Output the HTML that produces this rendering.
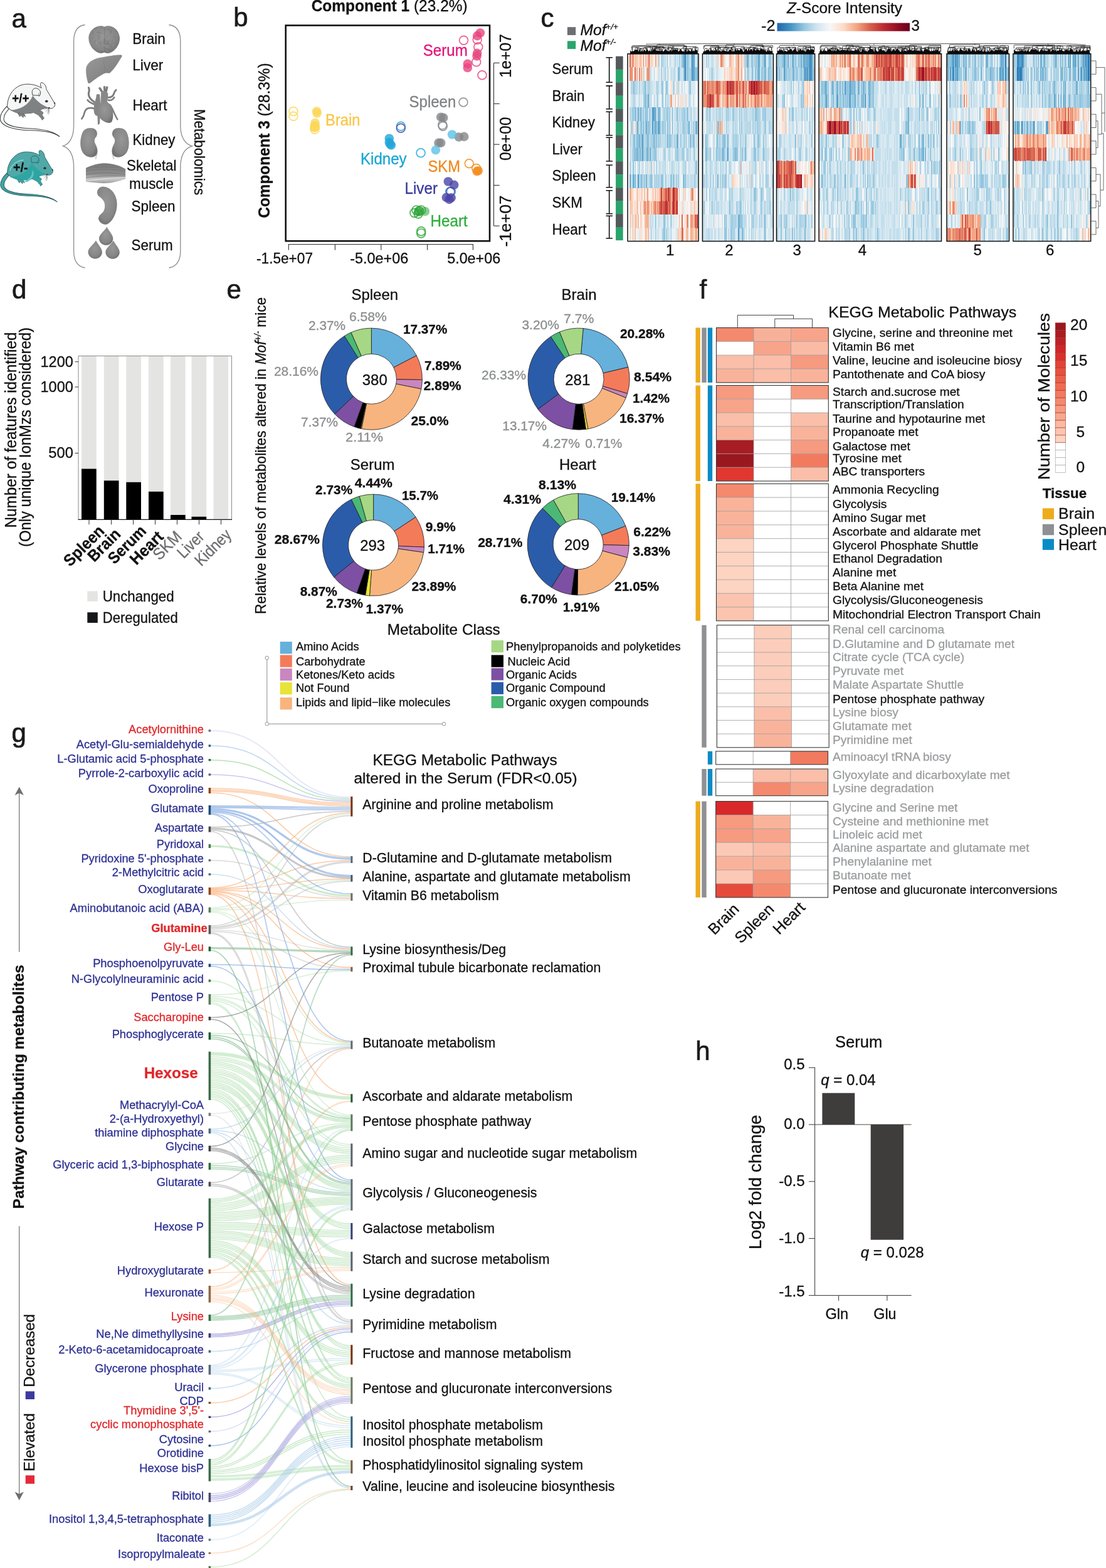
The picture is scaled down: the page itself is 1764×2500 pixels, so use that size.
<!DOCTYPE html>
<html lang="en"><head><meta charset="utf-8"><title>Figure</title>
<style>
html,body{margin:0;padding:0;background:#fff}
svg{display:block}
text{font-family:"Liberation Sans", sans-serif;stroke-width:.3px}
</style></head><body>
<svg width="1764" height="2500" viewBox="0 0 1764 2500">
<rect width="1764" height="2500" fill="#fff"/>
<g id="pa">
<text x="18.5" y="43.5" font-size="42" fill="#1a1a1a" stroke="#1a1a1a" style="stroke-width:.7px">a</text>
<g transform="translate(0,120) scale(0.09582)" stroke-linejoin="round" stroke-linecap="round">
<path d="M110 520 C50 580 -5 660 5 740 C25 850 230 905 470 915 C700 922 880 935 990 1020 C890 925 700 895 480 885 C260 875 85 830 65 745 C55 680 100 610 150 560 Z" fill="#fbfbfb" stroke="#3a3d40" stroke-width="11"/>
<path d="M300 640 L330 690 L350 665 L385 705 L395 670 L425 690 L400 640 Z" fill="#7f8283" stroke="#3a3d40" stroke-width="6"/>
<path d="M640 560 L720 620 L700 660 L735 715 L700 745 L690 720 L660 690 L640 650 Z" fill="#7f8283" stroke="#3a3d40" stroke-width="6"/>
<path d="M120 525 C120 330 250 150 450 148 C560 146 640 180 690 212 C670 170 665 130 690 120 C740 130 770 180 772 235 L905 460 C930 500 905 530 870 548 C850 560 830 548 815 540 C780 540 720 550 660 580 C640 600 620 640 640 660 L560 620 C480 640 380 640 300 630 C240 610 180 590 120 525 Z" fill="#f4f5f5" stroke="#3a3d40" stroke-width="10"/>
<path d="M160 580 C330 580 480 500 545 340 C590 400 680 500 815 540 C780 545 720 550 660 580 C650 600 640 640 660 680 L560 620 C480 640 380 640 300 630 C250 615 200 600 160 580 Z" fill="#7f8283"/>
<path d="M545 330 C510 250 560 200 620 220 C670 240 690 290 660 340 C640 330 600 340 545 330 Z" fill="#f4f5f5" stroke="#3a3d40" stroke-width="10"/>
<path d="M650 350 C640 320 640 300 655 290" fill="none" stroke="#3a3d40" stroke-width="6"/>
<ellipse cx="775" cy="432" rx="24" ry="20" fill="#333"/>
<path d="M905 440 L925 470 L900 480 Z" fill="#333"/>
<path d="M800 545 L825 530 L835 560 Z" fill="#333"/>
<path d="M810 545 L740 570" fill="none" stroke="#333" stroke-width="4"/>
<path d="M810 545 L760 610" fill="none" stroke="#333" stroke-width="4"/>
<path d="M810 545 L790 640" fill="none" stroke="#333" stroke-width="4"/>
<path d="M810 545 L810 650" fill="none" stroke="#333" stroke-width="4"/>
<path d="M810 545 L825 620" fill="none" stroke="#333" stroke-width="4"/>
</g>
<g transform="translate(0.55,228.6) scale(0.0915)" stroke-linejoin="round" stroke-linecap="round">
<path d="M110 520 C50 580 -5 660 5 740 C25 850 230 905 470 915 C700 922 880 935 990 1020 C890 925 700 895 480 885 C260 875 85 830 65 745 C55 680 100 610 150 560 Z" fill="#3fa8a6" stroke="#2b5d60" stroke-width="11"/>
<path d="M300 640 L330 690 L350 665 L385 705 L395 670 L425 690 L400 640 Z" fill="#2fa5a2" stroke="#2b5d60" stroke-width="6"/>
<path d="M640 560 L720 620 L700 660 L735 715 L700 745 L690 720 L660 690 L640 650 Z" fill="#2fa5a2" stroke="#2b5d60" stroke-width="6"/>
<path d="M120 525 C120 330 250 150 450 148 C560 146 640 180 690 212 C670 170 665 130 690 120 C740 130 770 180 772 235 L905 460 C930 500 905 530 870 548 C850 560 830 548 815 540 C780 540 720 550 660 580 C640 600 620 640 640 660 L560 620 C480 640 380 640 300 630 C240 610 180 590 120 525 Z" fill="#4fa9a8" stroke="#2b5d60" stroke-width="10"/>
<path d="M160 580 C330 580 480 500 545 340 C590 400 680 500 815 540 C780 545 720 550 660 580 C650 600 640 640 660 680 L560 620 C480 640 380 640 300 630 C250 615 200 600 160 580 Z" fill="#2fa5a2"/>
<path d="M400 665 C500 640 560 560 560 470 C600 500 590 620 470 670 Z" fill="#62c4c4"/>
<path d="M170 470 C190 380 280 300 400 290" fill="none" stroke="#d8f2f2" stroke-width="9"/>
<path d="M545 330 C510 250 560 200 620 220 C670 240 690 290 660 340 C640 330 600 340 545 330 Z" fill="#4fa9a8" stroke="#2b5d60" stroke-width="10"/>
<path d="M650 350 C640 320 640 300 655 290" fill="none" stroke="#2b5d60" stroke-width="6"/>
<ellipse cx="775" cy="432" rx="24" ry="20" fill="#333"/>
<path d="M905 440 L925 470 L900 480 Z" fill="#333"/>
<path d="M800 545 L825 530 L835 560 Z" fill="#333"/>
<path d="M810 545 L740 570" fill="none" stroke="#333" stroke-width="4"/>
<path d="M810 545 L760 610" fill="none" stroke="#333" stroke-width="4"/>
<path d="M810 545 L790 640" fill="none" stroke="#333" stroke-width="4"/>
<path d="M810 545 L810 650" fill="none" stroke="#333" stroke-width="4"/>
<path d="M810 545 L825 620" fill="none" stroke="#333" stroke-width="4"/>
</g>
<text x="19.2" y="164.4" font-size="20.5" fill="#111" stroke="#111" font-weight="bold" textLength="27.3" lengthAdjust="spacingAndGlyphs">+/+</text>
<text x="21.1" y="273.6" font-size="20.5" fill="#111" stroke="#111" font-weight="bold" textLength="23.5" lengthAdjust="spacingAndGlyphs">+/-</text>
<path d="M135.5 39.5 C124 41 117.6 50 117.6 66 L117.6 200 C117.6 220 110 230 100.5 232.8 C110 235.5 117.6 246 117.6 266 L117.6 400 C117.6 416 124 425 135.5 427" fill="none" stroke="#8a8d91" stroke-width="1.3"/>
<path d="M269.5 39.5 C281 41 287.8 50 287.8 66 L287.8 200 C287.8 220 296 230 306.5 232.8 C296 235.5 287.8 246 287.8 266 L287.8 400 C287.8 416 281 425 269.5 427" fill="none" stroke="#8a8d91" stroke-width="1.3"/>
<defs>
<radialGradient id="og" cx="45%" cy="40%" r="65%"><stop offset="0" stop-color="#979797"/><stop offset="0.7" stop-color="#868686"/><stop offset="1" stop-color="#6f6f6f"/></radialGradient>
<linearGradient id="og2" x1="0" y1="0" x2="1" y2="1"><stop offset="0" stop-color="#9a9a9a"/><stop offset="1" stop-color="#777"/></linearGradient>
<linearGradient id="mg" x1="0" y1="0" x2="0" y2="1"><stop offset="0" stop-color="#777"/><stop offset="0.55" stop-color="#8e8e8e"/><stop offset="0.8" stop-color="#c9c9c9"/><stop offset="1" stop-color="#999"/></linearGradient>
</defs>
<g transform="translate(110,30) scale(0.104527)">
<path d="M300 300 C300 180 400 112 480 108 C510 104 530 112 540 125 C550 112 580 104 610 108 C700 115 775 200 775 300 C775 400 700 500 620 522 C580 532 560 522 540 512 C520 522 500 532 460 522 C380 500 300 400 300 300 Z" fill="url(#og)"/>
<path d="M540 125 C545 250 548 400 540 512" fill="none" stroke="#666" stroke-width="5"/>
<clipPath id="bc"><path d="M300 300 C300 180 400 112 480 108 C510 104 530 112 540 125 C550 112 580 104 610 108 C700 115 775 200 775 300 C775 400 700 500 620 522 C580 532 560 522 540 512 C520 522 500 532 460 522 C380 500 300 400 300 300 Z"/></clipPath><g clip-path="url(#bc)"><path d="M412 333Q403 327 382 365" fill="none" stroke="#6f6f6f" stroke-width="6" stroke-linecap="round"/><path d="M422 206Q458 204 461 205" fill="none" stroke="#757575" stroke-width="5" stroke-linecap="round"/><path d="M598 466Q584 441 552 459" fill="none" stroke="#6f6f6f" stroke-width="6" stroke-linecap="round"/><path d="M667 448Q685 463 661 490" fill="none" stroke="#707070" stroke-width="6" stroke-linecap="round"/><path d="M642 347Q650 320 670 340" fill="none" stroke="#707070" stroke-width="5" stroke-linecap="round"/><path d="M421 386Q422 377 430 336" fill="none" stroke="#9c9c9c" stroke-width="7" stroke-linecap="round"/><path d="M575 350Q615 354 612 324" fill="none" stroke="#757575" stroke-width="7" stroke-linecap="round"/><path d="M704 505Q733 479 739 482" fill="none" stroke="#9c9c9c" stroke-width="6" stroke-linecap="round"/><path d="M358 308Q338 271 333 277" fill="none" stroke="#757575" stroke-width="5" stroke-linecap="round"/><path d="M438 425Q453 393 456 406" fill="none" stroke="#9c9c9c" stroke-width="7" stroke-linecap="round"/><path d="M714 512Q677 490 659 510" fill="none" stroke="#6f6f6f" stroke-width="5" stroke-linecap="round"/><path d="M757 230Q779 244 753 275" fill="none" stroke="#9c9c9c" stroke-width="5" stroke-linecap="round"/><path d="M721 265Q709 275 682 275" fill="none" stroke="#6f6f6f" stroke-width="7" stroke-linecap="round"/><path d="M757 443Q765 486 751 486" fill="none" stroke="#707070" stroke-width="6" stroke-linecap="round"/><path d="M545 335Q568 312 582 338" fill="none" stroke="#757575" stroke-width="5" stroke-linecap="round"/><path d="M598 246Q587 256 566 288" fill="none" stroke="#707070" stroke-width="5" stroke-linecap="round"/><path d="M577 501Q601 494 613 506" fill="none" stroke="#9c9c9c" stroke-width="5" stroke-linecap="round"/><path d="M471 238Q447 248 442 270" fill="none" stroke="#6f6f6f" stroke-width="7" stroke-linecap="round"/><path d="M621 164Q588 155 577 164" fill="none" stroke="#707070" stroke-width="7" stroke-linecap="round"/><path d="M628 152Q637 164 613 183" fill="none" stroke="#757575" stroke-width="5" stroke-linecap="round"/><path d="M458 377Q459 345 487 351" fill="none" stroke="#757575" stroke-width="6" stroke-linecap="round"/><path d="M679 454Q701 476 693 484" fill="none" stroke="#9c9c9c" stroke-width="7" stroke-linecap="round"/><path d="M361 230Q358 210 370 198" fill="none" stroke="#707070" stroke-width="7" stroke-linecap="round"/><path d="M492 487Q522 517 506 508" fill="none" stroke="#707070" stroke-width="7" stroke-linecap="round"/><path d="M747 490Q768 522 755 537" fill="none" stroke="#9c9c9c" stroke-width="7" stroke-linecap="round"/><path d="M460 203Q469 228 499 221" fill="none" stroke="#6f6f6f" stroke-width="5" stroke-linecap="round"/><path d="M725 394Q768 386 771 370" fill="none" stroke="#6f6f6f" stroke-width="6" stroke-linecap="round"/><path d="M650 180Q645 197 636 223" fill="none" stroke="#6f6f6f" stroke-width="6" stroke-linecap="round"/><path d="M359 509Q313 488 311 496" fill="none" stroke="#6f6f6f" stroke-width="7" stroke-linecap="round"/><path d="M717 159Q738 157 719 192" fill="none" stroke="#6f6f6f" stroke-width="6" stroke-linecap="round"/><path d="M595 464Q600 470 627 474" fill="none" stroke="#707070" stroke-width="5" stroke-linecap="round"/><path d="M522 428Q517 410 549 429" fill="none" stroke="#6f6f6f" stroke-width="6" stroke-linecap="round"/><path d="M758 460Q766 461 792 481" fill="none" stroke="#9c9c9c" stroke-width="6" stroke-linecap="round"/><path d="M604 351Q586 343 584 374" fill="none" stroke="#6f6f6f" stroke-width="7" stroke-linecap="round"/><path d="M640 436Q626 438 616 425" fill="none" stroke="#707070" stroke-width="7" stroke-linecap="round"/><path d="M677 365Q660 383 644 381" fill="none" stroke="#707070" stroke-width="7" stroke-linecap="round"/><path d="M497 117Q504 149 503 150" fill="none" stroke="#757575" stroke-width="6" stroke-linecap="round"/><path d="M361 122Q352 164 337 170" fill="none" stroke="#6f6f6f" stroke-width="6" stroke-linecap="round"/><path d="M625 495Q623 464 619 445" fill="none" stroke="#6f6f6f" stroke-width="7" stroke-linecap="round"/><path d="M450 328Q457 293 467 285" fill="none" stroke="#707070" stroke-width="5" stroke-linecap="round"/><path d="M548 341Q554 318 528 311" fill="none" stroke="#6f6f6f" stroke-width="5" stroke-linecap="round"/><path d="M697 386Q714 378 724 340" fill="none" stroke="#6f6f6f" stroke-width="7" stroke-linecap="round"/><path d="M540 403Q581 396 578 433" fill="none" stroke="#9c9c9c" stroke-width="7" stroke-linecap="round"/><path d="M385 142Q405 151 429 141" fill="none" stroke="#707070" stroke-width="6" stroke-linecap="round"/><path d="M473 273Q441 288 451 303" fill="none" stroke="#707070" stroke-width="7" stroke-linecap="round"/><path d="M755 280Q756 281 716 263" fill="none" stroke="#757575" stroke-width="7" stroke-linecap="round"/><path d="M488 474Q498 501 509 508" fill="none" stroke="#707070" stroke-width="7" stroke-linecap="round"/><path d="M638 186Q640 192 635 217" fill="none" stroke="#757575" stroke-width="7" stroke-linecap="round"/><path d="M553 430Q546 412 529 385" fill="none" stroke="#9c9c9c" stroke-width="5" stroke-linecap="round"/><path d="M444 220Q453 192 455 191" fill="none" stroke="#707070" stroke-width="5" stroke-linecap="round"/><path d="M497 396Q496 401 487 366" fill="none" stroke="#6f6f6f" stroke-width="6" stroke-linecap="round"/><path d="M767 140Q809 109 812 124" fill="none" stroke="#757575" stroke-width="5" stroke-linecap="round"/><path d="M605 429Q607 455 633 442" fill="none" stroke="#9c9c9c" stroke-width="5" stroke-linecap="round"/><path d="M388 399Q392 397 421 358" fill="none" stroke="#9c9c9c" stroke-width="5" stroke-linecap="round"/><path d="M499 409Q528 406 523 423" fill="none" stroke="#9c9c9c" stroke-width="6" stroke-linecap="round"/><path d="M573 387Q587 387 608 388" fill="none" stroke="#757575" stroke-width="7" stroke-linecap="round"/><path d="M575 502Q540 504 543 528" fill="none" stroke="#707070" stroke-width="5" stroke-linecap="round"/><path d="M506 326Q516 356 506 367" fill="none" stroke="#9c9c9c" stroke-width="6" stroke-linecap="round"/><path d="M439 387Q413 380 411 347" fill="none" stroke="#9c9c9c" stroke-width="7" stroke-linecap="round"/><path d="M566 326Q534 298 546 291" fill="none" stroke="#757575" stroke-width="7" stroke-linecap="round"/><path d="M603 369Q622 373 626 415" fill="none" stroke="#757575" stroke-width="6" stroke-linecap="round"/><path d="M603 376Q573 384 573 393" fill="none" stroke="#757575" stroke-width="7" stroke-linecap="round"/><path d="M332 403Q345 376 333 362" fill="none" stroke="#9c9c9c" stroke-width="6" stroke-linecap="round"/><path d="M480 468Q487 486 519 478" fill="none" stroke="#9c9c9c" stroke-width="6" stroke-linecap="round"/><path d="M744 294Q749 306 754 269" fill="none" stroke="#757575" stroke-width="6" stroke-linecap="round"/><path d="M577 389Q534 389 529 369" fill="none" stroke="#707070" stroke-width="7" stroke-linecap="round"/><path d="M649 444Q631 418 649 402" fill="none" stroke="#757575" stroke-width="7" stroke-linecap="round"/><path d="M548 343Q567 335 558 374" fill="none" stroke="#707070" stroke-width="6" stroke-linecap="round"/><path d="M746 267Q733 284 706 253" fill="none" stroke="#9c9c9c" stroke-width="7" stroke-linecap="round"/><path d="M528 357Q539 352 524 332" fill="none" stroke="#707070" stroke-width="5" stroke-linecap="round"/></g>
<path d="M260 760 C270 680 350 612 480 590 C600 570 720 545 800 550 C822 560 800 590 780 620 C740 690 680 780 620 830 C590 832 570 825 550 830 C480 860 400 920 330 975 C310 992 290 990 285 960 C270 900 255 830 260 760 Z" fill="url(#og2)"/>
<path d="M530 620 C535 700 545 770 550 830" fill="none" stroke="#777" stroke-width="5"/>
<path d="M400 1280 C340 1240 300 1200 300 1150 C300 1110 320 1080 300 1050" fill="none" stroke="#7d7d7d" stroke-width="29.9" stroke-linecap="round"/>
<path d="M400 1310 C350 1290 300 1270 285 1240" fill="none" stroke="#7d7d7d" stroke-width="27.599999999999998" stroke-linecap="round"/>
<path d="M390 1370 C320 1350 260 1360 240 1420 C230 1470 215 1500 195 1525" fill="none" stroke="#7d7d7d" stroke-width="25.299999999999997" stroke-linecap="round"/>
<path d="M600 1200 C650 1200 680 1170 690 1130 C695 1100 710 1095 720 1085" fill="none" stroke="#7d7d7d" stroke-width="27.599999999999998" stroke-linecap="round"/>
<path d="M600 1240 C640 1250 670 1230 690 1200" fill="none" stroke="#7d7d7d" stroke-width="25.299999999999997" stroke-linecap="round"/>
<path d="M620 1310 C670 1360 680 1440 740 1535" fill="none" stroke="#7d7d7d" stroke-width="23.0" stroke-linecap="round"/>
<path d="M470 1060 L510 1120" fill="none" stroke="#7d7d7d" stroke-width="34.5" stroke-linecap="round"/>
<path d="M540 1040 L545 1110" fill="none" stroke="#7d7d7d" stroke-width="32.199999999999996" stroke-linecap="round"/>
<path d="M580 1045 L565 1110" fill="none" stroke="#7d7d7d" stroke-width="34.5" stroke-linecap="round"/>
<path d="M420 1150 L470 1150 L480 1300 L470 1600 L440 1620 L435 1480 C380 1480 370 1400 385 1300 C395 1250 415 1230 420 1150 Z" fill="#858585"/>
<path d="M490 1120 C520 1090 580 1100 595 1140 C600 1200 590 1260 560 1300 L480 1320 Z" fill="#888"/>
<path d="M450 1350 C480 1270 540 1230 590 1270 C660 1330 700 1450 655 1570 C630 1600 570 1590 510 1550 C440 1500 420 1430 450 1350 Z" fill="url(#og)"/>
<path d="M390 1900 C430 1950 440 2050 405 2140" fill="none" stroke="#cfcfcf" stroke-width="22"/>
<path d="M200 1750 C220 1680 300 1650 370 1670 C430 1690 445 1760 415 1800 C385 1830 380 1870 410 1930 C450 2010 440 2080 380 2105 C300 2130 210 2080 185 1980 C165 1900 175 1820 200 1750 Z" fill="url(#og)"/>
<g transform="translate(1090,0) scale(-1,1)"><path d="M390 1900 C430 1950 440 2050 405 2140" fill="none" stroke="#cfcfcf" stroke-width="22"/>
<path d="M200 1750 C220 1680 300 1650 370 1670 C430 1690 445 1760 415 1800 C385 1830 380 1870 410 1930 C450 2010 440 2080 380 2105 C300 2130 210 2080 185 1980 C165 1900 175 1820 200 1750 Z" fill="url(#og)"/>
</g>
</g>
<g transform="translate(110,240) scale(0.087085)">
<path d="M310 320 C450 250 600 225 700 235 C850 245 960 290 1035 340 L1035 520 C900 570 750 600 640 600 C520 590 400 580 310 570 Z" fill="url(#mg)"/>
<path d="M310 380 C500 330 800 330 1035 380" fill="none" stroke="#6c6c6c" stroke-width="7"/>
<path d="M310 440 C500 400 800 400 1035 440" fill="none" stroke="#6c6c6c" stroke-width="7"/>
<path d="M330 330 C500 290 800 290 1000 330" fill="none" stroke="#6c6c6c" stroke-width="7"/>
<path d="M310 500 C500 470 800 450 1035 470" fill="none" stroke="#6c6c6c" stroke-width="7"/>
<path d="M310 560 C500 530 800 500 1035 490" fill="none" stroke="#e0e0e0" stroke-width="14"/>
<path d="M620 660 C760 660 880 800 880 980 C880 1150 800 1300 700 1350 C640 1370 570 1330 545 1270 C530 1220 560 1180 600 1150 C650 1110 660 1050 655 990 C650 920 600 870 550 840 C510 810 505 740 540 700 C560 675 590 660 620 660 Z" fill="url(#og)"/>
<g transform="translate(680,1600) rotate(4)"><path d="M0 -195 C30 -140 125 -60 125 10 C125 80 70 130 0 130 C-70 130 -125 80 -125 10 C-125 -60 -20 -140 0 -195 Z" fill="url(#og)" stroke="#6a6a6a" stroke-width="6"/>
</g>
<g transform="translate(480,1848) rotate(4)"><path d="M0 -195 C30 -140 125 -60 125 10 C125 80 70 130 0 130 C-70 130 -125 80 -125 10 C-125 -60 -20 -140 0 -195 Z" fill="url(#og)" stroke="#6a6a6a" stroke-width="6"/>
</g>
<g transform="translate(800,1850) rotate(4)"><path d="M0 -195 C30 -140 125 -60 125 10 C125 80 70 130 0 130 C-70 130 -125 80 -125 10 C-125 -60 -20 -140 0 -195 Z" fill="url(#og)" stroke="#6a6a6a" stroke-width="6"/>
</g>
</g>
<text x="211.3" y="70.2" font-size="24" fill="#111" stroke="#111" textLength="52.5" lengthAdjust="spacingAndGlyphs">Brain</text>
<text x="211.3" y="111.6" font-size="24" fill="#111" stroke="#111" textLength="49.0" lengthAdjust="spacingAndGlyphs">Liver</text>
<text x="211.5" y="176.0" font-size="24" fill="#111" stroke="#111" textLength="55.0" lengthAdjust="spacingAndGlyphs">Heart</text>
<text x="211.5" y="231.4" font-size="24" fill="#111" stroke="#111" textLength="68.0" lengthAdjust="spacingAndGlyphs">Kidney</text>
<text x="202.0" y="272.0" font-size="24" fill="#111" stroke="#111" textLength="79.5" lengthAdjust="spacingAndGlyphs">Skeletal</text>
<text x="206.0" y="301.0" font-size="24" fill="#111" stroke="#111" textLength="71.0" lengthAdjust="spacingAndGlyphs">muscle</text>
<text x="209.6" y="337.0" font-size="24" fill="#111" stroke="#111" textLength="70.0" lengthAdjust="spacingAndGlyphs">Spleen</text>
<text x="209.6" y="399.4" font-size="24" fill="#111" stroke="#111" textLength="66.0" lengthAdjust="spacingAndGlyphs">Serum</text>
<text x="309.5" y="174.0" font-size="24" fill="#111" stroke="#111" textLength="137.0" lengthAdjust="spacingAndGlyphs" transform="rotate(90 309.5 174.0)">Metabolomics</text>
</g>
<g id="pb">
<text x="372.3" y="41.7" font-size="42" fill="#1a1a1a" stroke="#1a1a1a" style="stroke-width:.7px">b</text>
<text x="496.7" y="18.3" font-size="25.5" fill="#111" stroke="#111" textLength="249" lengthAdjust="spacingAndGlyphs"><tspan font-weight="bold">Component 1</tspan> (23.2%)</text>
<text x="430.4" y="347.5" font-size="25.5" fill="#111" stroke="#111" textLength="247" lengthAdjust="spacingAndGlyphs" transform="rotate(-90 430.4 347.5)"><tspan font-weight="bold">Component 3</tspan> (28.3%)</text>
<rect x="455.7" y="40.5" width="325.3" height="343.8" fill="#fff" stroke="#111" stroke-width="2.6"/>
<line x1="459.8" y1="389.7" x2="754.9" y2="389.7" stroke="#222" stroke-width="1"/>
<line x1="460.3" y1="389.7" x2="460.3" y2="398.7" stroke="#222" stroke-width="1"/>
<line x1="534.4" y1="389.7" x2="534.4" y2="398.7" stroke="#222" stroke-width="1"/>
<line x1="607.8" y1="389.7" x2="607.8" y2="398.7" stroke="#222" stroke-width="1"/>
<line x1="681.6" y1="389.7" x2="681.6" y2="398.7" stroke="#222" stroke-width="1"/>
<line x1="754.4" y1="389.7" x2="754.4" y2="398.7" stroke="#222" stroke-width="1"/>
<text x="409.0" y="420.0" font-size="24.5" fill="#111" stroke="#111" textLength="90.0" lengthAdjust="spacingAndGlyphs">-1.5e+07</text>
<text x="558.3" y="420.0" font-size="24.5" fill="#111" stroke="#111" textLength="93.0" lengthAdjust="spacingAndGlyphs">-5.0e+06</text>
<text x="713.2" y="420.0" font-size="24.5" fill="#111" stroke="#111" textLength="85.0" lengthAdjust="spacingAndGlyphs">5.0e+06</text>
<line x1="787.5" y1="100.3" x2="787.5" y2="360.2" stroke="#222" stroke-width="1"/>
<line x1="787.5" y1="100.3" x2="796.7" y2="100.3" stroke="#222" stroke-width="1"/>
<line x1="787.5" y1="165.4" x2="796.7" y2="165.4" stroke="#222" stroke-width="1"/>
<line x1="787.5" y1="230.2" x2="796.7" y2="230.2" stroke="#222" stroke-width="1"/>
<line x1="787.5" y1="295.4" x2="796.7" y2="295.4" stroke="#222" stroke-width="1"/>
<line x1="787.5" y1="360.2" x2="796.7" y2="360.2" stroke="#222" stroke-width="1"/>
<text x="814.7" y="124.0" font-size="25.5" fill="#111" stroke="#111" textLength="70.0" lengthAdjust="spacingAndGlyphs" transform="rotate(-90 814.7 124.0)">1e+07</text>
<text x="814.7" y="256.0" font-size="25.5" fill="#111" stroke="#111" textLength="69.5" lengthAdjust="spacingAndGlyphs" transform="rotate(-90 814.7 256.0)">0e+00</text>
<text x="814.7" y="393.5" font-size="25.5" fill="#111" stroke="#111" textLength="82.0" lengthAdjust="spacingAndGlyphs" transform="rotate(-90 814.7 393.5)">-1e+07</text>
<circle cx="765.9" cy="52.5" r="7.3" fill="#e8457f" fill-opacity="0.8"/>
<circle cx="761.2" cy="57.1" r="7.3" fill="#e8457f" fill-opacity="0.8"/>
<circle cx="761.2" cy="84.9" r="7.3" fill="#e8457f" fill-opacity="0.8"/>
<circle cx="760.6" cy="89.5" r="7.3" fill="#e8457f" fill-opacity="0.8"/>
<circle cx="745.8" cy="101.9" r="7.3" fill="#e8457f" fill-opacity="0.8"/>
<circle cx="745.8" cy="108.0" r="7.3" fill="#e8457f" fill-opacity="0.8"/>
<circle cx="739.6" cy="64.2" r="6.9" fill="none" stroke="#e8457f" stroke-width="1.7" stroke-opacity="0.85"/>
<circle cx="761.2" cy="63.3" r="6.9" fill="none" stroke="#e8457f" stroke-width="1.7" stroke-opacity="0.85"/>
<circle cx="762.8" cy="75.0" r="6.9" fill="none" stroke="#e8457f" stroke-width="1.7" stroke-opacity="0.85"/>
<circle cx="759.7" cy="98.8" r="6.9" fill="none" stroke="#e8457f" stroke-width="1.7" stroke-opacity="0.85"/>
<circle cx="769.0" cy="119.8" r="6.9" fill="none" stroke="#e8457f" stroke-width="1.7" stroke-opacity="0.85"/>
<circle cx="703.2" cy="186.7" r="7.3" fill="#858688" fill-opacity="0.8"/>
<circle cx="707.2" cy="187.7" r="7.3" fill="#858688" fill-opacity="0.8"/>
<circle cx="699.5" cy="227.8" r="7.3" fill="#858688" fill-opacity="0.8"/>
<circle cx="703.2" cy="227.8" r="7.3" fill="#858688" fill-opacity="0.8"/>
<circle cx="731.9" cy="218.5" r="7.3" fill="#858688" fill-opacity="0.8"/>
<circle cx="740.2" cy="217.9" r="7.3" fill="#858688" fill-opacity="0.8"/>
<circle cx="739.0" cy="163.0" r="6.9" fill="none" stroke="#858688" stroke-width="1.7" stroke-opacity="0.85"/>
<circle cx="705.7" cy="199.1" r="6.9" fill="none" stroke="#858688" stroke-width="1.7" stroke-opacity="0.85"/>
<circle cx="706.3" cy="201.2" r="6.9" fill="none" stroke="#858688" stroke-width="1.7" stroke-opacity="0.85"/>
<circle cx="505.1" cy="177.5" r="7.3" fill="#fbd757" fill-opacity="0.8"/>
<circle cx="505.7" cy="180.6" r="7.3" fill="#fbd757" fill-opacity="0.8"/>
<circle cx="502.6" cy="196.0" r="7.3" fill="#fbd757" fill-opacity="0.8"/>
<circle cx="502.0" cy="200.6" r="7.3" fill="#fbd757" fill-opacity="0.8"/>
<circle cx="501.4" cy="203.7" r="7.3" fill="#fbd757" fill-opacity="0.8"/>
<circle cx="468.0" cy="177.5" r="6.9" fill="none" stroke="#fbd757" stroke-width="1.7" stroke-opacity="0.85"/>
<circle cx="468.0" cy="185.2" r="6.9" fill="none" stroke="#fbd757" stroke-width="1.7" stroke-opacity="0.85"/>
<circle cx="502.6" cy="202.2" r="6.9" fill="none" stroke="#fbd757" stroke-width="1.7" stroke-opacity="0.85"/>
<circle cx="502.0" cy="206.2" r="6.9" fill="none" stroke="#fbd757" stroke-width="1.7" stroke-opacity="0.85"/>
<circle cx="620.8" cy="220.7" r="7.3" fill="#22a6da" fill-opacity="0.8"/>
<circle cx="620.8" cy="226.9" r="7.3" fill="#22a6da" fill-opacity="0.8"/>
<circle cx="622.3" cy="229.9" r="7.3" fill="#22a6da" fill-opacity="0.8"/>
<circle cx="623.9" cy="231.5" r="7.3" fill="#22a6da" fill-opacity="0.8"/>
<circle cx="639.3" cy="201.2" r="6.9" fill="none" stroke="#22a6da" stroke-width="1.7" stroke-opacity="0.85"/>
<circle cx="671.1" cy="243.8" r="6.9" fill="none" stroke="#22a6da" stroke-width="1.7" stroke-opacity="0.85"/>
<circle cx="719.6" cy="305.6" r="6.9" fill="none" stroke="#22a6da" stroke-width="1.7" stroke-opacity="0.85"/>
<circle cx="721.1" cy="214.5" r="7.3" fill="#5cc0e8" fill-opacity="0.8"/>
<circle cx="694.9" cy="239.2" r="7.3" fill="#5cc0e8" fill-opacity="0.8"/>
<circle cx="714.9" cy="289.5" r="7.3" fill="#4a43a6" fill-opacity="0.8"/>
<circle cx="724.2" cy="294.8" r="7.3" fill="#4a43a6" fill-opacity="0.8"/>
<circle cx="711.9" cy="314.8" r="7.3" fill="#4a43a6" fill-opacity="0.8"/>
<circle cx="716.5" cy="317.9" r="7.3" fill="#4a43a6" fill-opacity="0.8"/>
<circle cx="719.6" cy="315.4" r="7.3" fill="#4a43a6" fill-opacity="0.8"/>
<circle cx="639.3" cy="204.3" r="6.9" fill="none" stroke="#4a43a6" stroke-width="1.7" stroke-opacity="0.85"/>
<circle cx="718.0" cy="305.6" r="6.9" fill="none" stroke="#4a43a6" stroke-width="1.7" stroke-opacity="0.85"/>
<circle cx="760.6" cy="273.1" r="7.3" fill="#f28c1e" fill-opacity="0.8"/>
<circle cx="762.8" cy="272.2" r="7.3" fill="#f28c1e" fill-opacity="0.8"/>
<circle cx="748.3" cy="260.8" r="6.9" fill="none" stroke="#f28c1e" stroke-width="1.7" stroke-opacity="0.85"/>
<circle cx="759.7" cy="268.5" r="6.9" fill="none" stroke="#f28c1e" stroke-width="1.7" stroke-opacity="0.85"/>
<circle cx="677.9" cy="337.0" r="7.3" fill="#2ea43a" fill-opacity="0.55"/>
<circle cx="668.6" cy="335.8" r="7.3" fill="#2ea43a" fill-opacity="0.55"/>
<circle cx="667.1" cy="338.0" r="7.3" fill="#2ea43a" fill-opacity="0.55"/>
<circle cx="664.0" cy="334.9" r="6.9" fill="none" stroke="#2ea43a" stroke-width="1.7" stroke-opacity="0.85"/>
<circle cx="668.6" cy="336.4" r="6.9" fill="none" stroke="#2ea43a" stroke-width="1.7" stroke-opacity="0.85"/>
<circle cx="671.7" cy="334.9" r="6.9" fill="none" stroke="#2ea43a" stroke-width="1.7" stroke-opacity="0.85"/>
<circle cx="660.9" cy="339.5" r="6.9" fill="none" stroke="#2ea43a" stroke-width="1.7" stroke-opacity="0.85"/>
<circle cx="667.1" cy="341.0" r="6.9" fill="none" stroke="#2ea43a" stroke-width="1.7" stroke-opacity="0.85"/>
<circle cx="671.7" cy="368.8" r="6.9" fill="none" stroke="#2ea43a" stroke-width="1.7" stroke-opacity="0.85"/>
<circle cx="671.7" cy="371.9" r="6.9" fill="none" stroke="#2ea43a" stroke-width="1.7" stroke-opacity="0.85"/>
<text x="674.8" y="88.9" font-size="25" fill="#e3177a" stroke="#e3177a" textLength="71.0" lengthAdjust="spacingAndGlyphs">Serum</text>
<text x="652.6" y="171.3" font-size="25" fill="#808285" stroke="#808285" textLength="74.7" lengthAdjust="spacingAndGlyphs">Spleen</text>
<text x="519.0" y="200.0" font-size="25" fill="#f9c74a" stroke="#f9c74a" textLength="55.6" lengthAdjust="spacingAndGlyphs">Brain</text>
<text x="575.1" y="262.3" font-size="25" fill="#18a5d6" stroke="#18a5d6" textLength="73.5" lengthAdjust="spacingAndGlyphs">Kidney</text>
<text x="682.5" y="274.1" font-size="25" fill="#f08a1d" stroke="#f08a1d" textLength="51.5" lengthAdjust="spacingAndGlyphs">SKM</text>
<text x="645.5" y="308.6" font-size="25" fill="#3a3a9c" stroke="#3a3a9c" textLength="52.5" lengthAdjust="spacingAndGlyphs">Liver</text>
<text x="686.5" y="360.5" font-size="25" fill="#2fae3d" stroke="#2fae3d" textLength="59.3" lengthAdjust="spacingAndGlyphs">Heart</text>
</g>
<g id="pc">
<text x="862.5" y="42.8" font-size="42" fill="#1a1a1a" stroke="#1a1a1a" style="stroke-width:.7px">c</text>
<rect x="904.9" y="43.2" width="13.3" height="12.8" fill="#6d6e71"/>
<rect x="904.9" y="65.3" width="13.3" height="12.8" fill="#2ba56c"/>
<text x="925.5" y="56" font-size="24" font-style="italic" fill="#111" stroke="#111" textLength="41" lengthAdjust="spacingAndGlyphs">Mof</text>
<text x="966.3" y="46.5" font-size="13.5" font-style="italic" fill="#111" stroke="#111">+/+</text>
<text x="925.5" y="80.5" font-size="24" font-style="italic" fill="#111" stroke="#111" textLength="41" lengthAdjust="spacingAndGlyphs">Mof</text>
<text x="966.3" y="71.0" font-size="13.5" font-style="italic" fill="#111" stroke="#111">+/-</text>
<defs><linearGradient id="zb" x1="0" x2="1" y1="0" y2="0"><stop offset="0.0" stop-color="#2166ac"/><stop offset="0.1" stop-color="#4393c3"/><stop offset="0.2" stop-color="#92c5de"/><stop offset="0.3" stop-color="#d1e5f0"/><stop offset="0.4" stop-color="#f7f7f7"/><stop offset="0.5" stop-color="#fddbc7"/><stop offset="0.6" stop-color="#f4a582"/><stop offset="0.7" stop-color="#d6604d"/><stop offset="0.8" stop-color="#bc2d35"/><stop offset="0.9" stop-color="#960f26"/><stop offset="1.0" stop-color="#67001f"/></linearGradient></defs>
<rect x="1239.5" y="36.6" width="211.5" height="13.1" fill="url(#zb)"/>
<text x="1255" y="20.5" font-size="24" fill="#111" stroke="#111" textLength="184" lengthAdjust="spacingAndGlyphs"><tspan font-style="italic">Z</tspan>-Score Intensity</text>
<text x="1214.0" y="49.2" font-size="24" fill="#111" stroke="#111" textLength="22.5" lengthAdjust="spacingAndGlyphs">-2</text>
<text x="1453.5" y="49.2" font-size="24" fill="#111" stroke="#111">3</text>
<text x="880.4" y="117.9" font-size="24" fill="#111" stroke="#111" textLength="65.3" lengthAdjust="spacingAndGlyphs">Serum</text>
<text x="880.4" y="160.5" font-size="24" fill="#111" stroke="#111" textLength="52.0" lengthAdjust="spacingAndGlyphs">Brain</text>
<text x="880.4" y="203.1" font-size="24" fill="#111" stroke="#111" textLength="68.5" lengthAdjust="spacingAndGlyphs">Kidney</text>
<text x="880.4" y="245.7" font-size="24" fill="#111" stroke="#111" textLength="48.5" lengthAdjust="spacingAndGlyphs">Liver</text>
<text x="880.4" y="288.3" font-size="24" fill="#111" stroke="#111" textLength="70.0" lengthAdjust="spacingAndGlyphs">Spleen</text>
<text x="880.4" y="330.9" font-size="24" fill="#111" stroke="#111" textLength="48.5" lengthAdjust="spacingAndGlyphs">SKM</text>
<text x="880.4" y="373.5" font-size="24" fill="#111" stroke="#111" textLength="55.0" lengthAdjust="spacingAndGlyphs">Heart</text>
<path d="M966.5 91.7H977M971.7 91.7V131.2M966.5 131.2H977" fill="none" stroke="#111" stroke-width="1.6"/>
<path d="M966.5 136.9H977M971.7 136.9V173.8M966.5 173.8H977" fill="none" stroke="#111" stroke-width="1.6"/>
<path d="M966.5 178.3H977M971.7 178.3V215.8M966.5 215.8H977" fill="none" stroke="#111" stroke-width="1.6"/>
<path d="M966.5 219.2H977M971.7 219.2V257M966.5 257H977" fill="none" stroke="#111" stroke-width="1.6"/>
<path d="M966.5 263.2H977M971.7 263.2V298.7M966.5 298.7H977" fill="none" stroke="#111" stroke-width="1.6"/>
<path d="M966.5 303.8H977M971.7 303.8V340.8M966.5 340.8H977" fill="none" stroke="#111" stroke-width="1.6"/>
<path d="M966.5 344.2H977M971.7 344.2V380M966.5 380H977" fill="none" stroke="#111" stroke-width="1.6"/>
<rect x="982.1" y="89.7" width="11.6" height="21.2" fill="#54595b"/>
<rect x="982.1" y="110.7" width="11.6" height="21.2" fill="#2aa46c"/>
<rect x="982.1" y="131.6" width="11.6" height="21.2" fill="#54595b"/>
<rect x="982.1" y="152.6" width="11.6" height="21.2" fill="#2aa46c"/>
<rect x="982.1" y="173.5" width="11.6" height="21.2" fill="#54595b"/>
<rect x="982.1" y="194.4" width="11.6" height="21.2" fill="#2aa46c"/>
<rect x="982.1" y="215.4" width="11.6" height="21.2" fill="#54595b"/>
<rect x="982.1" y="236.4" width="11.6" height="21.2" fill="#2aa46c"/>
<rect x="982.1" y="257.3" width="11.6" height="21.2" fill="#54595b"/>
<rect x="982.1" y="278.2" width="11.6" height="21.2" fill="#2aa46c"/>
<rect x="982.1" y="299.2" width="11.6" height="21.2" fill="#54595b"/>
<rect x="982.1" y="320.1" width="11.6" height="21.2" fill="#2aa46c"/>
<rect x="982.1" y="341.1" width="11.6" height="21.2" fill="#54595b"/>
<rect x="982.1" y="362.0" width="11.6" height="21.2" fill="#2aa46c"/>
<g shape-rendering="crispEdges" stroke-width="21.81" fill="none">
<path stroke="#d15648" d="M1004.4 97H1005.9M1035 97H1036.3M1060.9 310H1063.7M1078.8 310H1080.8M1044.6 331.3H1046.1M1052.4 331.3H1054.4M1058.4 331.3H1060.9M1063.7 331.3H1064.7M1071.5 331.3H1073M1077.8 331.3H1078.8M1107.7 352.6H1109M1125.2 139.6H1126.2M1142 139.6H1145.6M1174 139.6H1176.5M1178.5 139.6H1179.5M1184 139.6H1187.3M1194.6 139.6H1197.1M1210.9 139.6H1213.4M1214.4 139.6H1215.9M1217.7 139.6H1221.2M1129 160.9H1130M1134 160.9H1136.5M1144.1 160.9H1145.6M1174 160.9H1176.5M1178.5 160.9H1179.5M1239.3 267.4H1240.3M1249.6 267.4H1251.9M1257.5 267.4H1259.5M1260.3 267.4H1262.3M1267.7 267.4H1269.7M1258.5 288.7H1260.3M1267.7 288.7H1269.7M1401.1 97H1403.6M1406.1 97H1407.6M1408.6 97H1409.6M1411.6 97H1413.9M1414.7 97H1415.7M1418.2 97H1419.2M1428 97H1429.3M1439.1 97H1440.6M1471.3 97H1472.6M1476.9 97H1477.9M1481.4 97H1482.4M1497 97H1498M1367.5 118.3H1368.5M1373.1 118.3H1376.4M1407.6 118.3H1408.6M1410.6 118.3H1413.9M1422.5 118.3H1423.5M1428 118.3H1429.3M1440.6 118.3H1441.9M1465.5 118.3H1466.3M1474.1 118.3H1475.1M1482.4 118.3H1484.4M1492.7 118.3H1493.7M1498 118.3H1500M1320.2 203.5H1321.2M1335.3 203.5H1337.8M1340.3 203.5H1342.3M1453.2 288.7H1454.2M1572.9 203.5H1575.4M1578.7 203.5H1580.7M1587.3 203.5H1589.8M1592.3 203.5H1594.3M1534.1 352.6H1534.9M1538.5 352.6H1541M1529.3 373.9H1530.8M1534.1 373.9H1534.9M1538.5 373.9H1541M1556.9 373.9H1557.7M1695.7 203.5H1697M1703.3 203.5H1705.6M1616.7 246.1H1618.7M1621.2 246.1H1622.2M1623.7 246.1H1625.7M1636.8 246.1H1643.6M1656.6 246.1H1658.1M1659.4 246.1H1660.9M1709.6 246.1H1711.1M1728.8 246.1H1729.8"/>
<path stroke="#f9ece4" d="M1005.9 97H1006.9M1041.6 97H1042.6M1048.1 97H1048.9M1047.1 118.3H1048.1M1052.4 118.3H1054.4M1066.7 118.3H1067.7M1076.8 139.6H1077.8M1075.5 160.9H1076.8M1090.6 160.9H1092.1M1033.2 267.4H1034M1035 267.4H1036.3M1040.3 267.4H1041.6M1011.7 310H1013.2M1015 310H1015.8M1021.8 310H1022.8M1025.8 310H1026.6M1034 310H1036.3M1042.6 310H1043.6M1081.8 310H1083.3M1105.9 310H1107.7M1111.5 310H1112.8M1010.7 331.3H1011.7M1014 331.3H1015M1023.8 331.3H1025.8M1084.3 331.3H1086.8M1095.1 331.3H1097.6M1100.1 331.3H1101.1M1022.8 352.6H1025.8M1084.3 352.6H1086.8M1088.8 352.6H1089.6M1090.6 352.6H1092.1M1093.6 352.6H1095.1M1009.7 373.9H1010.7M1014 373.9H1015M1015.8 373.9H1018.8M1020.8 373.9H1021.8M1022.8 373.9H1025.8M1026.6 373.9H1028.6M1032.2 373.9H1033.2M1106.9 373.9H1107.7M1166.7 97H1168.2M1161.7 118.3H1162.7M1184 118.3H1184.8M1152.6 203.5H1153.6M1187.3 267.4H1188.3M1192.1 267.4H1193.6M1197.1 267.4H1198.1M1208.4 267.4H1210.9M1213.4 267.4H1214.4M1172.5 288.7H1176.5M1141 352.6H1142M1142.8 352.6H1144.1M1254.4 139.6H1255.4M1285 139.6H1287.3M1292.4 139.6H1293.4M1294.7 139.6H1295.5M1254.4 160.9H1255.4M1285 160.9H1285.8M1240.3 182.2H1242.3M1244.8 182.2H1246.1M1249.6 182.2H1250.4M1254.4 182.2H1255.4M1240.3 203.5H1244.8M1269.7 224.8H1271.7M1281.5 224.8H1282.5M1288.3 224.8H1289.3M1282.5 267.4H1285M1285.8 267.4H1287.3M1291.1 267.4H1292.4M1278.7 288.7H1281.5M1285 310H1285.8M1296.8 310H1298.8M1289.3 331.3H1290.1M1296.8 331.3H1298.8M1308.9 97H1311.4M1320.2 97H1321.2M1335.3 97H1336.8M1358.2 97H1359.7M1365.2 97H1367.5M1443.4 97H1444.4M1450.4 97H1452.4M1453.2 97H1454.2M1311.4 118.3H1313.4M1321.2 118.3H1322.2M1339.3 118.3H1340.3M1343.1 118.3H1344.9M1347.2 118.3H1348.5M1349.3 118.3H1350.1M1447.9 118.3H1450.4M1487.4 139.6H1488.4M1456.2 160.9H1457.7M1492.7 160.9H1493.7M1500 160.9H1500.7M1344.9 182.2H1346.4M1314.7 203.5H1317.2M1365.2 203.5H1366.5M1367.5 203.5H1368.5M1335.3 224.8H1336.8M1337.8 224.8H1339.3M1342.3 224.8H1343.1M1351.6 224.8H1352.6M1361.2 246.1H1363.2M1365.2 246.1H1366.5M1371.3 246.1H1372.3M1454.2 267.4H1455.2M1444.4 288.7H1445.4M1461 288.7H1465.5M1469.3 288.7H1472.6M1440.6 331.3H1441.9M1453.2 331.3H1454.2M1543.6 139.6H1544.6M1597.1 139.6H1598.6M1600.6 139.6H1601.6M1534.9 160.9H1535.7M1589.8 160.9H1591.3M1594.3 160.9H1597.1M1542.3 182.2H1543.6M1581.5 182.2H1583M1591.3 182.2H1592.3M1593.3 182.2H1594.3M1596.3 182.2H1597.1M1598.6 182.2H1600.6M1603.2 203.5H1605.2M1607.7 203.5H1608.5M1559 224.8H1561.5M1569.3 224.8H1570.8M1605.2 224.8H1607.7M1559 246.1H1561.5M1572.9 246.1H1575.4M1585.5 246.1H1586.5M1591.3 246.1H1592.3M1513.1 267.4H1514.4M1522.7 267.4H1524.2M1534.1 267.4H1534.9M1541 267.4H1542.3M1519.2 288.7H1521.7M1522.7 288.7H1524.2M1525.7 288.7H1527M1514.4 310H1515.4M1517.2 331.3H1519.2M1616.7 182.2H1618.7M1625.7 182.2H1627M1635.8 182.2H1638.1M1639.1 182.2H1641.1M1650.4 182.2H1651.2M1661.9 182.2H1663.9M1664.9 182.2H1665.7M1666.7 182.2H1668.7M1733.8 182.2H1734.6M1737.1 182.2H1737.9M1681.8 203.5H1682.8M1719.7 203.5H1720.7M1721.5 203.5H1723M1737.9 203.5H1738.9M1616.7 224.8H1618.7M1621.2 224.8H1622.2M1627 224.8H1628.5M1630 224.8H1631M1670.7 224.8H1671.5M1673.5 224.8H1675.5M1684.8 224.8H1685.8M1689.3 224.8H1690.6M1694.7 224.8H1695.7M1697 224.8H1699.8M1707.1 224.8H1708.1M1709.6 224.8H1711.1M1726.8 224.8H1727.8M1735.6 224.8H1737.1M1678 246.1H1680M1691.6 246.1H1692.9M1693.9 246.1H1694.7M1700.8 246.1H1703.3M1618.7 267.4H1621.2M1623.7 267.4H1625.7M1630 267.4H1631M1631 310H1633M1638.1 310H1639.1M1660.9 310H1661.9M1718.7 310H1719.7M1720.7 310H1721.5M1727.8 310H1728.8M1731.8 310H1733.8M1724.5 352.6H1725.5M1728.8 352.6H1729.8M1734.6 352.6H1735.6M1737.9 352.6H1738.9M1721.5 373.9H1723"/>
<path stroke="#f4a582" d="M1006.9 97H1008.9M1009.7 97H1010.7M1013.2 97H1014M1044.6 97H1046.1M1005.9 118.3H1006.9M1014 118.3H1015M1022.8 118.3H1023.8M1031.4 118.3H1032.2M1033.2 118.3H1034M1069 160.9H1071.5M1004.4 310H1005.9M1015.8 310H1016.8M1027.6 310H1028.6M1032.2 310H1034M1044.6 310H1046.1M1052.4 310H1054.4M1055.9 310H1058.4M1063.7 310H1064.7M1069 310H1071.5M1015.8 331.3H1016.8M1020.8 331.3H1021.8M1025.8 331.3H1026.6M1029.4 331.3H1031.4M1034 331.3H1036.3M1041.6 331.3H1042.6M1043.6 331.3H1044.6M1047.1 331.3H1048.1M1069 331.3H1071.5M1008.9 352.6H1009.7M1014 352.6H1015M1031.4 352.6H1032.2M1033.2 352.6H1034M1101.1 352.6H1102.1M1103.4 352.6H1105.9M1102.1 373.9H1103.4M1109 373.9H1111.5M1152.6 97H1153.6M1182 118.3H1183M1121.2 139.6H1122.2M1133 139.6H1134M1137.5 139.6H1140M1141 139.6H1142M1145.6 139.6H1146.4M1151.8 139.6H1153.6M1156.9 139.6H1157.9M1171.5 139.6H1172.5M1176.5 139.6H1178.5M1182 139.6H1183M1215.9 139.6H1217.7M1227 139.6H1231M1124.2 160.9H1125.2M1140 160.9H1141M1145.6 160.9H1146.4M1147.2 160.9H1148M1151.8 160.9H1152.6M1153.6 160.9H1154.6M1156.1 160.9H1156.9M1157.9 160.9H1159.2M1182 160.9H1183M1192.1 160.9H1193.6M1197.1 160.9H1200.1M1201.9 160.9H1204.4M1210.9 160.9H1211.9M1213.4 160.9H1214.4M1217.7 160.9H1218.7M1222.2 160.9H1224.7M1227 160.9H1232M1144.1 203.5H1145.6M1182 267.4H1183M1244.8 267.4H1246.1M1247.1 267.4H1249.6M1265.6 267.4H1267.7M1247.1 288.7H1249.6M1265.6 288.7H1267.7M1282.5 288.7H1285M1328.2 97H1330.3M1339.3 97H1342.3M1343.9 97H1344.9M1346.4 97H1347.2M1351.6 97H1354.1M1371.3 97H1372.3M1376.4 97H1377.7M1381.2 97H1383.2M1384.5 97H1385.5M1391.3 97H1392.8M1403.6 97H1404.6M1465.5 97H1466.3M1485.4 97H1487.4M1496.2 97H1497M1358.2 118.3H1359.7M1368.5 118.3H1369.3M1385.5 118.3H1386.5M1388.8 118.3H1390.3M1392.8 118.3H1393.8M1426 118.3H1428M1313.4 182.2H1314.7M1330.3 182.2H1332.8M1337.8 182.2H1339.3M1308.9 203.5H1311.4M1349.3 203.5H1350.1M1372.3 224.8H1374.1M1375.1 246.1H1376.4M1383.2 246.1H1384.5M1452.4 267.4H1453.2M1603.2 139.6H1605.2M1584.5 182.2H1585.5M1525.7 203.5H1527M1529.3 203.5H1530.8M1521.7 331.3H1522.7M1531.8 352.6H1533.1M1541 352.6H1542.3M1543.6 352.6H1548.1M1552.6 352.6H1553.6M1554.6 352.6H1555.6M1559 352.6H1564M1513.1 373.9H1514.4M1516.2 373.9H1517.2M1521.7 373.9H1522.7M1528 373.9H1529.3M1530.8 373.9H1531.8M1535.7 373.9H1537M1550.1 373.9H1554.6M1559 373.9H1561.5M1678 182.2H1680M1695.7 182.2H1697M1699.8 182.2H1700.8M1704.6 182.2H1705.6M1708.1 182.2H1709.6M1712.1 182.2H1713.4M1714.2 182.2H1716.2M1726.8 182.2H1727.8M1671.5 203.5H1673.5M1677 203.5H1678M1688.3 203.5H1691.6M1693.9 203.5H1694.7M1712.1 203.5H1713.4M1618.7 224.8H1621.2M1623.7 224.8H1625.7M1634 224.8H1635.8M1641.1 224.8H1644.6M1655.8 224.8H1656.6M1666.7 224.8H1668.7M1721.5 224.8H1723M1728.8 224.8H1729.8M1628.5 246.1H1630M1635.8 246.1H1636.8M1651.2 246.1H1654M1655 246.1H1655.8M1707.1 246.1H1708.1M1712.1 246.1H1713.4M1727.8 246.1H1728.8M1733.8 246.1H1735.6M1737.9 246.1H1738.9M1735.6 373.9H1737.1"/>
<path stroke="#e8896d" d="M1008.9 97H1009.7M1025.8 97H1026.6M1033.2 97H1034M1004.4 118.3H1005.9M1006.9 118.3H1008.9M1013.2 118.3H1014M1015.8 118.3H1016.8M1018.8 118.3H1020.8M1032.2 118.3H1033.2M1034 118.3H1036.3M1058.4 310H1060.9M1066.7 310H1067.7M1071.5 310H1073M1103.4 310H1105.9M1032.2 331.3H1034M1042.6 331.3H1043.6M1048.1 331.3H1048.9M1049.9 331.3H1052.4M1065.7 331.3H1066.7M1075.5 331.3H1076.8M1095.1 352.6H1097.6M1102.1 352.6H1103.4M1112.8 373.9H1113.3M1149.3 97H1151.8M1176.5 97H1178.5M1176.5 118.3H1178.5M1124.2 139.6H1125.2M1129 139.6H1133M1134 139.6H1136.5M1140 139.6H1141M1146.4 139.6H1147.2M1157.9 139.6H1159.2M1172.5 139.6H1174M1179.5 139.6H1182M1232 139.6H1232.6M1121.2 160.9H1124.2M1125.2 160.9H1127.5M1137.5 160.9H1139M1142 160.9H1144.1M1146.4 160.9H1147.2M1165.2 160.9H1166.7M1168.2 160.9H1169.5M1188.3 160.9H1189.1M1207.4 160.9H1210.9M1214.4 160.9H1215.9M1224.7 160.9H1225.7M1251.9 267.4H1254.4M1293.4 267.4H1294.7M1244.8 288.7H1246.1M1264.6 288.7H1265.6M1325.7 97H1327.2M1333.8 97H1335.3M1343.1 97H1343.9M1354.1 97H1355.4M1383.2 97H1384.5M1394.6 97H1397.1M1407.6 97H1408.6M1415.7 97H1417.2M1421.7 97H1423.5M1426 97H1428M1435.1 97H1437.6M1461 97H1463.5M1472.6 97H1474.1M1475.1 97H1476.9M1479.4 97H1481.4M1482.4 97H1484.4M1488.4 97H1489.9M1491.2 97H1492.7M1359.7 118.3H1363.2M1369.3 118.3H1371.3M1398.6 118.3H1403.6M1406.1 118.3H1407.6M1484.4 118.3H1485.4M1342.3 182.2H1343.1M1343.9 203.5H1344.9M1356.9 246.1H1358.2M1363.2 246.1H1365.2M1369.3 246.1H1371.3M1385.5 246.1H1386.5M1447.9 288.7H1450.4M1537 160.9H1538.5M1541 160.9H1542.3M1568.5 182.2H1569.3M1572.9 182.2H1575.4M1576.2 182.2H1578.7M1580.7 182.2H1581.5M1587.3 182.2H1589.8M1572.1 203.5H1572.9M1515.4 331.3H1516.2M1519.2 331.3H1521.7M1548.1 352.6H1549.1M1550.1 352.6H1552.6M1512.1 373.9H1513.1M1515.4 373.9H1516.2M1519.2 373.9H1521.7M1522.7 373.9H1525.7M1527 373.9H1528M1534.9 373.9H1535.7M1541 373.9H1542.3M1543.6 373.9H1544.6M1555.6 373.9H1556.9M1561.5 373.9H1564M1677 182.2H1678M1688.3 182.2H1690.6M1692.9 182.2H1693.9M1694.7 182.2H1695.7M1719.7 182.2H1720.7M1685.8 203.5H1688.3M1692.9 203.5H1693.9M1708.1 203.5H1709.6M1711.1 203.5H1712.1M1713.4 203.5H1714.2M1646.9 224.8H1650.4M1654 224.8H1655.8M1737.1 224.8H1737.9M1630 246.1H1631M1633 246.1H1634M1650.4 246.1H1651.2M1654 246.1H1655M1661.9 246.1H1663.9M1664.9 246.1H1665.7M1716.2 246.1H1719.7M1726.8 246.1H1727.8M1737.1 246.1H1737.9"/>
<path stroke="#f8bb9e" d="M1010.7 97H1011.7M1015.8 97H1016.8M1020.8 97H1022.8M1028.6 97H1031.4M1034 97H1035M1039.3 97H1040.3M1046.1 97H1047.1M1021.8 118.3H1022.8M1025.8 118.3H1026.6M1076.8 160.9H1077.8M1080.8 160.9H1081.8M1005.9 310H1006.9M1022.8 310H1023.8M1083.3 310H1084.3M1089.6 310H1090.6M1101.1 310H1103.4M1005.9 331.3H1006.9M1026.6 331.3H1027.6M1028.6 331.3H1029.4M1038.3 331.3H1040.3M1048.9 331.3H1049.9M1106.9 331.3H1107.7M1011.7 352.6H1013.2M1016.8 352.6H1018.8M1021.8 352.6H1022.8M1027.6 352.6H1028.6M1029.4 352.6H1031.4M1032.2 352.6H1033.2M1034 352.6H1035M1083.3 352.6H1084.3M1106.9 352.6H1107.7M1008.9 373.9H1009.7M1013.2 373.9H1014M1029.4 373.9H1031.4M1033.2 373.9H1035M1080.8 373.9H1081.8M1093.6 373.9H1097.6M1101.1 373.9H1102.1M1103.4 373.9H1105.9M1107.7 373.9H1109M1151.8 97H1152.6M1162.7 97H1166.7M1174 97H1176.5M1182 97H1183M1187.3 97H1188.3M1166.7 118.3H1168.2M1172.5 118.3H1176.5M1183 118.3H1184M1126.2 139.6H1127.5M1149.3 139.6H1151.8M1183 139.6H1184M1189.1 139.6H1190.1M1191.1 139.6H1192.1M1139 160.9H1140M1148 160.9H1149.3M1156.9 160.9H1157.9M1162.7 160.9H1165.2M1169.5 160.9H1172.5M1179.5 160.9H1182M1187.3 160.9H1188.3M1190.1 160.9H1191.1M1193.6 160.9H1194.6M1205.9 160.9H1207.4M1218.7 160.9H1222.2M1225.7 160.9H1227M1149.3 203.5H1152.6M1287.3 139.6H1288.3M1290.1 139.6H1291.1M1288.3 160.9H1289.3M1294.7 160.9H1295.5M1292.4 267.4H1293.4M1294.7 267.4H1295.5M1296.8 267.4H1298.8M1287.3 288.7H1288.3M1330.3 97H1332.8M1348.5 97H1349.3M1350.1 97H1351.6M1361.2 97H1363.2M1373.1 97H1374.1M1385.5 97H1386.5M1388.8 97H1390.3M1392.8 97H1393.8M1441.9 97H1443.4M1467.3 97H1471.3M1477.9 97H1479.4M1487.4 97H1488.4M1489.9 97H1491.2M1498 97H1500M1306.9 118.3H1308.9M1320.2 118.3H1321.2M1322.2 118.3H1324.7M1325.7 118.3H1327.2M1328.2 118.3H1329M1330.3 118.3H1333.8M1356.9 118.3H1358.2M1365.2 118.3H1367.5M1372.3 118.3H1373.1M1381.2 118.3H1385.5M1386.5 118.3H1388M1391.3 118.3H1392.8M1308.9 182.2H1311.4M1317.2 182.2H1319.2M1332.8 182.2H1335.3M1306.9 203.5H1308.9M1312.4 203.5H1313.4M1358.2 224.8H1359.7M1366.5 224.8H1367.5M1369.3 224.8H1371.3M1381.2 224.8H1384.5M1355.4 246.1H1356.9M1367.5 246.1H1369.3M1372.3 246.1H1373.1M1374.1 246.1H1375.1M1377.7 246.1H1381.2M1455.2 267.4H1456.2M1459.2 267.4H1460.2M1450.4 288.7H1452.4M1456.2 288.7H1457.7M1591.3 139.6H1592.3M1594.3 139.6H1596.3M1598.6 139.6H1600.6M1602.4 139.6H1603.2M1598.6 160.9H1601.6M1575.4 182.2H1576.2M1583 182.2H1584.5M1585.5 182.2H1586.5M1515.4 203.5H1516.2M1519.2 203.5H1521.7M1528 267.4H1529.3M1534.9 267.4H1535.7M1535.7 352.6H1537M1549.1 352.6H1550.1M1555.6 352.6H1556.9M1557.7 352.6H1559M1517.2 373.9H1519.2M1533.1 373.9H1534.1M1542.3 373.9H1543.6M1548.1 373.9H1550.1M1554.6 373.9H1555.6M1675.5 182.2H1677M1680 182.2H1681M1682.8 182.2H1684.8M1693.9 182.2H1694.7M1697 182.2H1698.3M1716.2 182.2H1718.7M1678 203.5H1680M1681 203.5H1681.8M1705.6 203.5H1707.1M1622.2 224.8H1623.7M1631 224.8H1633M1639.1 224.8H1641.1M1645.9 224.8H1646.9M1650.4 224.8H1654M1656.6 224.8H1663.9M1664.9 224.8H1666.7M1700.8 224.8H1703.3M1713.4 224.8H1714.2M1723 224.8H1724.5M1729.8 224.8H1731.8M1734.6 224.8H1735.6M1660.9 246.1H1661.9M1711.1 246.1H1712.1M1714.2 246.1H1716.2M1720.7 246.1H1721.5M1723 246.1H1726.8M1729.8 246.1H1733.8M1735.6 246.1H1737.1M1621.2 267.4H1622.2M1622.2 288.7H1623.7M1725.5 373.9H1726.8"/>
<path stroke="#f7f7f7" d="M1011.7 97H1013.2M1027.6 97H1028.6M1042.6 97H1043.6M1052.4 97H1054.4M1066.7 97H1067.7M1009.7 118.3H1010.7M1016.8 118.3H1018.8M1029.4 118.3H1031.4M1044.6 118.3H1047.1M1067.7 118.3H1069M1065.7 139.6H1066.7M1067.7 139.6H1069M1088.8 139.6H1089.6M1093.6 139.6H1095.1M1109 139.6H1111.5M1015 160.9H1015.8M1039.3 160.9H1040.3M1041.6 160.9H1042.6M1052.4 160.9H1054.4M1065.7 160.9H1066.7M1071.5 160.9H1073M1077.8 160.9H1080.8M1106.9 160.9H1107.7M1109 160.9H1111.5M1011.7 203.5H1013.2M1014 267.4H1015.8M1020.8 267.4H1021.8M1027.6 267.4H1028.6M1043.6 267.4H1044.6M1048.9 267.4H1049.9M1064.7 267.4H1066.7M1067.7 267.4H1069M1080.8 267.4H1081.8M1112.8 267.4H1113.3M1041.6 288.7H1042.6M1086.8 288.7H1088.8M1010.7 310H1011.7M1013.2 310H1014M1029.4 310H1031.4M1036.3 310H1038.3M1039.3 310H1040.3M1046.1 310H1047.1M1084.3 310H1086.8M1093.6 310H1097.6M1100.1 310H1101.1M1109 310H1111.5M1009.7 331.3H1010.7M1018.8 331.3H1020.8M1021.8 331.3H1022.8M1081.8 331.3H1083.3M1093.6 331.3H1095.1M1097.6 331.3H1100.1M1010.7 352.6H1011.7M1018.8 352.6H1020.8M1025.8 352.6H1027.6M1042.6 352.6H1043.6M1071.5 352.6H1073M1075.5 352.6H1076.8M1080.8 352.6H1081.8M1089.6 352.6H1090.6M1097.6 352.6H1100.1M1005.9 373.9H1006.9M1015 373.9H1015.8M1025.8 373.9H1026.6M1071.5 373.9H1073M1075.5 373.9H1076.8M1089.6 373.9H1090.6M1097.6 373.9H1100.1M1125.2 97H1126.2M1147.2 97H1148M1157.9 97H1161.7M1169.5 97H1171.5M1122.2 118.3H1124.2M1125.2 118.3H1127.5M1151.8 118.3H1152.6M1156.9 118.3H1157.9M1178.5 118.3H1179.5M1184.8 118.3H1187.3M1124.2 203.5H1125.2M1130 203.5H1131M1145.6 203.5H1146.4M1134 224.8H1136.5M1141 224.8H1142M1200.1 224.8H1200.9M1227 224.8H1229M1147.2 267.4H1148M1172.5 267.4H1176.5M1183 267.4H1184M1218.7 267.4H1221.2M1227 267.4H1229M1231 267.4H1232M1130 288.7H1131M1176.5 288.7H1178.5M1184.8 288.7H1187.3M1188.3 288.7H1189.1M1201.9 288.7H1204.4M1208.4 288.7H1210.9M1124.2 310H1125.2M1127.5 310H1130M1159.2 310H1161.7M1218.7 310H1221.2M1129 331.3H1130M1187.3 331.3H1188.3M1190.1 331.3H1191.1M1193.6 331.3H1194.6M1127.5 352.6H1129M1148 352.6H1149.3M1152.6 352.6H1153.6M1192.1 352.6H1193.6M1197.1 352.6H1198.1M1216.9 352.6H1217.7M1192.1 373.9H1193.6M1197.1 373.9H1198.1M1240.3 139.6H1244.8M1257.5 139.6H1258.5M1289.3 139.6H1290.1M1293.4 139.6H1294.7M1246.1 160.9H1247.1M1251.9 160.9H1254.4M1256.2 160.9H1258.5M1265.6 160.9H1266.9M1289.3 160.9H1291.1M1293.4 160.9H1294.7M1242.3 182.2H1244.8M1246.1 182.2H1247.1M1256.2 182.2H1257.5M1290.1 182.2H1291.1M1239.3 203.5H1240.3M1244.8 203.5H1246.1M1255.4 203.5H1256.2M1271.7 203.5H1272.7M1280 203.5H1282.5M1265.6 224.8H1266.9M1292.4 224.8H1293.4M1259.5 246.1H1260.3M1263.3 246.1H1264.6M1269.7 246.1H1271.7M1281.5 246.1H1282.5M1277.2 267.4H1278.7M1280 267.4H1282.5M1287.3 267.4H1289.3M1282.5 310H1285M1285.8 310H1287.3M1295.5 310H1296.8M1280 331.3H1282.5M1291.1 331.3H1292.4M1295.5 331.3H1296.8M1292.4 352.6H1293.4M1296.8 352.6H1298.8M1295.5 373.9H1298.8M1312.4 97H1314.7M1317.2 97H1319.2M1321.2 97H1322.2M1349.3 97H1350.1M1368.5 97H1369.3M1447.9 97H1450.4M1313.4 118.3H1317.2M1319.2 118.3H1320.2M1333.8 118.3H1336.8M1342.3 118.3H1343.1M1350.1 118.3H1351.6M1445.4 118.3H1447.9M1456.2 118.3H1457.7M1479.4 139.6H1481.4M1485.4 139.6H1487.4M1488.4 139.6H1489.9M1492.7 139.6H1493.7M1459.2 160.9H1460.2M1485.4 160.9H1488.4M1314.7 182.2H1317.2M1347.2 182.2H1348.5M1376.4 182.2H1377.7M1435.1 182.2H1437.6M1439.1 182.2H1440.6M1476.1 182.2H1476.9M1482.4 182.2H1484.4M1372.3 203.5H1373.1M1384.5 203.5H1385.5M1435.1 203.5H1437.6M1476.1 203.5H1476.9M1340.3 224.8H1342.3M1346.4 224.8H1347.2M1349.3 224.8H1350.1M1375.1 224.8H1376.4M1461 224.8H1463.5M1496.2 224.8H1497M1313.4 246.1H1314.7M1321.2 246.1H1322.2M1340.3 246.1H1343.1M1388.8 246.1H1390.3M1392.8 246.1H1393.8M1443.4 246.1H1444.4M1477.9 246.1H1479.4M1496.2 246.1H1497M1437.6 267.4H1439.1M1456.2 267.4H1459.2M1463.5 267.4H1465.5M1471.3 267.4H1472.6M1354.1 288.7H1355.4M1369.3 288.7H1371.3M1390.3 288.7H1391.3M1437.6 288.7H1439.1M1474.1 288.7H1475.1M1481.4 288.7H1482.4M1487.4 288.7H1488.4M1493.7 288.7H1496.2M1308.9 310H1311.4M1333.8 310H1335.3M1375.1 310H1377.7M1455.2 310H1457.7M1463.5 310H1465.5M1469.3 310H1470.3M1336.8 331.3H1337.8M1343.1 331.3H1343.9M1358.2 331.3H1359.7M1379.2 331.3H1381.2M1386.5 331.3H1388M1437.6 331.3H1439.1M1469.3 331.3H1470.3M1477.9 331.3H1479.4M1484.4 331.3H1485.4M1320.2 352.6H1321.2M1330.3 352.6H1332.8M1340.3 352.6H1342.3M1343.9 352.6H1344.9M1355.4 352.6H1356.9M1435.1 352.6H1437.6M1465.5 352.6H1466.3M1498 352.6H1500M1308.9 373.9H1311.4M1313.4 373.9H1314.7M1330.3 373.9H1332.8M1340.3 373.9H1342.3M1343.9 373.9H1344.9M1358.2 373.9H1359.7M1371.3 373.9H1372.3M1535.7 139.6H1537M1564 139.6H1566M1576.2 139.6H1578.7M1596.3 139.6H1597.1M1538.5 160.9H1541M1529.3 182.2H1530.8M1556.9 182.2H1557.7M1600.6 182.2H1602.4M1514.4 203.5H1515.4M1598.6 203.5H1600.6M1601.6 203.5H1603.2M1605.2 203.5H1607.7M1510.8 224.8H1512.1M1514.4 224.8H1515.4M1516.2 224.8H1519.2M1541 224.8H1542.3M1576.2 224.8H1578.7M1598.6 224.8H1601.6M1603.2 224.8H1605.2M1514.4 246.1H1515.4M1516.2 246.1H1517.2M1542.3 246.1H1543.6M1589.8 246.1H1591.3M1598.6 246.1H1601.6M1602.4 246.1H1605.2M1514.4 267.4H1516.2M1524.2 267.4H1525.7M1548.1 267.4H1549.1M1550.1 267.4H1552.6M1594.3 267.4H1597.1M1513.1 288.7H1514.4M1531.8 288.7H1534.9M1535.7 288.7H1537M1550.1 288.7H1552.6M1555.6 288.7H1556.9M1510.8 310H1512.1M1516.2 310H1517.2M1538.5 310H1542.3M1561.5 310H1564M1597.1 310H1600.6M1607.7 310H1608.5M1538.5 331.3H1542.3M1572.1 331.3H1572.9M1584.5 331.3H1585.5M1598.6 331.3H1600.6M1514.4 352.6H1515.4M1591.3 352.6H1592.3M1594.3 352.6H1596.3M1597.1 352.6H1598.6M1575.4 373.9H1576.2M1591.3 373.9H1592.3M1597.1 373.9H1598.6M1607.7 373.9H1608.5M1627 182.2H1628.5M1645.9 182.2H1646.9M1652.7 182.2H1654M1656.6 182.2H1658.1M1659.4 182.2H1661.9M1720.7 182.2H1721.5M1723 182.2H1724.5M1725.5 182.2H1726.8M1635.8 203.5H1636.8M1644.6 203.5H1645.9M1664.9 203.5H1666.7M1714.2 203.5H1718.7M1720.7 203.5H1721.5M1725.5 203.5H1726.8M1735.6 203.5H1737.9M1668.7 224.8H1670.7M1675.5 224.8H1677M1682.8 224.8H1684.8M1688.3 224.8H1689.3M1690.6 224.8H1692.9M1703.3 224.8H1704.6M1711.1 224.8H1712.1M1719.7 224.8H1721.5M1725.5 224.8H1726.8M1670.7 246.1H1671.5M1680 246.1H1681M1684.8 246.1H1685.8M1688.3 246.1H1689.3M1694.7 246.1H1695.7M1699.8 246.1H1700.8M1625.7 267.4H1630M1705.6 267.4H1707.1M1711.1 267.4H1712.1M1721.5 267.4H1723M1616.7 288.7H1618.7M1627 288.7H1628.5M1633 288.7H1634M1682.8 288.7H1684.8M1705.6 288.7H1707.1M1712.1 288.7H1713.4M1726.8 288.7H1727.8M1734.6 288.7H1735.6M1650.4 310H1651.2M1666.7 310H1668.7M1671.5 310H1675.5M1694.7 310H1695.7M1704.6 310H1705.6M1725.5 310H1726.8M1627 331.3H1630M1638.1 331.3H1639.1M1644.6 331.3H1645.9M1659.4 331.3H1660.9M1703.3 331.3H1704.6M1707.1 331.3H1708.1M1727.8 331.3H1728.8M1731.8 331.3H1733.8M1625.7 352.6H1627M1630 352.6H1631M1634 352.6H1634.8M1643.6 352.6H1644.6M1699.8 352.6H1700.8M1725.5 352.6H1726.8M1625.7 373.9H1627M1643.6 373.9H1644.6M1649.4 373.9H1650.4M1693.9 373.9H1695.7M1697 373.9H1700.8M1705.6 373.9H1707.1M1723 373.9H1724.5M1731.8 373.9H1734.6"/>
<path stroke="#fbd0b9" d="M1014 97H1015.8M1018.8 97H1020.8M1031.4 97H1032.2M1036.3 97H1038.3M1048.9 97H1049.9M1080.8 139.6H1081.8M1093.6 160.9H1095.1M1009.7 203.5H1010.7M1014 203.5H1015M1006.9 310H1008.9M1028.6 310H1029.4M1031.4 310H1032.2M1040.3 310H1042.6M1047.1 310H1048.9M1049.9 310H1052.4M1092.1 310H1093.6M1107.7 310H1109M1004.4 331.3H1005.9M1006.9 331.3H1009.7M1011.7 331.3H1013.2M1015 331.3H1015.8M1022.8 331.3H1023.8M1031.4 331.3H1032.2M1040.3 331.3H1041.6M1046.1 331.3H1047.1M1088.8 331.3H1089.6M1102.1 331.3H1103.4M1107.7 331.3H1109M1112.8 331.3H1113.3M1004.4 352.6H1006.9M1013.2 352.6H1014M1028.6 352.6H1029.4M1105.9 352.6H1106.9M1004.4 373.9H1005.9M1011.7 373.9H1013.2M1021.8 373.9H1022.8M1028.6 373.9H1029.4M1031.4 373.9H1032.2M1081.8 373.9H1083.3M1084.3 373.9H1086.8M1105.9 373.9H1106.9M1145.6 97H1147.2M1154.6 97H1156.1M1168.2 97H1169.5M1172.5 97H1174M1183 97H1184M1154.6 118.3H1156.9M1162.7 118.3H1166.7M1187.3 118.3H1188.3M1154.6 139.6H1156.1M1187.3 139.6H1188.3M1192.1 139.6H1193.6M1152.6 160.9H1153.6M1166.7 160.9H1168.2M1172.5 160.9H1174M1176.5 160.9H1178.5M1200.1 160.9H1201.9M1211.9 160.9H1213.4M1215.9 160.9H1216.9M1168.2 288.7H1169.5M1197.1 288.7H1198.1M1281.5 139.6H1282.5M1291.1 139.6H1292.4M1281.5 160.9H1285M1285.8 160.9H1288.3M1292.4 160.9H1293.4M1247.1 182.2H1249.6M1251.9 182.2H1254.4M1251.9 203.5H1255.4M1295.5 267.4H1296.8M1285.8 288.7H1287.3M1293.4 288.7H1296.8M1327.2 97H1328.2M1336.8 97H1337.8M1356.9 97H1358.2M1377.7 97H1379.2M1390.3 97H1391.3M1445.4 97H1447.9M1452.4 97H1453.2M1455.2 97H1456.2M1459.2 97H1461M1493.7 97H1496.2M1308.9 118.3H1311.4M1340.3 118.3H1342.3M1348.5 118.3H1349.3M1351.6 118.3H1352.6M1363.2 118.3H1365.2M1379.2 118.3H1381.2M1397.1 118.3H1398.6M1459.2 118.3H1461M1498 139.6H1500M1306.9 182.2H1308.9M1311.4 182.2H1312.4M1322.2 182.2H1324.7M1335.3 182.2H1337.8M1311.4 203.5H1312.4M1317.2 203.5H1319.2M1359.7 224.8H1363.2M1367.5 224.8H1368.5M1376.4 224.8H1377.7M1359.7 246.1H1361.2M1381.2 246.1H1383.2M1384.5 246.1H1385.5M1388 246.1H1388.8M1390.3 246.1H1391.3M1447.9 267.4H1450.4M1453.2 267.4H1454.2M1441.9 331.3H1443.4M1454.2 331.3H1455.2M1306.9 373.9H1308.9M1314.7 373.9H1319.2M1537 139.6H1538.5M1541 139.6H1542.3M1592.3 139.6H1593.3M1591.3 160.9H1592.3M1593.3 160.9H1594.3M1603.2 160.9H1605.2M1570.8 182.2H1572.1M1586.5 182.2H1587.3M1522.7 203.5H1524.2M1596.3 203.5H1597.1M1512.1 267.4H1513.1M1516.2 267.4H1517.2M1527 267.4H1528M1544.6 267.4H1546.6M1534.9 288.7H1535.7M1515.4 310H1516.2M1513.1 331.3H1515.4M1516.2 331.3H1517.2M1522.7 331.3H1525.7M1530.8 352.6H1531.8M1533.1 352.6H1534.1M1537 352.6H1538.5M1671.5 182.2H1673.5M1681 182.2H1682.8M1685.8 182.2H1688.3M1690.6 182.2H1692.9M1700.8 182.2H1703.3M1711.1 182.2H1712.1M1713.4 182.2H1714.2M1721.5 182.2H1723M1728.8 182.2H1729.8M1735.6 182.2H1737.1M1675.5 203.5H1677M1680 203.5H1681M1682.8 203.5H1684.8M1728.8 203.5H1729.8M1731.8 203.5H1733.8M1633 224.8H1634M1677 224.8H1680M1681 224.8H1681.8M1693.9 224.8H1694.7M1704.6 224.8H1707.1M1714.2 224.8H1718.7M1724.5 224.8H1725.5M1727.8 224.8H1728.8M1731.8 224.8H1733.8M1737.9 224.8H1738.9M1719.7 246.1H1720.7M1618.7 288.7H1622.2M1623.7 288.7H1625.7M1727.8 373.9H1728.8M1729.8 373.9H1731.8M1734.6 373.9H1735.6"/>
<path stroke="#fce1d1" d="M1016.8 97H1018.8M1022.8 97H1025.8M1040.3 97H1041.6M1047.1 97H1048.1M1008.9 118.3H1009.7M1010.7 118.3H1011.7M1020.8 118.3H1021.8M1026.6 118.3H1027.6M1028.6 118.3H1029.4M1069 139.6H1071.5M1084.3 160.9H1086.8M1088.8 160.9H1090.6M1008.9 310H1010.7M1014 310H1015M1016.8 310H1021.8M1023.8 310H1025.8M1026.6 310H1027.6M1038.3 310H1039.3M1043.6 310H1044.6M1048.9 310H1049.9M1080.8 310H1081.8M1112.8 310H1113.3M1013.2 331.3H1014M1016.8 331.3H1018.8M1036.3 331.3H1038.3M1080.8 331.3H1081.8M1083.3 331.3H1084.3M1089.6 331.3H1090.6M1103.4 331.3H1105.9M1109 331.3H1111.5M1015 352.6H1016.8M1020.8 352.6H1021.8M1092.1 352.6H1093.6M1083.3 373.9H1084.3M1090.6 373.9H1092.1M1100.1 373.9H1101.1M1111.5 373.9H1112.8M1144.1 97H1145.6M1153.6 97H1154.6M1179.5 97H1182M1184 97H1184.8M1159.2 118.3H1161.7M1168.2 118.3H1171.5M1179.5 118.3H1182M1141 160.9H1142M1149.3 160.9H1151.8M1154.6 160.9H1156.1M1161.7 160.9H1162.7M1183 160.9H1184M1191.1 160.9H1192.1M1194.6 160.9H1197.1M1216.9 160.9H1217.7M1232 160.9H1232.6M1147.2 203.5H1148M1169.5 288.7H1172.5M1182 288.7H1183M1193.6 288.7H1194.6M1282.5 139.6H1285M1288.3 139.6H1289.3M1296.8 139.6H1298.8M1291.1 160.9H1292.4M1255.4 182.2H1256.2M1247.1 203.5H1249.6M1271.7 267.4H1272.7M1274.7 267.4H1277.2M1278.7 267.4H1280M1289.3 267.4H1290.1M1281.5 288.7H1282.5M1288.3 288.7H1290.1M1291.1 288.7H1293.4M1282.5 331.3H1287.3M1306.9 97H1308.9M1322.2 97H1324.7M1332.8 97H1333.8M1337.8 97H1339.3M1342.3 97H1343.1M1344.9 97H1346.4M1359.7 97H1361.2M1363.2 97H1365.2M1372.3 97H1373.1M1379.2 97H1381.2M1386.5 97H1388.8M1456.2 97H1459.2M1474.1 97H1475.1M1484.4 97H1485.4M1492.7 97H1493.7M1317.2 118.3H1319.2M1327.2 118.3H1328.2M1329 118.3H1330.3M1336.8 118.3H1339.3M1344.9 118.3H1347.2M1352.6 118.3H1355.4M1376.4 118.3H1379.2M1390.3 118.3H1391.3M1441.9 118.3H1443.4M1450.4 118.3H1453.2M1455.2 118.3H1456.2M1321.2 182.2H1322.2M1327.2 182.2H1329M1313.4 203.5H1314.7M1359.7 203.5H1361.2M1363.2 203.5H1365.2M1373.1 203.5H1374.1M1377.7 203.5H1379.2M1398.6 203.5H1401.1M1355.4 224.8H1358.2M1363.2 224.8H1366.5M1368.5 224.8H1369.3M1374.1 224.8H1375.1M1358.2 246.1H1359.7M1376.4 246.1H1377.7M1386.5 246.1H1388M1460.2 267.4H1461M1472.6 288.7H1474.1M1500 288.7H1500.7M1456.2 331.3H1457.7M1320.2 373.9H1321.2M1534.9 139.6H1535.7M1538.5 139.6H1541M1593.3 139.6H1594.3M1601.6 139.6H1602.4M1535.7 160.9H1537M1542.3 160.9H1544.6M1592.3 160.9H1593.3M1597.1 160.9H1598.6M1601.6 160.9H1603.2M1607.7 160.9H1608.5M1569.3 182.2H1570.8M1572.1 182.2H1572.9M1578.7 182.2H1580.7M1603.2 182.2H1605.2M1607.7 182.2H1608.5M1513.1 203.5H1514.4M1528 203.5H1529.3M1600.6 203.5H1601.6M1569.3 246.1H1570.8M1575.4 246.1H1578.7M1605.2 246.1H1607.7M1517.2 267.4H1521.7M1531.8 267.4H1534.1M1538.5 267.4H1541M1512.1 288.7H1513.1M1514.4 288.7H1515.4M1516.2 288.7H1519.2M1527 288.7H1528M1519.2 310H1521.7M1510.8 331.3H1513.1M1553.6 352.6H1554.6M1556.9 352.6H1557.7M1644.6 182.2H1645.9M1651.2 182.2H1652.7M1654 182.2H1655M1673.5 182.2H1675.5M1705.6 182.2H1707.1M1718.7 182.2H1719.7M1729.8 182.2H1733.8M1737.9 182.2H1738.9M1673.5 203.5H1675.5M1729.8 203.5H1731.8M1625.7 224.8H1627M1628.5 224.8H1630M1635.8 224.8H1636.8M1644.6 224.8H1645.9M1680 224.8H1681M1692.9 224.8H1693.9M1699.8 224.8H1700.8M1708.1 224.8H1709.6M1712.1 224.8H1713.4M1718.7 224.8H1719.7M1733.8 224.8H1734.6M1705.6 246.1H1707.1M1628.5 288.7H1630M1737.1 352.6H1737.9M1724.5 373.9H1725.5M1737.1 373.9H1738.9"/>
<path stroke="#e8f0f4" d="M1026.6 97H1027.6M1032.2 97H1033.2M1038.3 97H1039.3M1043.6 97H1044.6M1064.7 97H1066.7M1071.5 97H1073M1077.8 97H1078.8M1015 118.3H1015.8M1039.3 118.3H1042.6M1048.9 118.3H1049.9M1062.4 118.3H1063.7M1077.8 118.3H1078.8M1004.4 139.6H1005.9M1031.4 139.6H1032.2M1039.3 139.6H1040.3M1041.6 139.6H1042.6M1052.4 139.6H1054.4M1058.4 139.6H1060.9M1066.7 139.6H1067.7M1071.5 139.6H1073M1075.5 139.6H1076.8M1084.3 139.6H1086.8M1089.6 139.6H1090.6M1092.1 139.6H1093.6M1095.1 139.6H1097.6M1004.4 160.9H1006.9M1013.2 160.9H1014M1015.8 160.9H1016.8M1020.8 160.9H1021.8M1023.8 160.9H1025.8M1040.3 160.9H1041.6M1046.1 160.9H1047.1M1058.4 160.9H1060.9M1067.7 160.9H1069M1073 160.9H1075.5M1083.3 160.9H1084.3M1095.1 160.9H1097.6M1102.1 160.9H1105.9M1107.7 160.9H1109M1054.4 182.2H1055.9M1069 203.5H1071.5M1081.8 203.5H1083.3M1101.1 203.5H1102.1M1013.2 224.8H1014M1083.3 224.8H1084.3M1107.7 224.8H1109M1111.5 224.8H1112.8M1048.1 246.1H1048.9M1049.9 246.1H1052.4M1054.4 246.1H1055.9M1062.4 246.1H1063.7M1073 246.1H1075.5M1092.1 246.1H1093.6M1102.1 246.1H1103.4M1111.5 246.1H1112.8M1006.9 267.4H1008.9M1026.6 267.4H1027.6M1028.6 267.4H1029.4M1031.4 267.4H1032.2M1062.4 267.4H1063.7M1084.3 267.4H1086.8M1095.1 267.4H1097.6M1111.5 267.4H1112.8M1067.7 288.7H1069M1075.5 288.7H1076.8M1080.8 288.7H1081.8M1083.3 288.7H1086.8M1100.1 288.7H1101.1M1086.8 310H1089.6M1090.6 310H1092.1M1097.6 310H1100.1M1090.6 331.3H1093.6M1105.9 331.3H1106.9M1111.5 331.3H1112.8M1006.9 352.6H1008.9M1009.7 352.6H1010.7M1035 352.6H1036.3M1048.1 352.6H1048.9M1065.7 352.6H1069M1076.8 352.6H1077.8M1078.8 352.6H1080.8M1081.8 352.6H1083.3M1100.1 352.6H1101.1M1006.9 373.9H1008.9M1036.3 373.9H1038.3M1042.6 373.9H1043.6M1052.4 373.9H1054.4M1064.7 373.9H1065.7M1066.7 373.9H1067.7M1073 373.9H1075.5M1092.1 373.9H1093.6M1121.2 97H1122.2M1127.5 97H1129M1133 97H1134M1139 97H1140M1142 97H1142.8M1148 97H1149.3M1156.1 97H1157.9M1161.7 97H1162.7M1171.5 97H1172.5M1178.5 97H1179.5M1129 118.3H1131M1137.5 118.3H1139M1140 118.3H1141M1142 118.3H1142.8M1147.2 118.3H1151.8M1152.6 118.3H1154.6M1157.9 118.3H1159.2M1171.5 118.3H1172.5M1197.1 118.3H1198.1M1231 118.3H1232M1122.2 182.2H1125.2M1141 182.2H1142M1166.7 182.2H1168.2M1189.1 182.2H1190.1M1121.2 203.5H1122.2M1125.2 203.5H1126.2M1137.5 203.5H1139M1141 203.5H1142M1156.9 203.5H1157.9M1166.7 203.5H1168.2M1176.5 203.5H1178.5M1189.1 203.5H1190.1M1124.2 224.8H1125.2M1131 224.8H1134M1137.5 224.8H1139M1140 224.8H1141M1146.4 224.8H1147.2M1157.9 224.8H1159.2M1162.7 224.8H1165.2M1178.5 224.8H1179.5M1194.6 224.8H1198.1M1214.4 224.8H1215.9M1225.7 224.8H1227M1124.2 246.1H1125.2M1134 246.1H1137.5M1140 246.1H1141M1157.9 246.1H1159.2M1166.7 246.1H1168.2M1178.5 246.1H1179.5M1192.1 246.1H1198.1M1227 246.1H1229M1122.2 267.4H1124.2M1136.5 267.4H1137.5M1142.8 267.4H1144.1M1146.4 267.4H1147.2M1154.6 267.4H1156.1M1159.2 267.4H1161.7M1166.7 267.4H1169.5M1184.8 267.4H1187.3M1188.3 267.4H1190.1M1191.1 267.4H1192.1M1193.6 267.4H1194.6M1207.4 267.4H1208.4M1139 288.7H1141M1142.8 288.7H1144.1M1146.4 288.7H1148M1162.7 288.7H1165.2M1183 288.7H1184M1190.1 288.7H1191.1M1214.4 288.7H1215.9M1217.7 288.7H1221.2M1227 288.7H1229M1121.2 310H1122.2M1130 310H1131M1137.5 310H1139M1146.4 310H1147.2M1152.6 310H1154.6M1176.5 310H1178.5M1191.1 310H1192.1M1194.6 310H1197.1M1208.4 310H1211.9M1221.2 310H1222.2M1229 310H1231M1124.2 331.3H1125.2M1126.2 331.3H1129M1130 331.3H1131M1133 331.3H1134M1137.5 331.3H1139M1157.9 331.3H1159.2M1171.5 331.3H1172.5M1184 331.3H1184.8M1191.1 331.3H1192.1M1208.4 331.3H1210.9M1225.7 331.3H1227M1136.5 352.6H1137.5M1139 352.6H1140M1142 352.6H1142.8M1144.1 352.6H1145.6M1147.2 352.6H1148M1149.3 352.6H1151.8M1153.6 352.6H1154.6M1156.9 352.6H1157.9M1194.6 352.6H1197.1M1213.4 352.6H1214.4M1224.7 352.6H1227M1124.2 373.9H1125.2M1136.5 373.9H1137.5M1142.8 373.9H1144.1M1153.6 373.9H1154.6M1189.1 373.9H1190.1M1200.1 373.9H1200.9M1205.9 373.9H1208.4M1213.4 373.9H1214.4M1215.9 373.9H1217.7M1222.2 373.9H1224.7M1232 373.9H1232.6M1246.1 139.6H1247.1M1263.3 139.6H1264.6M1265.6 139.6H1269.7M1271.7 139.6H1272.7M1274.7 139.6H1277.2M1242.3 160.9H1244.8M1258.5 160.9H1259.5M1266.9 160.9H1271.7M1296.8 160.9H1298.8M1266.9 182.2H1267.7M1271.7 182.2H1272.7M1285 182.2H1285.8M1289.3 182.2H1290.1M1292.4 182.2H1293.4M1295.5 182.2H1296.8M1246.1 203.5H1247.1M1249.6 203.5H1250.4M1256.2 203.5H1257.5M1266.9 203.5H1269.7M1274.7 203.5H1277.2M1285 203.5H1285.8M1288.3 203.5H1289.3M1240.3 224.8H1242.3M1278.7 224.8H1280M1282.5 224.8H1285M1295.5 224.8H1298.8M1246.1 246.1H1247.1M1265.6 246.1H1266.9M1288.3 246.1H1290.1M1292.4 246.1H1293.4M1295.5 246.1H1296.8M1285 288.7H1285.8M1290.1 288.7H1291.1M1296.8 288.7H1298.8M1242.3 310H1244.8M1247.1 310H1250.4M1254.4 310H1255.4M1262.3 310H1263.3M1277.2 310H1278.7M1280 310H1282.5M1290.1 310H1291.1M1242.3 331.3H1244.8M1267.7 331.3H1269.7M1277.2 331.3H1280M1292.4 331.3H1293.4M1239.3 352.6H1240.3M1260.3 352.6H1263.3M1265.6 352.6H1266.9M1271.7 352.6H1272.7M1250.4 373.9H1251.9M1287.3 373.9H1288.3M1290.1 373.9H1291.1M1292.4 373.9H1295.5M1319.2 97H1320.2M1444.4 97H1445.4M1454.2 97H1455.2M1324.7 118.3H1325.7M1443.4 118.3H1445.4M1453.2 118.3H1455.2M1457.7 118.3H1459.2M1401.1 139.6H1403.6M1414.7 139.6H1415.7M1417.2 139.6H1418.2M1428 139.6H1429.3M1443.4 139.6H1444.4M1453.2 139.6H1454.2M1456.2 139.6H1459.2M1475.1 139.6H1476.1M1489.9 139.6H1491.2M1496.2 139.6H1497M1401.1 160.9H1403.6M1409.6 160.9H1410.6M1439.1 160.9H1440.6M1447.9 160.9H1450.4M1453.2 160.9H1455.2M1457.7 160.9H1459.2M1463.5 160.9H1466.3M1470.3 160.9H1471.3M1474.1 160.9H1475.1M1476.9 160.9H1477.9M1479.4 160.9H1481.4M1496.2 160.9H1497M1319.2 182.2H1321.2M1325.7 182.2H1327.2M1329 182.2H1330.3M1350.1 182.2H1351.6M1359.7 182.2H1361.2M1363.2 182.2H1365.2M1366.5 182.2H1367.5M1373.1 182.2H1374.1M1381.2 182.2H1383.2M1474.1 182.2H1475.1M1481.4 182.2H1482.4M1485.4 182.2H1487.4M1369.3 203.5H1371.3M1376.4 203.5H1377.7M1381.2 203.5H1383.2M1385.5 203.5H1386.5M1388 203.5H1388.8M1390.3 203.5H1392.8M1397.1 203.5H1398.6M1439.1 203.5H1440.6M1443.4 203.5H1444.4M1452.4 203.5H1453.2M1454.2 203.5H1455.2M1482.4 203.5H1484.4M1491.2 203.5H1492.7M1493.7 203.5H1496.2M1379.2 224.8H1381.2M1391.3 224.8H1392.8M1443.4 224.8H1444.4M1445.4 224.8H1447.9M1477.9 224.8H1479.4M1491.2 224.8H1492.7M1330.3 246.1H1332.8M1335.3 246.1H1336.8M1343.9 246.1H1344.9M1349.3 246.1H1351.6M1444.4 246.1H1447.9M1474.1 246.1H1475.1M1492.7 246.1H1493.7M1306.9 267.4H1308.9M1317.2 267.4H1319.2M1321.2 267.4H1322.2M1325.7 267.4H1327.2M1332.8 267.4H1333.8M1346.4 267.4H1347.2M1349.3 267.4H1350.1M1354.1 267.4H1355.4M1365.2 267.4H1366.5M1369.3 267.4H1371.3M1374.1 267.4H1375.1M1381.2 267.4H1383.2M1388 267.4H1388.8M1439.1 267.4H1440.6M1444.4 267.4H1445.4M1469.3 267.4H1471.3M1472.6 267.4H1474.1M1484.4 267.4H1485.4M1496.2 267.4H1497M1500 267.4H1500.7M1321.2 288.7H1322.2M1329 288.7H1330.3M1332.8 288.7H1333.8M1339.3 288.7H1340.3M1343.1 288.7H1343.9M1349.3 288.7H1350.1M1375.1 288.7H1376.4M1377.7 288.7H1379.2M1381.2 288.7H1383.2M1398.6 288.7H1401.1M1433.8 288.7H1435.1M1440.6 288.7H1441.9M1443.4 288.7H1444.4M1467.3 288.7H1469.3M1479.4 288.7H1481.4M1488.4 288.7H1491.2M1492.7 288.7H1493.7M1496.2 288.7H1497M1322.2 310H1324.7M1343.1 310H1343.9M1344.9 310H1347.2M1349.3 310H1350.1M1354.1 310H1355.4M1356.9 310H1358.2M1391.3 310H1392.8M1433.8 310H1435.1M1437.6 310H1439.1M1440.6 310H1443.4M1457.7 310H1459.2M1476.1 310H1476.9M1482.4 310H1484.4M1493.7 310H1496.2M1497 310H1498M1311.4 331.3H1313.4M1322.2 331.3H1324.7M1332.8 331.3H1335.3M1337.8 331.3H1339.3M1344.9 331.3H1346.4M1349.3 331.3H1350.1M1354.1 331.3H1355.4M1361.2 331.3H1363.2M1377.7 331.3H1379.2M1385.5 331.3H1386.5M1445.4 331.3H1447.9M1455.2 331.3H1456.2M1459.2 331.3H1461M1463.5 331.3H1465.5M1476.1 331.3H1476.9M1489.9 331.3H1491.2M1496.2 331.3H1497M1306.9 352.6H1311.4M1314.7 352.6H1319.2M1324.7 352.6H1325.7M1329 352.6H1330.3M1333.8 352.6H1336.8M1344.9 352.6H1346.4M1349.3 352.6H1350.1M1351.6 352.6H1352.6M1368.5 352.6H1369.3M1386.5 352.6H1388M1393.8 352.6H1394.6M1440.6 352.6H1441.9M1450.4 352.6H1453.2M1474.1 352.6H1475.1M1482.4 352.6H1484.4M1497 352.6H1498M1319.2 373.9H1320.2M1321.2 373.9H1324.7M1328.2 373.9H1329M1393.8 373.9H1394.6M1437.6 373.9H1439.1M1443.4 373.9H1444.4M1452.4 373.9H1453.2M1465.5 373.9H1466.3M1471.3 373.9H1472.6M1474.1 373.9H1475.1M1484.4 373.9H1485.4M1500 373.9H1500.7M1534.1 97H1534.9M1549.1 97H1550.1M1557.7 97H1559M1569.3 97H1572.1M1583 97H1584.5M1587.3 97H1589.8M1592.3 97H1593.3M1548.1 118.3H1549.1M1561.5 118.3H1564M1568.5 118.3H1572.1M1510.8 139.6H1512.1M1513.1 139.6H1514.4M1528 139.6H1530.8M1546.6 139.6H1548.1M1554.6 139.6H1555.6M1559 139.6H1561.5M1578.7 139.6H1580.7M1587.3 139.6H1589.8M1513.1 160.9H1514.4M1553.6 160.9H1554.6M1555.6 160.9H1556.9M1559 160.9H1561.5M1576.2 160.9H1578.7M1587.3 160.9H1589.8M1513.1 182.2H1514.4M1521.7 182.2H1524.2M1527 182.2H1529.3M1530.8 182.2H1531.8M1534.9 182.2H1535.7M1537 182.2H1538.5M1546.6 182.2H1549.1M1552.6 182.2H1554.6M1555.6 182.2H1556.9M1559 182.2H1561.5M1564 182.2H1568.5M1589.8 182.2H1591.3M1602.4 182.2H1603.2M1512.1 203.5H1513.1M1517.2 203.5H1519.2M1521.7 203.5H1522.7M1527 203.5H1528M1548.1 203.5H1549.1M1556.9 203.5H1557.7M1559 203.5H1566M1519.2 224.8H1521.7M1528 224.8H1529.3M1531.8 224.8H1533.1M1534.1 224.8H1534.9M1535.7 224.8H1537M1538.5 224.8H1541M1542.3 224.8H1544.6M1564 224.8H1566M1575.4 224.8H1576.2M1585.5 224.8H1587.3M1589.8 224.8H1591.3M1593.3 224.8H1594.3M1596.3 224.8H1597.1M1510.8 246.1H1512.1M1517.2 246.1H1519.2M1527 246.1H1528M1566 246.1H1568.5M1581.5 246.1H1583M1587.3 246.1H1589.8M1596.3 246.1H1598.6M1510.8 267.4H1512.1M1521.7 267.4H1522.7M1525.7 267.4H1527M1535.7 267.4H1537M1549.1 267.4H1550.1M1555.6 267.4H1556.9M1559 267.4H1561.5M1572.1 267.4H1572.9M1576.2 267.4H1578.7M1580.7 267.4H1581.5M1583 267.4H1585.5M1593.3 267.4H1594.3M1600.6 267.4H1601.6M1607.7 267.4H1608.5M1537 288.7H1538.5M1544.6 288.7H1546.6M1576.2 288.7H1578.7M1583 288.7H1584.5M1591.3 288.7H1592.3M1596.3 288.7H1597.1M1513.1 310H1514.4M1517.2 310H1519.2M1524.2 310H1525.7M1527 310H1528M1543.6 310H1544.6M1568.5 310H1569.3M1570.8 310H1572.1M1583 310H1585.5M1527 331.3H1528M1534.9 331.3H1535.7M1543.6 331.3H1544.6M1568.5 331.3H1570.8M1575.4 331.3H1576.2M1581.5 331.3H1583M1589.8 331.3H1591.3M1592.3 331.3H1593.3M1594.3 331.3H1596.3M1515.4 352.6H1516.2M1519.2 352.6H1522.7M1524.2 352.6H1527M1572.9 352.6H1576.2M1584.5 352.6H1585.5M1598.6 352.6H1601.6M1570.8 373.9H1575.4M1580.7 373.9H1581.5M1585.5 373.9H1586.5M1587.3 373.9H1589.8M1602.4 373.9H1603.2M1638.1 97H1639.1M1644.6 97H1645.9M1650.4 97H1651.2M1673.5 97H1675.5M1691.6 97H1692.9M1700.8 97H1703.3M1708.1 97H1709.6M1721.5 97H1723M1638.1 118.3H1639.1M1641.1 118.3H1643.6M1671.5 118.3H1673.5M1689.3 118.3H1690.6M1695.7 118.3H1697M1721.5 118.3H1723M1621.2 139.6H1622.2M1628.5 139.6H1631M1641.1 139.6H1643.6M1677 139.6H1678M1693.9 139.6H1694.7M1621.2 160.9H1622.2M1641.1 160.9H1643.6M1655 160.9H1655.8M1621.2 182.2H1622.2M1633 182.2H1634M1646.9 182.2H1649.4M1655 182.2H1656.6M1658.1 182.2H1659.4M1665.7 182.2H1666.7M1668.7 182.2H1670.7M1724.5 182.2H1725.5M1651.2 203.5H1652.7M1718.7 203.5H1719.7M1733.8 203.5H1734.6M1668.7 246.1H1670.7M1673.5 246.1H1675.5M1685.8 246.1H1688.3M1690.6 246.1H1691.6M1616.7 267.4H1618.7M1622.2 267.4H1623.7M1633 267.4H1634M1660.9 267.4H1661.9M1684.8 267.4H1685.8M1703.3 267.4H1704.6M1707.1 267.4H1708.1M1716.2 267.4H1718.7M1719.7 267.4H1720.7M1726.8 267.4H1727.8M1731.8 267.4H1735.6M1643.6 288.7H1644.6M1652.7 288.7H1656.6M1673.5 288.7H1677M1678 288.7H1680M1681.8 288.7H1682.8M1688.3 288.7H1689.3M1692.9 288.7H1693.9M1707.1 288.7H1708.1M1721.5 288.7H1723M1731.8 288.7H1734.6M1618.7 310H1621.2M1628.5 310H1630M1644.6 310H1645.9M1651.2 310H1652.7M1655 310H1655.8M1665.7 310H1666.7M1675.5 310H1678M1691.6 310H1692.9M1695.7 310H1697M1700.8 310H1704.6M1707.1 310H1708.1M1709.6 310H1711.1M1712.1 310H1714.2M1724.5 310H1725.5M1728.8 310H1729.8M1735.6 310H1737.1M1649.4 331.3H1650.4M1660.9 331.3H1661.9M1665.7 331.3H1668.7M1673.5 331.3H1675.5M1694.7 331.3H1695.7M1698.3 331.3H1699.8M1700.8 331.3H1703.3M1709.6 331.3H1711.1M1716.2 331.3H1718.7M1720.7 331.3H1721.5M1724.5 331.3H1725.5M1726.8 331.3H1727.8M1628.5 352.6H1630M1645.9 352.6H1646.9M1649.4 352.6H1650.4M1652.7 352.6H1654M1658.1 352.6H1660.9M1664.9 352.6H1665.7M1671.5 352.6H1673.5M1691.6 352.6H1692.9M1693.9 352.6H1694.7M1697 352.6H1698.3M1705.6 352.6H1708.1M1714.2 352.6H1716.2M1718.7 352.6H1719.7M1721.5 352.6H1723M1726.8 352.6H1727.8M1729.8 352.6H1731.8M1735.6 352.6H1737.1M1622.2 373.9H1623.7M1630 373.9H1631M1639.1 373.9H1643.6M1650.4 373.9H1651.2M1652.7 373.9H1654M1659.4 373.9H1660.9M1673.5 373.9H1675.5M1680 373.9H1681M1684.8 373.9H1685.8M1695.7 373.9H1697M1703.3 373.9H1705.6M1709.6 373.9H1711.1M1720.7 373.9H1721.5M1728.8 373.9H1729.8"/>
<path stroke="#abd2e5" d="M1049.9 97H1052.4M1054.4 97H1058.4M1067.7 97H1069M1075.5 97H1077.8M1093.6 97H1095.1M1097.6 97H1100.1M1112.8 97H1113.3M1054.4 118.3H1055.9M1063.7 118.3H1064.7M1075.5 118.3H1076.8M1088.8 118.3H1090.6M1093.6 118.3H1095.1M1097.6 118.3H1102.1M1006.9 139.6H1008.9M1010.7 139.6H1011.7M1015.8 139.6H1016.8M1018.8 139.6H1020.8M1025.8 139.6H1027.6M1038.3 139.6H1039.3M1048.9 139.6H1049.9M1054.4 139.6H1055.9M1063.7 139.6H1065.7M1073 139.6H1075.5M1081.8 139.6H1083.3M1097.6 139.6H1100.1M1031.4 160.9H1033.2M1042.6 160.9H1043.6M1066.7 160.9H1067.7M1100.1 160.9H1101.1M1105.9 160.9H1106.9M1004.4 182.2H1005.9M1006.9 182.2H1008.9M1009.7 182.2H1010.7M1015 182.2H1015.8M1018.8 182.2H1020.8M1023.8 182.2H1025.8M1027.6 182.2H1028.6M1031.4 182.2H1032.2M1036.3 182.2H1038.3M1047.1 182.2H1048.1M1058.4 182.2H1060.9M1062.4 182.2H1063.7M1080.8 182.2H1081.8M1083.3 182.2H1084.3M1086.8 182.2H1090.6M1092.1 182.2H1093.6M1100.1 182.2H1101.1M1112.8 182.2H1113.3M1015 203.5H1015.8M1020.8 203.5H1021.8M1022.8 203.5H1025.8M1027.6 203.5H1028.6M1036.3 203.5H1038.3M1041.6 203.5H1042.6M1048.1 203.5H1048.9M1058.4 203.5H1060.9M1092.1 203.5H1093.6M1095.1 203.5H1097.6M1102.1 203.5H1103.4M1106.9 203.5H1107.7M1111.5 203.5H1112.8M1005.9 224.8H1006.9M1009.7 224.8H1010.7M1022.8 224.8H1023.8M1025.8 224.8H1027.6M1029.4 224.8H1031.4M1032.2 224.8H1033.2M1034 224.8H1035M1036.3 224.8H1038.3M1040.3 224.8H1041.6M1044.6 224.8H1046.1M1047.1 224.8H1048.1M1049.9 224.8H1054.4M1060.9 224.8H1062.4M1065.7 224.8H1067.7M1069 224.8H1071.5M1084.3 224.8H1086.8M1089.6 224.8H1090.6M1097.6 224.8H1100.1M1103.4 224.8H1105.9M1013.2 246.1H1014M1025.8 246.1H1028.6M1029.4 246.1H1031.4M1034 246.1H1035M1038.3 246.1H1039.3M1040.3 246.1H1042.6M1044.6 246.1H1046.1M1048.9 246.1H1049.9M1058.4 246.1H1062.4M1065.7 246.1H1066.7M1067.7 246.1H1069M1080.8 246.1H1083.3M1086.8 246.1H1088.8M1089.6 246.1H1092.1M1095.1 246.1H1097.6M1101.1 246.1H1102.1M1105.9 246.1H1106.9M1004.4 267.4H1005.9M1013.2 267.4H1014M1018.8 267.4H1020.8M1032.2 267.4H1033.2M1042.6 267.4H1043.6M1060.9 267.4H1062.4M1066.7 267.4H1067.7M1071.5 267.4H1073M1088.8 267.4H1089.6M1092.1 267.4H1093.6M1018.8 288.7H1020.8M1023.8 288.7H1025.8M1027.6 288.7H1031.4M1034 288.7H1035M1038.3 288.7H1039.3M1042.6 288.7H1046.1M1048.9 288.7H1052.4M1077.8 288.7H1080.8M1090.6 288.7H1092.1M1101.1 288.7H1102.1M1106.9 288.7H1107.7M1064.7 352.6H1065.7M1069 352.6H1071.5M1044.6 373.9H1046.1M1055.9 373.9H1058.4M1062.4 373.9H1064.7M1065.7 373.9H1066.7M1126.2 97H1127.5M1129 97H1130M1142.8 97H1144.1M1188.3 97H1191.1M1193.6 97H1194.6M1201.9 97H1205.9M1213.4 97H1214.4M1217.7 97H1218.7M1229 97H1231M1134 118.3H1137.5M1142.8 118.3H1144.1M1198.1 118.3H1200.1M1205.9 118.3H1207.4M1215.9 118.3H1216.9M1227 118.3H1229M1232 118.3H1232.6M1121.2 182.2H1122.2M1126.2 182.2H1130M1136.5 182.2H1137.5M1140 182.2H1141M1151.8 182.2H1152.6M1159.2 182.2H1162.7M1169.5 182.2H1171.5M1172.5 182.2H1174M1182 182.2H1184M1200.1 182.2H1201.9M1208.4 182.2H1211.9M1221.2 182.2H1222.2M1231 182.2H1232M1131 203.5H1133M1168.2 203.5H1169.5M1172.5 203.5H1174M1182 203.5H1183M1192.1 203.5H1193.6M1194.6 203.5H1197.1M1200.1 203.5H1201.9M1204.4 203.5H1205.9M1208.4 203.5H1211.9M1213.4 203.5H1214.4M1216.9 203.5H1217.7M1221.2 203.5H1222.2M1225.7 203.5H1229M1126.2 224.8H1127.5M1136.5 224.8H1137.5M1139 224.8H1140M1142 224.8H1142.8M1148 224.8H1149.3M1161.7 224.8H1162.7M1168.2 224.8H1171.5M1174 224.8H1176.5M1179.5 224.8H1182M1210.9 224.8H1211.9M1216.9 224.8H1217.7M1127.5 246.1H1130M1131 246.1H1133M1144.1 246.1H1145.6M1146.4 246.1H1147.2M1148 246.1H1151.8M1154.6 246.1H1156.1M1161.7 246.1H1162.7M1168.2 246.1H1169.5M1179.5 246.1H1182M1190.1 246.1H1191.1M1208.4 246.1H1210.9M1215.9 246.1H1217.7M1221.2 246.1H1222.2M1126.2 267.4H1127.5M1133 267.4H1134M1145.6 267.4H1146.4M1148 267.4H1149.3M1162.7 267.4H1165.2M1179.5 267.4H1182M1204.4 267.4H1205.9M1121.2 288.7H1124.2M1126.2 288.7H1127.5M1129 288.7H1130M1141 288.7H1142.8M1152.6 288.7H1153.6M1157.9 288.7H1159.2M1161.7 288.7H1162.7M1191.1 288.7H1192.1M1198.1 288.7H1200.1M1210.9 288.7H1211.9M1215.9 288.7H1216.9M1222.2 288.7H1225.7M1231 288.7H1232.6M1126.2 310H1127.5M1131 310H1133M1136.5 310H1137.5M1140 310H1141M1142 310H1142.8M1162.7 310H1165.2M1179.5 310H1182M1197.1 310H1198.1M1207.4 310H1208.4M1213.4 310H1214.4M1216.9 310H1217.7M1224.7 310H1225.7M1227 310H1229M1134 331.3H1137.5M1139 331.3H1140M1142.8 331.3H1144.1M1146.4 331.3H1147.2M1166.7 331.3H1168.2M1174 331.3H1176.5M1178.5 331.3H1179.5M1182 331.3H1183M1197.1 331.3H1198.1M1201.9 331.3H1205.9M1214.4 331.3H1215.9M1218.7 331.3H1221.2M1224.7 331.3H1225.7M1137.5 352.6H1139M1154.6 352.6H1156.1M1165.2 352.6H1166.7M1168.2 352.6H1171.5M1184 352.6H1184.8M1187.3 352.6H1188.3M1189.1 352.6H1190.1M1193.6 352.6H1194.6M1198.1 352.6H1200.9M1210.9 352.6H1213.4M1214.4 352.6H1215.9M1221.2 352.6H1222.2M1232 352.6H1232.6M1130 373.9H1131M1140 373.9H1141M1145.6 373.9H1147.2M1154.6 373.9H1156.1M1161.7 373.9H1162.7M1166.7 373.9H1171.5M1178.5 373.9H1179.5M1184.8 373.9H1187.3M1193.6 373.9H1194.6M1198.1 373.9H1200.1M1200.9 373.9H1201.9M1217.7 373.9H1218.7M1221.2 373.9H1222.2M1239.3 97H1240.3M1242.3 97H1247.1M1259.5 97H1262.3M1274.7 97H1277.2M1278.7 97H1280M1294.7 97H1295.5M1240.3 118.3H1242.3M1255.4 118.3H1257.5M1258.5 118.3H1259.5M1260.3 118.3H1262.3M1267.7 118.3H1269.7M1271.7 118.3H1272.7M1274.7 118.3H1277.2M1294.7 118.3H1295.5M1296.8 118.3H1298.8M1239.3 139.6H1240.3M1258.5 139.6H1259.5M1272.7 139.6H1274.7M1247.1 160.9H1249.6M1257.5 182.2H1259.5M1285.8 182.2H1288.3M1269.7 203.5H1271.7M1278.7 203.5H1280M1242.3 224.8H1246.1M1266.9 224.8H1267.7M1271.7 224.8H1272.7M1277.2 224.8H1278.7M1285 224.8H1285.8M1293.4 224.8H1294.7M1240.3 246.1H1244.8M1250.4 246.1H1251.9M1267.7 246.1H1269.7M1287.3 246.1H1288.3M1294.7 246.1H1295.5M1250.4 310H1251.9M1258.5 310H1259.5M1263.3 310H1265.6M1269.7 310H1271.7M1287.3 310H1288.3M1249.6 331.3H1250.4M1257.5 331.3H1258.5M1269.7 331.3H1271.7M1250.4 352.6H1254.4M1255.4 352.6H1256.2M1266.9 352.6H1267.7M1274.7 352.6H1278.7M1280 352.6H1281.5M1290.1 352.6H1291.1M1293.4 352.6H1294.7M1258.5 373.9H1260.3M1269.7 373.9H1271.7M1274.7 373.9H1277.2M1281.5 373.9H1282.5M1285 373.9H1285.8M1288.3 373.9H1289.3M1291.1 373.9H1292.4M1311.4 139.6H1312.4M1313.4 139.6H1314.7M1321.2 139.6H1322.2M1324.7 139.6H1327.2M1359.7 139.6H1361.2M1372.3 139.6H1373.1M1386.5 139.6H1388M1388.8 139.6H1391.3M1411.6 139.6H1413.1M1437.6 139.6H1439.1M1444.4 139.6H1445.4M1460.2 139.6H1461M1472.6 139.6H1474.1M1477.9 139.6H1479.4M1482.4 139.6H1484.4M1306.9 160.9H1312.4M1321.2 160.9H1322.2M1327.2 160.9H1329M1332.8 160.9H1333.8M1339.3 160.9H1340.3M1343.1 160.9H1343.9M1349.3 160.9H1350.1M1352.6 160.9H1354.1M1359.7 160.9H1361.2M1366.5 160.9H1367.5M1369.3 160.9H1371.3M1372.3 160.9H1373.1M1375.1 160.9H1376.4M1460.2 160.9H1461M1467.3 160.9H1469.3M1340.3 182.2H1342.3M1349.3 182.2H1350.1M1355.4 182.2H1356.9M1365.2 182.2H1366.5M1372.3 182.2H1373.1M1383.2 182.2H1385.5M1386.5 182.2H1388M1392.8 182.2H1393.8M1394.6 182.2H1397.1M1437.6 182.2H1439.1M1445.4 182.2H1447.9M1453.2 182.2H1454.2M1455.2 182.2H1456.2M1469.3 182.2H1470.3M1471.3 182.2H1474.1M1479.4 182.2H1481.4M1489.9 182.2H1493.7M1496.2 182.2H1498M1355.4 203.5H1356.9M1366.5 203.5H1367.5M1374.1 203.5H1375.1M1392.8 203.5H1393.8M1437.6 203.5H1439.1M1440.6 203.5H1441.9M1453.2 203.5H1454.2M1465.5 203.5H1467.3M1475.1 203.5H1476.1M1477.9 203.5H1479.4M1484.4 203.5H1485.4M1487.4 203.5H1488.4M1489.9 203.5H1491.2M1496.2 203.5H1497M1308.9 224.8H1311.4M1321.2 224.8H1322.2M1328.2 224.8H1330.3M1332.8 224.8H1333.8M1343.1 224.8H1343.9M1348.5 224.8H1349.3M1352.6 224.8H1355.4M1388.8 224.8H1390.3M1392.8 224.8H1393.8M1397.1 224.8H1398.6M1437.6 224.8H1439.1M1441.9 224.8H1443.4M1447.9 224.8H1453.2M1457.7 224.8H1459.2M1460.2 224.8H1461M1463.5 224.8H1465.5M1469.3 224.8H1471.3M1476.1 224.8H1476.9M1479.4 224.8H1481.4M1489.9 224.8H1491.2M1493.7 224.8H1496.2M1308.9 246.1H1311.4M1312.4 246.1H1313.4M1322.2 246.1H1324.7M1329 246.1H1330.3M1333.8 246.1H1335.3M1339.3 246.1H1340.3M1351.6 246.1H1352.6M1433.8 246.1H1437.6M1439.1 246.1H1440.6M1441.9 246.1H1443.4M1450.4 246.1H1453.2M1456.2 246.1H1457.7M1463.5 246.1H1465.5M1467.3 246.1H1469.3M1489.9 246.1H1491.2M1313.4 267.4H1314.7M1319.2 267.4H1320.2M1322.2 267.4H1325.7M1335.3 267.4H1336.8M1340.3 267.4H1342.3M1347.2 267.4H1348.5M1351.6 267.4H1352.6M1356.9 267.4H1359.7M1361.2 267.4H1363.2M1383.2 267.4H1384.5M1385.5 267.4H1386.5M1392.8 267.4H1394.6M1465.5 267.4H1466.3M1467.3 267.4H1469.3M1475.1 267.4H1476.1M1479.4 267.4H1481.4M1488.4 267.4H1489.9M1491.2 267.4H1492.7M1493.7 267.4H1496.2M1497 267.4H1498M1308.9 288.7H1311.4M1312.4 288.7H1313.4M1314.7 288.7H1317.2M1319.2 288.7H1320.2M1328.2 288.7H1329M1335.3 288.7H1336.8M1337.8 288.7H1339.3M1340.3 288.7H1342.3M1348.5 288.7H1349.3M1355.4 288.7H1359.7M1366.5 288.7H1367.5M1376.4 288.7H1377.7M1379.2 288.7H1381.2M1385.5 288.7H1388M1388.8 288.7H1390.3M1391.3 288.7H1392.8M1393.8 288.7H1394.6M1476.9 288.7H1477.9M1485.4 288.7H1487.4M1498 288.7H1500M1306.9 310H1308.9M1313.4 310H1314.7M1317.2 310H1319.2M1329 310H1330.3M1337.8 310H1339.3M1340.3 310H1342.3M1347.2 310H1348.5M1359.7 310H1361.2M1367.5 310H1368.5M1386.5 310H1388M1388.8 310H1391.3M1393.8 310H1394.6M1397.1 310H1398.6M1435.1 310H1437.6M1447.9 310H1450.4M1472.6 310H1474.1M1476.9 310H1477.9M1485.4 310H1487.4M1491.2 310H1492.7M1498 310H1500.7M1313.4 331.3H1314.7M1325.7 331.3H1327.2M1329 331.3H1330.3M1335.3 331.3H1336.8M1352.6 331.3H1354.1M1359.7 331.3H1361.2M1368.5 331.3H1371.3M1374.1 331.3H1375.1M1384.5 331.3H1385.5M1390.3 331.3H1391.3M1392.8 331.3H1393.8M1394.6 331.3H1397.1M1465.5 331.3H1467.3M1471.3 331.3H1472.6M1476.9 331.3H1477.9M1479.4 331.3H1482.4M1485.4 331.3H1487.4M1493.7 331.3H1496.2M1500 331.3H1500.7M1322.2 352.6H1324.7M1327.2 352.6H1328.2M1332.8 352.6H1333.8M1339.3 352.6H1340.3M1350.1 352.6H1351.6M1356.9 352.6H1358.2M1374.1 352.6H1376.4M1377.7 352.6H1381.2M1388 352.6H1390.3M1433.8 352.6H1435.1M1437.6 352.6H1439.1M1475.1 352.6H1476.1M1479.4 352.6H1481.4M1487.4 352.6H1488.4M1329 373.9H1330.3M1332.8 373.9H1333.8M1336.8 373.9H1337.8M1339.3 373.9H1340.3M1347.2 373.9H1349.3M1350.1 373.9H1351.6M1361.2 373.9H1363.2M1377.7 373.9H1379.2M1383.2 373.9H1384.5M1388 373.9H1388.8M1450.4 373.9H1452.4M1469.3 373.9H1471.3M1476.9 373.9H1479.4M1493.7 373.9H1497M1513.1 97H1514.4M1516.2 97H1517.2M1521.7 97H1522.7M1534.9 97H1535.7M1543.6 97H1544.6M1546.6 97H1548.1M1550.1 97H1552.6M1555.6 97H1556.9M1559 97H1561.5M1566 97H1568.5M1578.7 97H1581.5M1585.5 97H1587.3M1594.3 97H1596.3M1602.4 97H1603.2M1607.7 97H1608.5M1530.8 118.3H1531.8M1537 118.3H1538.5M1546.6 118.3H1548.1M1550.1 118.3H1553.6M1555.6 118.3H1556.9M1559 118.3H1561.5M1572.9 118.3H1578.7M1580.7 118.3H1581.5M1583 118.3H1584.5M1591.3 118.3H1592.3M1600.6 118.3H1601.6M1602.4 118.3H1603.2M1522.7 139.6H1524.2M1531.8 139.6H1533.1M1552.6 139.6H1553.6M1572.1 139.6H1572.9M1575.4 139.6H1576.2M1583 139.6H1584.5M1510.8 160.9H1512.1M1514.4 160.9H1515.4M1522.7 160.9H1524.2M1530.8 160.9H1531.8M1534.1 160.9H1534.9M1552.6 160.9H1553.6M1554.6 160.9H1555.6M1566 160.9H1568.5M1572.1 160.9H1575.4M1580.7 160.9H1581.5M1534.1 182.2H1534.9M1535.7 182.2H1537M1544.6 182.2H1546.6M1516.2 203.5H1517.2M1534.1 203.5H1534.9M1538.5 203.5H1541M1542.3 203.5H1543.6M1549.1 203.5H1550.1M1552.6 203.5H1555.6M1569.3 203.5H1570.8M1521.7 224.8H1524.2M1530.8 224.8H1531.8M1533.1 224.8H1534.1M1546.6 224.8H1550.1M1556.9 224.8H1557.7M1568.5 224.8H1569.3M1580.7 224.8H1581.5M1592.3 224.8H1593.3M1607.7 224.8H1608.5M1534.9 246.1H1535.7M1549.1 246.1H1552.6M1556.9 246.1H1559M1561.5 246.1H1566M1552.6 267.4H1553.6M1556.9 267.4H1557.7M1568.5 267.4H1569.3M1570.8 267.4H1572.1M1581.5 267.4H1583M1587.3 267.4H1589.8M1529.3 288.7H1530.8M1549.1 288.7H1550.1M1561.5 288.7H1564M1568.5 288.7H1569.3M1572.1 288.7H1576.2M1585.5 288.7H1586.5M1589.8 288.7H1591.3M1592.3 288.7H1593.3M1594.3 288.7H1596.3M1600.6 288.7H1601.6M1603.2 288.7H1605.2M1607.7 288.7H1608.5M1522.7 310H1524.2M1530.8 310H1531.8M1553.6 310H1554.6M1556.9 310H1557.7M1559 310H1561.5M1576.2 310H1578.7M1592.3 310H1593.3M1596.3 310H1597.1M1528 331.3H1529.3M1533.1 331.3H1534.9M1544.6 331.3H1546.6M1554.6 331.3H1555.6M1556.9 331.3H1559M1591.3 331.3H1592.3M1596.3 331.3H1597.1M1517.2 352.6H1519.2M1522.7 352.6H1524.2M1564 352.6H1566M1569.3 352.6H1572.9M1581.5 352.6H1584.5M1592.3 352.6H1593.3M1584.5 373.9H1585.5M1589.8 373.9H1591.3M1592.3 373.9H1593.3M1618.7 97H1622.2M1634 97H1634.8M1646.9 97H1649.4M1651.2 97H1654M1668.7 97H1670.7M1675.5 97H1677M1681 97H1681.8M1688.3 97H1689.3M1694.7 97H1695.7M1709.6 97H1711.1M1716.2 97H1718.7M1720.7 97H1721.5M1725.5 97H1726.8M1616.7 118.3H1621.2M1634.8 118.3H1635.8M1639.1 118.3H1641.1M1654 118.3H1655M1655.8 118.3H1656.6M1660.9 118.3H1661.9M1668.7 118.3H1670.7M1680 118.3H1681M1682.8 118.3H1689.3M1691.6 118.3H1692.9M1698.3 118.3H1699.8M1700.8 118.3H1703.3M1709.6 118.3H1711.1M1720.7 118.3H1721.5M1725.5 118.3H1726.8M1616.7 139.6H1618.7M1627 139.6H1628.5M1634 139.6H1634.8M1638.1 139.6H1639.1M1644.6 139.6H1645.9M1654 139.6H1655M1655.8 139.6H1656.6M1658.1 139.6H1659.4M1664.9 139.6H1665.7M1668.7 139.6H1670.7M1671.5 139.6H1675.5M1678 139.6H1680M1682.8 139.6H1684.8M1692.9 139.6H1693.9M1694.7 139.6H1695.7M1697 139.6H1698.3M1704.6 139.6H1705.6M1707.1 139.6H1708.1M1714.2 139.6H1716.2M1720.7 139.6H1724.5M1725.5 139.6H1726.8M1731.8 139.6H1733.8M1622.2 160.9H1623.7M1630 160.9H1631M1635.8 160.9H1636.8M1639.1 160.9H1641.1M1643.6 160.9H1644.6M1652.7 160.9H1654M1656.6 160.9H1658.1M1666.7 160.9H1668.7M1680 160.9H1681M1690.6 160.9H1691.6M1694.7 160.9H1695.7M1703.3 160.9H1704.6M1707.1 160.9H1708.1M1712.1 160.9H1713.4M1716.2 160.9H1718.7M1724.5 160.9H1725.5M1726.8 160.9H1733.8M1737.9 160.9H1738.9M1625.7 203.5H1627M1631 203.5H1634M1639.1 203.5H1643.6M1645.9 203.5H1646.9M1650.4 203.5H1651.2M1654 203.5H1655M1655.8 203.5H1656.6M1658.1 203.5H1661.9M1663.9 203.5H1664.9M1666.7 203.5H1668.7M1670.7 203.5H1671.5M1695.7 246.1H1697M1638.1 267.4H1639.1M1641.1 267.4H1643.6M1650.4 267.4H1651.2M1655 267.4H1655.8M1661.9 267.4H1663.9M1665.7 267.4H1666.7M1668.7 267.4H1670.7M1671.5 267.4H1673.5M1680 267.4H1681.8M1695.7 267.4H1697M1704.6 267.4H1705.6M1723 267.4H1724.5M1728.8 267.4H1729.8M1737.1 267.4H1737.9M1634 288.7H1634.8M1635.8 288.7H1636.8M1650.4 288.7H1651.2M1661.9 288.7H1664.9M1665.7 288.7H1666.7M1685.8 288.7H1688.3M1689.3 288.7H1690.6M1693.9 288.7H1698.3M1703.3 288.7H1705.6M1711.1 288.7H1712.1M1714.2 288.7H1716.2M1724.5 288.7H1725.5M1728.8 288.7H1729.8M1621.2 310H1622.2M1634 310H1635.8M1655.8 310H1656.6M1685.8 310H1689.3M1699.8 310H1700.8M1705.6 310H1707.1M1721.5 310H1724.5M1733.8 310H1735.6M1635.8 331.3H1636.8M1661.9 331.3H1663.9M1688.3 331.3H1689.3M1699.8 331.3H1700.8M1711.1 331.3H1712.1M1737.9 331.3H1738.9M1616.7 352.6H1618.7M1622.2 352.6H1623.7M1631 352.6H1633M1635.8 352.6H1636.8M1641.1 352.6H1643.6M1654 352.6H1655M1663.9 352.6H1664.9M1670.7 352.6H1671.5M1675.5 352.6H1677M1681.8 352.6H1682.8M1695.7 352.6H1697M1700.8 352.6H1703.3M1731.8 352.6H1733.8M1618.7 373.9H1621.2M1633 373.9H1634M1635.8 373.9H1636.8M1644.6 373.9H1645.9M1655 373.9H1655.8M1681 373.9H1681.8M1688.3 373.9H1689.3M1692.9 373.9H1693.9M1700.8 373.9H1703.3M1716.2 373.9H1718.7M1719.7 373.9H1720.7"/>
<path stroke="#c4dfec" d="M1058.4 97H1062.4M1078.8 97H1080.8M1084.3 97H1086.8M1101.1 97H1102.1M1107.7 97H1109M1036.3 118.3H1039.3M1042.6 118.3H1043.6M1049.9 118.3H1052.4M1058.4 118.3H1060.9M1065.7 118.3H1066.7M1069 118.3H1071.5M1073 118.3H1075.5M1084.3 118.3H1086.8M1112.8 118.3H1113.3M1005.9 139.6H1006.9M1008.9 139.6H1009.7M1022.8 139.6H1025.8M1032.2 139.6H1033.2M1034 139.6H1035M1036.3 139.6H1038.3M1040.3 139.6H1041.6M1048.1 139.6H1048.9M1049.9 139.6H1052.4M1060.9 139.6H1062.4M1078.8 139.6H1080.8M1086.8 139.6H1088.8M1090.6 139.6H1092.1M1111.5 139.6H1112.8M1006.9 160.9H1008.9M1014 160.9H1015M1018.8 160.9H1020.8M1026.6 160.9H1027.6M1028.6 160.9H1029.4M1047.1 160.9H1048.1M1048.9 160.9H1049.9M1062.4 160.9H1063.7M1097.6 160.9H1100.1M1112.8 160.9H1113.3M1011.7 182.2H1013.2M1014 182.2H1015M1015.8 182.2H1016.8M1038.3 182.2H1040.3M1046.1 182.2H1047.1M1055.9 182.2H1058.4M1060.9 182.2H1062.4M1066.7 182.2H1067.7M1075.5 182.2H1078.8M1084.3 182.2H1086.8M1105.9 182.2H1109M1111.5 182.2H1112.8M1005.9 203.5H1006.9M1013.2 203.5H1014M1018.8 203.5H1020.8M1033.2 203.5H1034M1038.3 203.5H1040.3M1054.4 203.5H1055.9M1064.7 203.5H1065.7M1075.5 203.5H1076.8M1077.8 203.5H1080.8M1083.3 203.5H1088.8M1089.6 203.5H1090.6M1093.6 203.5H1095.1M1100.1 203.5H1101.1M1103.4 203.5H1105.9M1004.4 224.8H1005.9M1015 224.8H1015.8M1020.8 224.8H1021.8M1027.6 224.8H1028.6M1035 224.8H1036.3M1038.3 224.8H1039.3M1043.6 224.8H1044.6M1048.1 224.8H1048.9M1054.4 224.8H1060.9M1062.4 224.8H1063.7M1071.5 224.8H1075.5M1076.8 224.8H1078.8M1086.8 224.8H1088.8M1092.1 224.8H1093.6M1100.1 224.8H1101.1M1102.1 224.8H1103.4M1109 224.8H1111.5M1004.4 246.1H1005.9M1006.9 246.1H1008.9M1009.7 246.1H1010.7M1015 246.1H1015.8M1022.8 246.1H1023.8M1035 246.1H1036.3M1039.3 246.1H1040.3M1066.7 246.1H1067.7M1071.5 246.1H1073M1075.5 246.1H1076.8M1077.8 246.1H1078.8M1083.3 246.1H1086.8M1093.6 246.1H1095.1M1097.6 246.1H1101.1M1107.7 246.1H1109M1112.8 246.1H1113.3M1005.9 267.4H1006.9M1016.8 267.4H1018.8M1023.8 267.4H1025.8M1029.4 267.4H1031.4M1034 267.4H1035M1036.3 267.4H1039.3M1049.9 267.4H1054.4M1055.9 267.4H1060.9M1063.7 267.4H1064.7M1069 267.4H1071.5M1073 267.4H1075.5M1078.8 267.4H1080.8M1089.6 267.4H1092.1M1093.6 267.4H1095.1M1097.6 267.4H1100.1M1106.9 267.4H1109M1015 288.7H1015.8M1020.8 288.7H1021.8M1025.8 288.7H1026.6M1032.2 288.7H1033.2M1040.3 288.7H1041.6M1046.1 288.7H1047.1M1048.1 288.7H1048.9M1052.4 288.7H1054.4M1062.4 288.7H1063.7M1065.7 288.7H1067.7M1076.8 288.7H1077.8M1093.6 288.7H1100.1M1102.1 288.7H1106.9M1109 288.7H1112.8M1036.3 352.6H1039.3M1040.3 352.6H1041.6M1043.6 352.6H1044.6M1046.1 352.6H1047.1M1049.9 352.6H1052.4M1060.9 352.6H1062.4M1063.7 352.6H1064.7M1046.1 373.9H1047.1M1048.9 373.9H1049.9M1069 373.9H1071.5M1130 97H1131M1134 97H1137.5M1194.6 97H1197.1M1200.9 97H1201.9M1214.4 97H1215.9M1224.7 97H1225.7M1232 97H1232.6M1121.2 118.3H1122.2M1124.2 118.3H1125.2M1131 118.3H1133M1139 118.3H1140M1189.1 118.3H1190.1M1191.1 118.3H1192.1M1193.6 118.3H1197.1M1200.9 118.3H1201.9M1207.4 118.3H1208.4M1211.9 118.3H1213.4M1217.7 118.3H1218.7M1222.2 118.3H1224.7M1133 182.2H1134M1142 182.2H1142.8M1145.6 182.2H1146.4M1149.3 182.2H1151.8M1156.1 182.2H1156.9M1162.7 182.2H1166.7M1174 182.2H1176.5M1179.5 182.2H1182M1184.8 182.2H1188.3M1191.1 182.2H1193.6M1194.6 182.2H1200.1M1201.9 182.2H1204.4M1211.9 182.2H1214.4M1217.7 182.2H1218.7M1222.2 182.2H1231M1232 182.2H1232.6M1126.2 203.5H1127.5M1134 203.5H1136.5M1139 203.5H1141M1142 203.5H1142.8M1159.2 203.5H1162.7M1169.5 203.5H1172.5M1174 203.5H1176.5M1179.5 203.5H1182M1184.8 203.5H1187.3M1197.1 203.5H1198.1M1201.9 203.5H1204.4M1211.9 203.5H1213.4M1229 203.5H1231M1232 203.5H1232.6M1130 224.8H1131M1145.6 224.8H1146.4M1149.3 224.8H1151.8M1156.9 224.8H1157.9M1171.5 224.8H1172.5M1176.5 224.8H1178.5M1182 224.8H1189.1M1190.1 224.8H1191.1M1204.4 224.8H1205.9M1207.4 224.8H1208.4M1211.9 224.8H1214.4M1215.9 224.8H1216.9M1231 224.8H1232.6M1121.2 246.1H1122.2M1130 246.1H1131M1141 246.1H1142M1145.6 246.1H1146.4M1165.2 246.1H1166.7M1182 246.1H1183M1184.8 246.1H1188.3M1198.1 246.1H1201.9M1207.4 246.1H1208.4M1211.9 246.1H1213.4M1218.7 246.1H1221.2M1222.2 246.1H1227M1231 246.1H1232M1125.2 267.4H1126.2M1131 267.4H1133M1134 267.4H1136.5M1139 267.4H1140M1141 267.4H1142M1144.1 267.4H1145.6M1149.3 267.4H1154.6M1156.1 267.4H1157.9M1161.7 267.4H1162.7M1165.2 267.4H1166.7M1178.5 267.4H1179.5M1194.6 267.4H1197.1M1198.1 267.4H1204.4M1205.9 267.4H1207.4M1210.9 267.4H1211.9M1214.4 267.4H1215.9M1222.2 267.4H1224.7M1229 267.4H1231M1124.2 288.7H1126.2M1131 288.7H1133M1137.5 288.7H1139M1145.6 288.7H1146.4M1149.3 288.7H1151.8M1153.6 288.7H1154.6M1156.1 288.7H1156.9M1166.7 288.7H1168.2M1179.5 288.7H1182M1184 288.7H1184.8M1187.3 288.7H1188.3M1194.6 288.7H1197.1M1200.1 288.7H1201.9M1204.4 288.7H1205.9M1211.9 288.7H1214.4M1216.9 288.7H1217.7M1122.2 310H1124.2M1134 310H1136.5M1139 310H1140M1141 310H1142M1142.8 310H1144.1M1145.6 310H1146.4M1148 310H1152.6M1156.1 310H1159.2M1161.7 310H1162.7M1165.2 310H1166.7M1168.2 310H1169.5M1178.5 310H1179.5M1182 310H1187.3M1198.1 310H1200.1M1205.9 310H1207.4M1211.9 310H1213.4M1215.9 310H1216.9M1222.2 310H1224.7M1231 310H1232.6M1131 331.3H1133M1140 331.3H1141M1142 331.3H1142.8M1144.1 331.3H1146.4M1149.3 331.3H1151.8M1156.1 331.3H1156.9M1161.7 331.3H1162.7M1165.2 331.3H1166.7M1168.2 331.3H1169.5M1176.5 331.3H1178.5M1183 331.3H1184M1184.8 331.3H1187.3M1188.3 331.3H1190.1M1192.1 331.3H1193.6M1198.1 331.3H1200.1M1207.4 331.3H1208.4M1216.9 331.3H1217.7M1222.2 331.3H1224.7M1231 331.3H1232.6M1121.2 352.6H1124.2M1145.6 352.6H1147.2M1151.8 352.6H1152.6M1162.7 352.6H1165.2M1171.5 352.6H1172.5M1174 352.6H1176.5M1184.8 352.6H1187.3M1201.9 352.6H1208.4M1229 352.6H1232M1121.2 373.9H1124.2M1125.2 373.9H1130M1131 373.9H1133M1134 373.9H1136.5M1156.9 373.9H1157.9M1171.5 373.9H1172.5M1179.5 373.9H1183M1187.3 373.9H1188.3M1190.1 373.9H1191.1M1204.4 373.9H1205.9M1210.9 373.9H1213.4M1255.4 97H1256.2M1257.5 97H1259.5M1266.9 97H1267.7M1269.7 97H1272.7M1296.8 97H1298.8M1247.1 118.3H1249.6M1262.3 118.3H1263.3M1266.9 118.3H1267.7M1272.7 118.3H1274.7M1280 118.3H1281.5M1250.4 139.6H1251.9M1256.2 139.6H1257.5M1259.5 139.6H1262.3M1277.2 139.6H1280M1239.3 160.9H1242.3M1255.4 160.9H1256.2M1262.3 160.9H1264.6M1272.7 160.9H1274.7M1278.7 160.9H1280M1260.3 182.2H1263.3M1267.7 182.2H1271.7M1272.7 182.2H1274.7M1277.2 182.2H1278.7M1281.5 182.2H1285M1296.8 182.2H1298.8M1257.5 203.5H1259.5M1263.3 203.5H1265.6M1282.5 203.5H1285M1290.1 203.5H1291.1M1292.4 203.5H1293.4M1239.3 224.8H1240.3M1246.1 224.8H1247.1M1249.6 224.8H1251.9M1257.5 224.8H1259.5M1260.3 224.8H1262.3M1264.6 224.8H1265.6M1272.7 224.8H1277.2M1287.3 224.8H1288.3M1291.1 224.8H1292.4M1239.3 246.1H1240.3M1251.9 246.1H1254.4M1255.4 246.1H1256.2M1258.5 246.1H1259.5M1260.3 246.1H1262.3M1266.9 246.1H1267.7M1271.7 246.1H1274.7M1277.2 246.1H1278.7M1285.8 246.1H1287.3M1290.1 246.1H1292.4M1296.8 246.1H1298.8M1240.3 310H1242.3M1246.1 310H1247.1M1256.2 310H1257.5M1259.5 310H1260.3M1265.6 310H1267.7M1271.7 310H1274.7M1278.7 310H1280M1293.4 310H1295.5M1240.3 331.3H1242.3M1250.4 331.3H1251.9M1256.2 331.3H1257.5M1258.5 331.3H1259.5M1260.3 331.3H1267.7M1271.7 331.3H1272.7M1294.7 331.3H1295.5M1240.3 352.6H1244.8M1257.5 352.6H1258.5M1259.5 352.6H1260.3M1263.3 352.6H1264.6M1272.7 352.6H1274.7M1278.7 352.6H1280M1285.8 352.6H1287.3M1289.3 352.6H1290.1M1294.7 352.6H1296.8M1240.3 373.9H1242.3M1254.4 373.9H1258.5M1265.6 373.9H1266.9M1272.7 373.9H1274.7M1277.2 373.9H1280M1289.3 373.9H1290.1M1306.9 139.6H1308.9M1319.2 139.6H1320.2M1330.3 139.6H1332.8M1344.9 139.6H1347.2M1365.2 139.6H1367.5M1368.5 139.6H1369.3M1373.1 139.6H1374.1M1375.1 139.6H1376.4M1381.2 139.6H1384.5M1393.8 139.6H1401.1M1404.6 139.6H1406.1M1408.6 139.6H1409.6M1410.6 139.6H1411.6M1413.1 139.6H1414.7M1418.2 139.6H1422.5M1423.5 139.6H1426M1431.8 139.6H1433.8M1445.4 139.6H1450.4M1454.2 139.6H1456.2M1459.2 139.6H1460.2M1465.5 139.6H1466.3M1469.3 139.6H1472.6M1474.1 139.6H1475.1M1476.9 139.6H1477.9M1313.4 160.9H1314.7M1319.2 160.9H1320.2M1324.7 160.9H1325.7M1330.3 160.9H1332.8M1342.3 160.9H1343.1M1346.4 160.9H1347.2M1356.9 160.9H1358.2M1365.2 160.9H1366.5M1373.1 160.9H1374.1M1381.2 160.9H1384.5M1390.3 160.9H1391.3M1394.6 160.9H1398.6M1406.1 160.9H1409.6M1411.6 160.9H1413.9M1419.2 160.9H1423.5M1431.8 160.9H1433.8M1437.6 160.9H1439.1M1441.9 160.9H1444.4M1445.4 160.9H1447.9M1452.4 160.9H1453.2M1469.3 160.9H1470.3M1472.6 160.9H1474.1M1477.9 160.9H1479.4M1488.4 160.9H1489.9M1491.2 160.9H1492.7M1343.1 182.2H1343.9M1354.1 182.2H1355.4M1367.5 182.2H1371.3M1385.5 182.2H1386.5M1403.6 182.2H1406.1M1408.6 182.2H1409.6M1410.6 182.2H1411.6M1413.1 182.2H1413.9M1414.7 182.2H1422.5M1426 182.2H1433.8M1443.4 182.2H1445.4M1450.4 182.2H1453.2M1459.2 182.2H1465.5M1470.3 182.2H1471.3M1475.1 182.2H1476.1M1476.9 182.2H1477.9M1484.4 182.2H1485.4M1487.4 182.2H1488.4M1493.7 182.2H1496.2M1375.1 203.5H1376.4M1386.5 203.5H1388M1388.8 203.5H1390.3M1393.8 203.5H1397.1M1403.6 203.5H1404.6M1406.1 203.5H1407.6M1408.6 203.5H1411.6M1413.1 203.5H1413.9M1415.7 203.5H1421.7M1428 203.5H1433.8M1441.9 203.5H1443.4M1461 203.5H1465.5M1469.3 203.5H1470.3M1471.3 203.5H1474.1M1476.9 203.5H1477.9M1479.4 203.5H1481.4M1485.4 203.5H1487.4M1306.9 224.8H1308.9M1311.4 224.8H1312.4M1314.7 224.8H1317.2M1319.2 224.8H1320.2M1327.2 224.8H1328.2M1330.3 224.8H1332.8M1333.8 224.8H1335.3M1347.2 224.8H1348.5M1384.5 224.8H1385.5M1390.3 224.8H1391.3M1401.1 224.8H1403.6M1407.6 224.8H1408.6M1413.9 224.8H1418.2M1426 224.8H1428M1429.3 224.8H1431.8M1433.8 224.8H1435.1M1439.1 224.8H1440.6M1454.2 224.8H1456.2M1459.2 224.8H1460.2M1476.9 224.8H1477.9M1485.4 224.8H1487.4M1497 224.8H1500.7M1306.9 246.1H1308.9M1328.2 246.1H1329M1336.8 246.1H1339.3M1344.9 246.1H1346.4M1347.2 246.1H1348.5M1394.6 246.1H1404.6M1407.6 246.1H1408.6M1410.6 246.1H1413.1M1413.9 246.1H1417.2M1418.2 246.1H1421.7M1426 246.1H1428M1429.3 246.1H1431.8M1447.9 246.1H1450.4M1454.2 246.1H1455.2M1459.2 246.1H1463.5M1465.5 246.1H1466.3M1479.4 246.1H1484.4M1487.4 246.1H1488.4M1493.7 246.1H1496.2M1498 246.1H1500.7M1308.9 267.4H1311.4M1312.4 267.4H1313.4M1320.2 267.4H1321.2M1328.2 267.4H1329M1333.8 267.4H1335.3M1339.3 267.4H1340.3M1343.9 267.4H1346.4M1348.5 267.4H1349.3M1352.6 267.4H1354.1M1355.4 267.4H1356.9M1367.5 267.4H1369.3M1372.3 267.4H1374.1M1375.1 267.4H1376.4M1377.7 267.4H1381.2M1388.8 267.4H1392.8M1394.6 267.4H1398.6M1401.1 267.4H1403.6M1407.6 267.4H1409.6M1410.6 267.4H1413.9M1417.2 267.4H1419.2M1421.7 267.4H1431.8M1440.6 267.4H1441.9M1443.4 267.4H1444.4M1476.1 267.4H1476.9M1492.7 267.4H1493.7M1313.4 288.7H1314.7M1320.2 288.7H1321.2M1322.2 288.7H1324.7M1333.8 288.7H1335.3M1336.8 288.7H1337.8M1342.3 288.7H1343.1M1343.9 288.7H1344.9M1350.1 288.7H1354.1M1361.2 288.7H1363.2M1365.2 288.7H1366.5M1367.5 288.7H1369.3M1371.3 288.7H1373.1M1388 288.7H1388.8M1394.6 288.7H1397.1M1401.1 288.7H1403.6M1406.1 288.7H1408.6M1410.6 288.7H1413.1M1414.7 288.7H1419.2M1421.7 288.7H1423.5M1426 288.7H1428M1429.3 288.7H1431.8M1466.3 288.7H1467.3M1475.1 288.7H1476.9M1311.4 310H1312.4M1320.2 310H1321.2M1327.2 310H1328.2M1330.3 310H1333.8M1350.1 310H1354.1M1368.5 310H1371.3M1372.3 310H1375.1M1377.7 310H1379.2M1384.5 310H1385.5M1388 310H1388.8M1392.8 310H1393.8M1398.6 310H1401.1M1403.6 310H1406.1M1408.6 310H1409.6M1410.6 310H1413.1M1415.7 310H1417.2M1426 310H1428M1429.3 310H1431.8M1439.1 310H1440.6M1444.4 310H1447.9M1450.4 310H1454.2M1466.3 310H1469.3M1474.1 310H1476.1M1488.4 310H1489.9M1492.7 310H1493.7M1320.2 331.3H1322.2M1324.7 331.3H1325.7M1327.2 331.3H1329M1340.3 331.3H1342.3M1343.9 331.3H1344.9M1346.4 331.3H1347.2M1348.5 331.3H1349.3M1355.4 331.3H1358.2M1366.5 331.3H1367.5M1372.3 331.3H1373.1M1376.4 331.3H1377.7M1383.2 331.3H1384.5M1388 331.3H1388.8M1397.1 331.3H1401.1M1403.6 331.3H1404.6M1406.1 331.3H1407.6M1408.6 331.3H1409.6M1410.6 331.3H1413.9M1415.7 331.3H1418.2M1419.2 331.3H1421.7M1426 331.3H1428M1429.3 331.3H1431.8M1433.8 331.3H1435.1M1450.4 331.3H1453.2M1461 331.3H1463.5M1467.3 331.3H1469.3M1470.3 331.3H1471.3M1474.1 331.3H1476.1M1488.4 331.3H1489.9M1491.2 331.3H1492.7M1497 331.3H1500M1312.4 352.6H1314.7M1319.2 352.6H1320.2M1336.8 352.6H1337.8M1343.1 352.6H1343.9M1347.2 352.6H1348.5M1358.2 352.6H1359.7M1366.5 352.6H1367.5M1369.3 352.6H1371.3M1372.3 352.6H1373.1M1384.5 352.6H1386.5M1390.3 352.6H1392.8M1394.6 352.6H1401.1M1404.6 352.6H1410.6M1413.9 352.6H1414.7M1417.2 352.6H1418.2M1421.7 352.6H1422.5M1423.5 352.6H1428M1441.9 352.6H1444.4M1445.4 352.6H1447.9M1453.2 352.6H1454.2M1461 352.6H1465.5M1466.3 352.6H1469.3M1470.3 352.6H1471.3M1476.1 352.6H1476.9M1477.9 352.6H1479.4M1485.4 352.6H1487.4M1488.4 352.6H1489.9M1491.2 352.6H1493.7M1312.4 373.9H1313.4M1325.7 373.9H1327.2M1333.8 373.9H1335.3M1342.3 373.9H1343.9M1349.3 373.9H1350.1M1352.6 373.9H1354.1M1356.9 373.9H1358.2M1363.2 373.9H1365.2M1366.5 373.9H1367.5M1368.5 373.9H1371.3M1375.1 373.9H1376.4M1379.2 373.9H1381.2M1384.5 373.9H1386.5M1390.3 373.9H1391.3M1394.6 373.9H1398.6M1401.1 373.9H1403.6M1406.1 373.9H1408.6M1409.6 373.9H1410.6M1413.9 373.9H1414.7M1418.2 373.9H1421.7M1423.5 373.9H1428M1429.3 373.9H1435.1M1440.6 373.9H1441.9M1455.2 373.9H1456.2M1460.2 373.9H1461M1463.5 373.9H1465.5M1466.3 373.9H1467.3M1472.6 373.9H1474.1M1475.1 373.9H1476.1M1479.4 373.9H1481.4M1485.4 373.9H1489.9M1491.2 373.9H1492.7M1497 373.9H1498M1530.8 97H1531.8M1548.1 97H1549.1M1552.6 97H1553.6M1556.9 97H1557.7M1561.5 97H1564M1568.5 97H1569.3M1576.2 97H1578.7M1584.5 97H1585.5M1591.3 97H1592.3M1605.2 97H1607.7M1514.4 118.3H1515.4M1521.7 118.3H1522.7M1549.1 118.3H1550.1M1557.7 118.3H1559M1566 118.3H1568.5M1587.3 118.3H1589.8M1593.3 118.3H1594.3M1515.4 139.6H1516.2M1519.2 139.6H1522.7M1524.2 139.6H1525.7M1527 139.6H1528M1534.1 139.6H1534.9M1544.6 139.6H1546.6M1549.1 139.6H1552.6M1556.9 139.6H1557.7M1566 139.6H1568.5M1572.9 139.6H1575.4M1580.7 139.6H1581.5M1584.5 139.6H1585.5M1586.5 139.6H1587.3M1605.2 139.6H1607.7M1512.1 160.9H1513.1M1516.2 160.9H1522.7M1524.2 160.9H1525.7M1533.1 160.9H1534.1M1544.6 160.9H1546.6M1556.9 160.9H1559M1561.5 160.9H1564M1578.7 160.9H1580.7M1581.5 160.9H1583M1584.5 160.9H1586.5M1512.1 182.2H1513.1M1514.4 182.2H1516.2M1517.2 182.2H1519.2M1524.2 182.2H1525.7M1541 182.2H1542.3M1543.6 182.2H1544.6M1557.7 182.2H1559M1592.3 182.2H1593.3M1605.2 182.2H1607.7M1510.8 203.5H1512.1M1524.2 203.5H1525.7M1535.7 203.5H1537M1566 203.5H1569.3M1512.1 224.8H1513.1M1515.4 224.8H1516.2M1524.2 224.8H1527M1537 224.8H1538.5M1550.1 224.8H1553.6M1554.6 224.8H1555.6M1557.7 224.8H1559M1566 224.8H1568.5M1572.9 224.8H1575.4M1578.7 224.8H1580.7M1584.5 224.8H1585.5M1594.3 224.8H1596.3M1512.1 246.1H1514.4M1519.2 246.1H1522.7M1524.2 246.1H1527M1531.8 246.1H1533.1M1534.1 246.1H1534.9M1541 246.1H1542.3M1546.6 246.1H1548.1M1552.6 246.1H1556.9M1570.8 246.1H1572.1M1542.3 267.4H1543.6M1553.6 267.4H1554.6M1561.5 267.4H1564M1585.5 267.4H1587.3M1589.8 267.4H1591.3M1597.1 267.4H1600.6M1602.4 267.4H1603.2M1605.2 267.4H1607.7M1543.6 288.7H1544.6M1546.6 288.7H1548.1M1554.6 288.7H1555.6M1559 288.7H1561.5M1569.3 288.7H1570.8M1580.7 288.7H1581.5M1584.5 288.7H1585.5M1587.3 288.7H1589.8M1593.3 288.7H1594.3M1597.1 288.7H1598.6M1525.7 310H1527M1528 310H1529.3M1531.8 310H1533.1M1534.1 310H1537M1548.1 310H1549.1M1550.1 310H1552.6M1554.6 310H1556.9M1569.3 310H1570.8M1575.4 310H1576.2M1578.7 310H1581.5M1586.5 310H1589.8M1593.3 310H1596.3M1525.7 331.3H1527M1535.7 331.3H1538.5M1542.3 331.3H1543.6M1546.6 331.3H1552.6M1553.6 331.3H1554.6M1555.6 331.3H1556.9M1561.5 331.3H1568.5M1570.8 331.3H1572.1M1576.2 331.3H1578.7M1580.7 331.3H1581.5M1583 331.3H1584.5M1585.5 331.3H1586.5M1593.3 331.3H1594.3M1601.6 331.3H1602.4M1607.7 331.3H1608.5M1510.8 352.6H1513.1M1566 352.6H1568.5M1578.7 352.6H1580.7M1585.5 352.6H1586.5M1587.3 352.6H1591.3M1596.3 352.6H1597.1M1603.2 352.6H1607.7M1566 373.9H1568.5M1576.2 373.9H1580.7M1586.5 373.9H1587.3M1594.3 373.9H1597.1M1598.6 373.9H1601.6M1603.2 373.9H1605.2M1635.8 97H1636.8M1643.6 97H1644.6M1654 97H1655.8M1661.9 97H1663.9M1666.7 97H1668.7M1670.7 97H1673.5M1678 97H1680M1685.8 97H1688.3M1695.7 97H1698.3M1634 118.3H1634.8M1651.2 118.3H1652.7M1656.6 118.3H1658.1M1670.7 118.3H1671.5M1677 118.3H1678M1681.8 118.3H1682.8M1705.6 118.3H1707.1M1716.2 118.3H1718.7M1622.2 139.6H1623.7M1625.7 139.6H1627M1646.9 139.6H1650.4M1655 139.6H1655.8M1659.4 139.6H1660.9M1666.7 139.6H1668.7M1675.5 139.6H1677M1684.8 139.6H1689.3M1690.6 139.6H1691.6M1699.8 139.6H1700.8M1703.3 139.6H1704.6M1705.6 139.6H1707.1M1713.4 139.6H1714.2M1719.7 139.6H1720.7M1728.8 139.6H1731.8M1737.1 139.6H1738.9M1625.7 160.9H1627M1631 160.9H1635.8M1636.8 160.9H1639.1M1645.9 160.9H1646.9M1649.4 160.9H1650.4M1658.1 160.9H1659.4M1668.7 160.9H1671.5M1678 160.9H1680M1684.8 160.9H1685.8M1699.8 160.9H1700.8M1708.1 160.9H1712.1M1719.7 160.9H1720.7M1734.6 160.9H1735.6M1634 182.2H1635.8M1638.1 182.2H1639.1M1643.6 182.2H1644.6M1621.2 203.5H1622.2M1656.6 203.5H1658.1M1724.5 203.5H1725.5M1727.8 203.5H1728.8M1671.5 246.1H1673.5M1681.8 246.1H1682.8M1689.3 246.1H1690.6M1697 246.1H1698.3M1703.3 246.1H1704.6M1639.1 267.4H1641.1M1649.4 267.4H1650.4M1651.2 267.4H1652.7M1664.9 267.4H1665.7M1670.7 267.4H1671.5M1673.5 267.4H1677M1685.8 267.4H1689.3M1692.9 267.4H1693.9M1694.7 267.4H1695.7M1697 267.4H1699.8M1708.1 267.4H1711.1M1714.2 267.4H1716.2M1720.7 267.4H1721.5M1724.5 267.4H1726.8M1634.8 288.7H1635.8M1636.8 288.7H1639.1M1645.9 288.7H1650.4M1664.9 288.7H1665.7M1671.5 288.7H1673.5M1677 288.7H1678M1680 288.7H1681.8M1684.8 288.7H1685.8M1691.6 288.7H1692.9M1698.3 288.7H1699.8M1708.1 288.7H1711.1M1718.7 288.7H1721.5M1725.5 288.7H1726.8M1727.8 288.7H1728.8M1729.8 288.7H1731.8M1735.6 288.7H1737.9M1622.2 310H1625.7M1630 310H1631M1633 310H1634M1639.1 310H1644.6M1652.7 310H1655M1656.6 310H1660.9M1663.9 310H1665.7M1680 310H1681M1693.9 310H1694.7M1698.3 310H1699.8M1708.1 310H1709.6M1719.7 310H1720.7M1729.8 310H1731.8M1737.9 310H1738.9M1621.2 331.3H1627M1634 331.3H1634.8M1636.8 331.3H1638.1M1639.1 331.3H1643.6M1646.9 331.3H1649.4M1651.2 331.3H1652.7M1655 331.3H1656.6M1658.1 331.3H1659.4M1663.9 331.3H1665.7M1670.7 331.3H1673.5M1678 331.3H1680M1681.8 331.3H1682.8M1691.6 331.3H1693.9M1705.6 331.3H1707.1M1708.1 331.3H1709.6M1713.4 331.3H1714.2M1719.7 331.3H1720.7M1721.5 331.3H1724.5M1733.8 331.3H1737.1M1621.2 352.6H1622.2M1623.7 352.6H1625.7M1644.6 352.6H1645.9M1646.9 352.6H1649.4M1651.2 352.6H1652.7M1655 352.6H1658.1M1660.9 352.6H1663.9M1665.7 352.6H1668.7M1673.5 352.6H1675.5M1678 352.6H1681.8M1684.8 352.6H1685.8M1688.3 352.6H1689.3M1694.7 352.6H1695.7M1698.3 352.6H1699.8M1711.1 352.6H1713.4M1716.2 352.6H1718.7M1719.7 352.6H1720.7M1733.8 352.6H1734.6M1621.2 373.9H1622.2M1631 373.9H1633M1634 373.9H1634.8M1660.9 373.9H1661.9M1663.9 373.9H1664.9M1666.7 373.9H1668.7M1677 373.9H1678M1682.8 373.9H1684.8M1708.1 373.9H1709.6M1711.1 373.9H1716.2M1726.8 373.9H1727.8"/>
<path stroke="#d9e9f1" d="M1062.4 97H1063.7M1069 97H1071.5M1073 97H1075.5M1080.8 97H1083.3M1100.1 97H1101.1M1109 97H1111.5M1023.8 118.3H1025.8M1027.6 118.3H1028.6M1043.6 118.3H1044.6M1048.1 118.3H1048.9M1055.9 118.3H1058.4M1064.7 118.3H1065.7M1071.5 118.3H1073M1076.8 118.3H1077.8M1078.8 118.3H1080.8M1086.8 118.3H1088.8M1013.2 139.6H1014M1015 139.6H1015.8M1016.8 139.6H1018.8M1020.8 139.6H1022.8M1028.6 139.6H1029.4M1042.6 139.6H1047.1M1077.8 139.6H1078.8M1083.3 139.6H1084.3M1102.1 139.6H1109M1112.8 139.6H1113.3M1008.9 160.9H1009.7M1010.7 160.9H1011.7M1016.8 160.9H1018.8M1021.8 160.9H1023.8M1036.3 160.9H1038.3M1043.6 160.9H1046.1M1049.9 160.9H1052.4M1054.4 160.9H1055.9M1063.7 160.9H1064.7M1081.8 160.9H1083.3M1086.8 160.9H1088.8M1092.1 160.9H1093.6M1101.1 160.9H1102.1M1111.5 160.9H1112.8M1005.9 182.2H1006.9M1022.8 182.2H1023.8M1026.6 182.2H1027.6M1033.2 182.2H1035M1048.1 182.2H1048.9M1064.7 182.2H1065.7M1069 182.2H1071.5M1073 182.2H1075.5M1081.8 182.2H1083.3M1093.6 182.2H1095.1M1097.6 182.2H1100.1M1101.1 182.2H1102.1M1103.4 182.2H1105.9M1109 182.2H1111.5M1004.4 203.5H1005.9M1008.9 203.5H1009.7M1010.7 203.5H1011.7M1026.6 203.5H1027.6M1062.4 203.5H1063.7M1066.7 203.5H1067.7M1073 203.5H1075.5M1076.8 203.5H1077.8M1107.7 203.5H1109M1006.9 224.8H1008.9M1028.6 224.8H1029.4M1081.8 224.8H1083.3M1088.8 224.8H1089.6M1095.1 224.8H1097.6M1112.8 224.8H1113.3M1005.9 246.1H1006.9M1028.6 246.1H1029.4M1047.1 246.1H1048.1M1052.4 246.1H1054.4M1055.9 246.1H1058.4M1063.7 246.1H1065.7M1069 246.1H1071.5M1103.4 246.1H1105.9M1109 246.1H1111.5M1010.7 267.4H1013.2M1015.8 267.4H1016.8M1021.8 267.4H1023.8M1025.8 267.4H1026.6M1041.6 267.4H1042.6M1044.6 267.4H1047.1M1048.1 267.4H1048.9M1054.4 267.4H1055.9M1075.5 267.4H1078.8M1083.3 267.4H1084.3M1086.8 267.4H1088.8M1100.1 267.4H1106.9M1006.9 288.7H1008.9M1014 288.7H1015M1015.8 288.7H1016.8M1033.2 288.7H1034M1035 288.7H1036.3M1058.4 288.7H1060.9M1063.7 288.7H1065.7M1071.5 288.7H1073M1112.8 288.7H1113.3M1086.8 331.3H1088.8M1101.1 331.3H1102.1M1039.3 352.6H1040.3M1041.6 352.6H1042.6M1047.1 352.6H1048.1M1048.9 352.6H1049.9M1052.4 352.6H1058.4M1062.4 352.6H1063.7M1073 352.6H1075.5M1077.8 352.6H1078.8M1010.7 373.9H1011.7M1018.8 373.9H1020.8M1035 373.9H1036.3M1039.3 373.9H1042.6M1043.6 373.9H1044.6M1047.1 373.9H1048.9M1049.9 373.9H1052.4M1054.4 373.9H1055.9M1060.9 373.9H1062.4M1067.7 373.9H1069M1076.8 373.9H1080.8M1122.2 97H1125.2M1131 97H1133M1137.5 97H1139M1140 97H1142M1184.8 97H1187.3M1197.1 97H1198.1M1207.4 97H1208.4M1211.9 97H1213.4M1222.2 97H1224.7M1231 97H1232M1127.5 118.3H1129M1133 118.3H1134M1141 118.3H1142M1144.1 118.3H1147.2M1190.1 118.3H1191.1M1201.9 118.3H1204.4M1213.4 118.3H1214.4M1125.2 182.2H1126.2M1130 182.2H1131M1134 182.2H1136.5M1137.5 182.2H1140M1144.1 182.2H1145.6M1147.2 182.2H1148M1152.6 182.2H1156.1M1156.9 182.2H1157.9M1171.5 182.2H1172.5M1176.5 182.2H1178.5M1184 182.2H1184.8M1193.6 182.2H1194.6M1214.4 182.2H1215.9M1122.2 203.5H1124.2M1127.5 203.5H1129M1133 203.5H1134M1136.5 203.5H1137.5M1153.6 203.5H1156.9M1162.7 203.5H1166.7M1184 203.5H1184.8M1187.3 203.5H1188.3M1191.1 203.5H1192.1M1193.6 203.5H1194.6M1198.1 203.5H1200.1M1205.9 203.5H1207.4M1214.4 203.5H1216.9M1217.7 203.5H1218.7M1222.2 203.5H1225.7M1122.2 224.8H1124.2M1129 224.8H1130M1165.2 224.8H1168.2M1191.1 224.8H1194.6M1198.1 224.8H1200.1M1200.9 224.8H1201.9M1205.9 224.8H1207.4M1218.7 224.8H1221.2M1222.2 224.8H1225.7M1229 224.8H1231M1122.2 246.1H1124.2M1139 246.1H1140M1156.9 246.1H1157.9M1162.7 246.1H1165.2M1176.5 246.1H1178.5M1191.1 246.1H1192.1M1205.9 246.1H1207.4M1210.9 246.1H1211.9M1213.4 246.1H1215.9M1229 246.1H1231M1124.2 267.4H1125.2M1127.5 267.4H1131M1137.5 267.4H1139M1140 267.4H1141M1169.5 267.4H1172.5M1176.5 267.4H1178.5M1184 267.4H1184.8M1190.1 267.4H1191.1M1211.9 267.4H1213.4M1215.9 267.4H1218.7M1224.7 267.4H1227M1232 267.4H1232.6M1127.5 288.7H1129M1134 288.7H1136.5M1159.2 288.7H1161.7M1165.2 288.7H1166.7M1178.5 288.7H1179.5M1189.1 288.7H1190.1M1192.1 288.7H1193.6M1205.9 288.7H1208.4M1225.7 288.7H1227M1229 288.7H1231M1125.2 310H1126.2M1133 310H1134M1144.1 310H1145.6M1147.2 310H1148M1154.6 310H1156.1M1169.5 310H1176.5M1187.3 310H1191.1M1192.1 310H1194.6M1200.1 310H1201.9M1217.7 310H1218.7M1225.7 310H1227M1121.2 331.3H1122.2M1125.2 331.3H1126.2M1141 331.3H1142M1147.2 331.3H1149.3M1151.8 331.3H1156.1M1156.9 331.3H1157.9M1159.2 331.3H1161.7M1169.5 331.3H1171.5M1172.5 331.3H1174M1194.6 331.3H1197.1M1200.1 331.3H1201.9M1205.9 331.3H1207.4M1210.9 331.3H1213.4M1215.9 331.3H1216.9M1217.7 331.3H1218.7M1221.2 331.3H1222.2M1229 331.3H1231M1124.2 352.6H1127.5M1129 352.6H1136.5M1140 352.6H1141M1159.2 352.6H1162.7M1188.3 352.6H1189.1M1190.1 352.6H1192.1M1208.4 352.6H1210.9M1215.9 352.6H1216.9M1222.2 352.6H1224.7M1227 352.6H1229M1133 373.9H1134M1137.5 373.9H1140M1141 373.9H1142.8M1144.1 373.9H1145.6M1147.2 373.9H1153.6M1159.2 373.9H1161.7M1162.7 373.9H1165.2M1172.5 373.9H1176.5M1188.3 373.9H1189.1M1191.1 373.9H1192.1M1194.6 373.9H1197.1M1201.9 373.9H1204.4M1208.4 373.9H1210.9M1214.4 373.9H1215.9M1224.7 373.9H1232M1262.3 97H1263.3M1244.8 118.3H1246.1M1244.8 139.6H1246.1M1247.1 139.6H1250.4M1251.9 139.6H1254.4M1255.4 139.6H1256.2M1269.7 139.6H1271.7M1295.5 139.6H1296.8M1244.8 160.9H1246.1M1249.6 160.9H1250.4M1259.5 160.9H1262.3M1264.6 160.9H1265.6M1271.7 160.9H1272.7M1274.7 160.9H1277.2M1295.5 160.9H1296.8M1239.3 182.2H1240.3M1250.4 182.2H1251.9M1265.6 182.2H1266.9M1274.7 182.2H1277.2M1280 182.2H1281.5M1288.3 182.2H1289.3M1293.4 182.2H1294.7M1250.4 203.5H1251.9M1260.3 203.5H1263.3M1265.6 203.5H1266.9M1272.7 203.5H1274.7M1277.2 203.5H1278.7M1285.8 203.5H1288.3M1289.3 203.5H1290.1M1293.4 203.5H1294.7M1295.5 203.5H1298.8M1247.1 224.8H1249.6M1251.9 224.8H1257.5M1259.5 224.8H1260.3M1262.3 224.8H1264.6M1280 224.8H1281.5M1285.8 224.8H1287.3M1289.3 224.8H1291.1M1244.8 246.1H1246.1M1247.1 246.1H1250.4M1254.4 246.1H1255.4M1256.2 246.1H1258.5M1262.3 246.1H1263.3M1264.6 246.1H1265.6M1278.7 246.1H1281.5M1282.5 246.1H1285M1293.4 246.1H1294.7M1269.7 267.4H1271.7M1272.7 267.4H1274.7M1285 267.4H1285.8M1290.1 267.4H1291.1M1239.3 310H1240.3M1244.8 310H1246.1M1251.9 310H1254.4M1255.4 310H1256.2M1257.5 310H1258.5M1267.7 310H1269.7M1274.7 310H1277.2M1288.3 310H1290.1M1291.1 310H1293.4M1239.3 331.3H1240.3M1246.1 331.3H1249.6M1251.9 331.3H1256.2M1259.5 331.3H1260.3M1272.7 331.3H1277.2M1288.3 331.3H1289.3M1290.1 331.3H1291.1M1293.4 331.3H1294.7M1247.1 352.6H1249.6M1256.2 352.6H1257.5M1258.5 352.6H1259.5M1264.6 352.6H1265.6M1267.7 352.6H1269.7M1281.5 352.6H1282.5M1287.3 352.6H1289.3M1291.1 352.6H1292.4M1242.3 373.9H1244.8M1247.1 373.9H1249.6M1260.3 373.9H1263.3M1264.6 373.9H1265.6M1267.7 373.9H1269.7M1271.7 373.9H1272.7M1280 373.9H1281.5M1285.8 373.9H1287.3M1311.4 97H1312.4M1314.7 97H1317.2M1324.7 97H1325.7M1322.2 139.6H1324.7M1336.8 139.6H1337.8M1342.3 139.6H1343.1M1371.3 139.6H1372.3M1403.6 139.6H1404.6M1406.1 139.6H1408.6M1409.6 139.6H1410.6M1415.7 139.6H1417.2M1422.5 139.6H1423.5M1426 139.6H1428M1429.3 139.6H1431.8M1433.8 139.6H1437.6M1439.1 139.6H1443.4M1450.4 139.6H1453.2M1461 139.6H1465.5M1467.3 139.6H1469.3M1481.4 139.6H1482.4M1484.4 139.6H1485.4M1491.2 139.6H1492.7M1493.7 139.6H1496.2M1497 139.6H1498M1500 139.6H1500.7M1322.2 160.9H1324.7M1336.8 160.9H1337.8M1368.5 160.9H1369.3M1371.3 160.9H1372.3M1377.7 160.9H1379.2M1393.8 160.9H1394.6M1398.6 160.9H1401.1M1403.6 160.9H1406.1M1410.6 160.9H1411.6M1413.9 160.9H1419.2M1423.5 160.9H1431.8M1433.8 160.9H1437.6M1440.6 160.9H1441.9M1444.4 160.9H1445.4M1450.4 160.9H1452.4M1455.2 160.9H1456.2M1461 160.9H1463.5M1475.1 160.9H1476.1M1481.4 160.9H1482.4M1489.9 160.9H1491.2M1493.7 160.9H1496.2M1498 160.9H1500M1312.4 182.2H1313.4M1343.9 182.2H1344.9M1346.4 182.2H1347.2M1348.5 182.2H1349.3M1351.6 182.2H1354.1M1358.2 182.2H1359.7M1374.1 182.2H1376.4M1377.7 182.2H1381.2M1388 182.2H1392.8M1397.1 182.2H1403.6M1406.1 182.2H1408.6M1409.6 182.2H1410.6M1411.6 182.2H1413.1M1413.9 182.2H1414.7M1422.5 182.2H1426M1433.8 182.2H1435.1M1440.6 182.2H1443.4M1454.2 182.2H1455.2M1456.2 182.2H1459.2M1465.5 182.2H1466.3M1467.3 182.2H1469.3M1488.4 182.2H1489.9M1498 182.2H1500.7M1354.1 203.5H1355.4M1358.2 203.5H1359.7M1368.5 203.5H1369.3M1379.2 203.5H1381.2M1383.2 203.5H1384.5M1401.1 203.5H1403.6M1404.6 203.5H1406.1M1407.6 203.5H1408.6M1411.6 203.5H1413.1M1413.9 203.5H1415.7M1421.7 203.5H1428M1433.8 203.5H1435.1M1450.4 203.5H1452.4M1455.2 203.5H1459.2M1460.2 203.5H1461M1467.3 203.5H1469.3M1470.3 203.5H1471.3M1474.1 203.5H1475.1M1481.4 203.5H1482.4M1488.4 203.5H1489.9M1498 203.5H1500.7M1313.4 224.8H1314.7M1320.2 224.8H1321.2M1322.2 224.8H1327.2M1336.8 224.8H1337.8M1339.3 224.8H1340.3M1350.1 224.8H1351.6M1371.3 224.8H1372.3M1377.7 224.8H1379.2M1385.5 224.8H1386.5M1388 224.8H1388.8M1393.8 224.8H1397.1M1403.6 224.8H1407.6M1408.6 224.8H1413.9M1418.2 224.8H1426M1428 224.8H1429.3M1431.8 224.8H1433.8M1453.2 224.8H1454.2M1456.2 224.8H1457.7M1467.3 224.8H1469.3M1474.1 224.8H1476.1M1482.4 224.8H1484.4M1487.4 224.8H1488.4M1492.7 224.8H1493.7M1319.2 246.1H1321.2M1327.2 246.1H1328.2M1346.4 246.1H1347.2M1393.8 246.1H1394.6M1404.6 246.1H1407.6M1408.6 246.1H1410.6M1413.1 246.1H1413.9M1417.2 246.1H1418.2M1421.7 246.1H1426M1428 246.1H1429.3M1431.8 246.1H1433.8M1453.2 246.1H1454.2M1455.2 246.1H1456.2M1476.9 246.1H1477.9M1485.4 246.1H1487.4M1488.4 246.1H1489.9M1491.2 246.1H1492.7M1497 246.1H1498M1311.4 267.4H1312.4M1327.2 267.4H1328.2M1329 267.4H1332.8M1336.8 267.4H1339.3M1342.3 267.4H1343.9M1350.1 267.4H1351.6M1359.7 267.4H1361.2M1363.2 267.4H1365.2M1366.5 267.4H1367.5M1371.3 267.4H1372.3M1384.5 267.4H1385.5M1386.5 267.4H1388M1398.6 267.4H1401.1M1403.6 267.4H1407.6M1409.6 267.4H1410.6M1413.9 267.4H1417.2M1419.2 267.4H1421.7M1431.8 267.4H1437.6M1441.9 267.4H1443.4M1445.4 267.4H1447.9M1450.4 267.4H1452.4M1461 267.4H1463.5M1466.3 267.4H1467.3M1474.1 267.4H1475.1M1476.9 267.4H1479.4M1481.4 267.4H1484.4M1487.4 267.4H1488.4M1306.9 288.7H1308.9M1317.2 288.7H1319.2M1325.7 288.7H1328.2M1344.9 288.7H1347.2M1359.7 288.7H1361.2M1363.2 288.7H1365.2M1373.1 288.7H1375.1M1384.5 288.7H1385.5M1397.1 288.7H1398.6M1403.6 288.7H1406.1M1408.6 288.7H1410.6M1413.1 288.7H1414.7M1419.2 288.7H1421.7M1423.5 288.7H1426M1428 288.7H1429.3M1431.8 288.7H1433.8M1435.1 288.7H1437.6M1439.1 288.7H1440.6M1441.9 288.7H1443.4M1465.5 288.7H1466.3M1477.9 288.7H1479.4M1482.4 288.7H1485.4M1491.2 288.7H1492.7M1312.4 310H1313.4M1314.7 310H1317.2M1321.2 310H1322.2M1324.7 310H1327.2M1336.8 310H1337.8M1339.3 310H1340.3M1342.3 310H1343.1M1348.5 310H1349.3M1355.4 310H1356.9M1358.2 310H1359.7M1361.2 310H1365.2M1371.3 310H1372.3M1379.2 310H1381.2M1383.2 310H1384.5M1385.5 310H1386.5M1394.6 310H1397.1M1401.1 310H1403.6M1406.1 310H1408.6M1409.6 310H1410.6M1413.1 310H1415.7M1417.2 310H1426M1428 310H1429.3M1431.8 310H1433.8M1454.2 310H1455.2M1459.2 310H1460.2M1461 310H1463.5M1465.5 310H1466.3M1471.3 310H1472.6M1477.9 310H1479.4M1484.4 310H1485.4M1487.4 310H1488.4M1489.9 310H1491.2M1496.2 310H1497M1306.9 331.3H1311.4M1314.7 331.3H1319.2M1330.3 331.3H1332.8M1339.3 331.3H1340.3M1347.2 331.3H1348.5M1351.6 331.3H1352.6M1371.3 331.3H1372.3M1375.1 331.3H1376.4M1393.8 331.3H1394.6M1401.1 331.3H1403.6M1404.6 331.3H1406.1M1407.6 331.3H1408.6M1409.6 331.3H1410.6M1413.9 331.3H1415.7M1418.2 331.3H1419.2M1421.7 331.3H1426M1428 331.3H1429.3M1431.8 331.3H1433.8M1435.1 331.3H1437.6M1439.1 331.3H1440.6M1443.4 331.3H1444.4M1457.7 331.3H1459.2M1482.4 331.3H1484.4M1487.4 331.3H1488.4M1311.4 352.6H1312.4M1321.2 352.6H1322.2M1325.7 352.6H1327.2M1328.2 352.6H1329M1337.8 352.6H1339.3M1342.3 352.6H1343.1M1365.2 352.6H1366.5M1367.5 352.6H1368.5M1371.3 352.6H1372.3M1383.2 352.6H1384.5M1392.8 352.6H1393.8M1401.1 352.6H1404.6M1410.6 352.6H1413.9M1414.7 352.6H1417.2M1418.2 352.6H1421.7M1422.5 352.6H1423.5M1428 352.6H1433.8M1439.1 352.6H1440.6M1447.9 352.6H1450.4M1454.2 352.6H1456.2M1457.7 352.6H1461M1471.3 352.6H1474.1M1476.9 352.6H1477.9M1481.4 352.6H1482.4M1484.4 352.6H1485.4M1489.9 352.6H1491.2M1493.7 352.6H1497M1500 352.6H1500.7M1311.4 373.9H1312.4M1324.7 373.9H1325.7M1335.3 373.9H1336.8M1337.8 373.9H1339.3M1344.9 373.9H1347.2M1351.6 373.9H1352.6M1355.4 373.9H1356.9M1367.5 373.9H1368.5M1372.3 373.9H1373.1M1374.1 373.9H1375.1M1381.2 373.9H1383.2M1386.5 373.9H1388M1388.8 373.9H1390.3M1391.3 373.9H1393.8M1403.6 373.9H1406.1M1408.6 373.9H1409.6M1410.6 373.9H1413.9M1414.7 373.9H1418.2M1421.7 373.9H1423.5M1428 373.9H1429.3M1435.1 373.9H1437.6M1439.1 373.9H1440.6M1441.9 373.9H1443.4M1445.4 373.9H1447.9M1453.2 373.9H1455.2M1457.7 373.9H1460.2M1461 373.9H1463.5M1467.3 373.9H1469.3M1476.1 373.9H1476.9M1481.4 373.9H1484.4M1489.9 373.9H1491.2M1498 373.9H1500M1531.8 97H1533.1M1542.3 97H1543.6M1593.3 97H1594.3M1534.1 118.3H1535.7M1542.3 118.3H1543.6M1544.6 118.3H1546.6M1585.5 118.3H1587.3M1592.3 118.3H1593.3M1512.1 139.6H1513.1M1516.2 139.6H1519.2M1525.7 139.6H1527M1530.8 139.6H1531.8M1533.1 139.6H1534.1M1542.3 139.6H1543.6M1553.6 139.6H1554.6M1555.6 139.6H1556.9M1557.7 139.6H1559M1561.5 139.6H1564M1568.5 139.6H1569.3M1570.8 139.6H1572.1M1585.5 139.6H1586.5M1589.8 139.6H1591.3M1607.7 139.6H1608.5M1525.7 160.9H1527M1528 160.9H1530.8M1546.6 160.9H1549.1M1550.1 160.9H1552.6M1564 160.9H1566M1568.5 160.9H1572.1M1575.4 160.9H1576.2M1583 160.9H1584.5M1605.2 160.9H1607.7M1516.2 182.2H1517.2M1519.2 182.2H1521.7M1525.7 182.2H1527M1531.8 182.2H1534.1M1538.5 182.2H1541M1549.1 182.2H1552.6M1554.6 182.2H1555.6M1594.3 182.2H1596.3M1597.1 182.2H1598.6M1533.1 203.5H1534.1M1537 203.5H1538.5M1541 203.5H1542.3M1555.6 203.5H1556.9M1557.7 203.5H1559M1570.8 203.5H1572.1M1594.3 203.5H1596.3M1597.1 203.5H1598.6M1513.1 224.8H1514.4M1527 224.8H1528M1529.3 224.8H1530.8M1534.9 224.8H1535.7M1544.6 224.8H1546.6M1553.6 224.8H1554.6M1555.6 224.8H1556.9M1561.5 224.8H1564M1570.8 224.8H1572.9M1581.5 224.8H1584.5M1587.3 224.8H1589.8M1591.3 224.8H1592.3M1597.1 224.8H1598.6M1602.4 224.8H1603.2M1528 246.1H1530.8M1533.1 246.1H1534.1M1535.7 246.1H1541M1543.6 246.1H1546.6M1578.7 246.1H1580.7M1583 246.1H1584.5M1586.5 246.1H1587.3M1594.3 246.1H1596.3M1529.3 267.4H1531.8M1537 267.4H1538.5M1543.6 267.4H1544.6M1546.6 267.4H1548.1M1554.6 267.4H1555.6M1566 267.4H1568.5M1569.3 267.4H1570.8M1572.9 267.4H1576.2M1578.7 267.4H1580.7M1591.3 267.4H1592.3M1601.6 267.4H1602.4M1603.2 267.4H1605.2M1510.8 288.7H1512.1M1524.2 288.7H1525.7M1528 288.7H1529.3M1530.8 288.7H1531.8M1538.5 288.7H1543.6M1548.1 288.7H1549.1M1578.7 288.7H1580.7M1586.5 288.7H1587.3M1601.6 288.7H1602.4M1605.2 288.7H1607.7M1512.1 310H1513.1M1521.7 310H1522.7M1529.3 310H1530.8M1533.1 310H1534.1M1537 310H1538.5M1544.6 310H1548.1M1549.1 310H1550.1M1552.6 310H1553.6M1564 310H1568.5M1572.1 310H1572.9M1581.5 310H1583M1585.5 310H1586.5M1589.8 310H1591.3M1600.6 310H1602.4M1603.2 310H1607.7M1529.3 331.3H1530.8M1531.8 331.3H1533.1M1552.6 331.3H1553.6M1559 331.3H1561.5M1587.3 331.3H1589.8M1597.1 331.3H1598.6M1600.6 331.3H1601.6M1603.2 331.3H1607.7M1513.1 352.6H1514.4M1516.2 352.6H1517.2M1527 352.6H1530.8M1576.2 352.6H1578.7M1586.5 352.6H1587.3M1593.3 352.6H1594.3M1601.6 352.6H1603.2M1607.7 352.6H1608.5M1564 373.9H1566M1583 373.9H1584.5M1593.3 373.9H1594.3M1601.6 373.9H1602.4M1639.1 97H1643.6M1645.9 97H1646.9M1656.6 97H1659.4M1677 97H1678M1689.3 97H1690.6M1635.8 118.3H1636.8M1644.6 118.3H1645.9M1646.9 118.3H1649.4M1658.1 118.3H1659.4M1664.9 118.3H1665.7M1673.5 118.3H1675.5M1678 118.3H1680M1703.3 118.3H1704.6M1708.1 118.3H1709.6M1618.7 139.6H1621.2M1623.7 139.6H1625.7M1633 139.6H1634M1635.8 139.6H1638.1M1645.9 139.6H1646.9M1650.4 139.6H1654M1660.9 139.6H1661.9M1663.9 139.6H1664.9M1670.7 139.6H1671.5M1689.3 139.6H1690.6M1700.8 139.6H1703.3M1708.1 139.6H1709.6M1711.1 139.6H1712.1M1718.7 139.6H1719.7M1726.8 139.6H1727.8M1616.7 160.9H1621.2M1623.7 160.9H1625.7M1627 160.9H1630M1646.9 160.9H1649.4M1650.4 160.9H1652.7M1654 160.9H1655M1655.8 160.9H1656.6M1659.4 160.9H1661.9M1663.9 160.9H1665.7M1675.5 160.9H1677M1685.8 160.9H1688.3M1689.3 160.9H1690.6M1692.9 160.9H1694.7M1700.8 160.9H1703.3M1618.7 182.2H1621.2M1622.2 182.2H1625.7M1628.5 182.2H1633M1641.1 182.2H1643.6M1649.4 182.2H1650.4M1663.9 182.2H1664.9M1670.7 182.2H1671.5M1727.8 182.2H1728.8M1734.6 182.2H1735.6M1627 203.5H1628.5M1652.7 203.5H1654M1661.9 203.5H1663.9M1723 203.5H1724.5M1726.8 203.5H1727.8M1734.6 203.5H1735.6M1671.5 224.8H1673.5M1681.8 224.8H1682.8M1685.8 224.8H1688.3M1695.7 224.8H1697M1675.5 246.1H1678M1681 246.1H1681.8M1682.8 246.1H1684.8M1692.9 246.1H1693.9M1698.3 246.1H1699.8M1636.8 267.4H1638.1M1645.9 267.4H1649.4M1652.7 267.4H1655M1655.8 267.4H1660.9M1666.7 267.4H1668.7M1677 267.4H1680M1681.8 267.4H1684.8M1690.6 267.4H1692.9M1693.9 267.4H1694.7M1699.8 267.4H1703.3M1712.1 267.4H1713.4M1718.7 267.4H1719.7M1727.8 267.4H1728.8M1729.8 267.4H1731.8M1735.6 267.4H1737.1M1737.9 267.4H1738.9M1625.7 288.7H1627M1630 288.7H1633M1639.1 288.7H1643.6M1651.2 288.7H1652.7M1656.6 288.7H1658.1M1659.4 288.7H1661.9M1666.7 288.7H1668.7M1670.7 288.7H1671.5M1690.6 288.7H1691.6M1699.8 288.7H1703.3M1716.2 288.7H1718.7M1723 288.7H1724.5M1625.7 310H1628.5M1635.8 310H1636.8M1645.9 310H1650.4M1668.7 310H1671.5M1678 310H1680M1681.8 310H1685.8M1689.3 310H1691.6M1692.9 310H1693.9M1714.2 310H1718.7M1726.8 310H1727.8M1737.1 310H1737.9M1618.7 331.3H1621.2M1631 331.3H1634M1634.8 331.3H1635.8M1643.6 331.3H1644.6M1645.9 331.3H1646.9M1650.4 331.3H1651.2M1652.7 331.3H1655M1656.6 331.3H1658.1M1668.7 331.3H1670.7M1675.5 331.3H1678M1680 331.3H1681.8M1682.8 331.3H1685.8M1689.3 331.3H1691.6M1693.9 331.3H1694.7M1695.7 331.3H1697M1704.6 331.3H1705.6M1712.1 331.3H1713.4M1714.2 331.3H1716.2M1718.7 331.3H1719.7M1725.5 331.3H1726.8M1728.8 331.3H1731.8M1618.7 352.6H1621.2M1627 352.6H1628.5M1633 352.6H1634M1634.8 352.6H1635.8M1636.8 352.6H1641.1M1677 352.6H1678M1682.8 352.6H1684.8M1689.3 352.6H1691.6M1692.9 352.6H1693.9M1703.3 352.6H1705.6M1709.6 352.6H1711.1M1713.4 352.6H1714.2M1720.7 352.6H1721.5M1723 352.6H1724.5M1727.8 352.6H1728.8M1616.7 373.9H1618.7M1627 373.9H1630M1634.8 373.9H1635.8M1636.8 373.9H1639.1M1645.9 373.9H1649.4M1651.2 373.9H1652.7M1654 373.9H1655M1655.8 373.9H1656.6M1658.1 373.9H1659.4M1664.9 373.9H1666.7M1670.7 373.9H1673.5M1678 373.9H1680M1689.3 373.9H1690.6M1691.6 373.9H1692.9M1707.1 373.9H1708.1M1718.7 373.9H1719.7"/>
<path stroke="#92c5de" d="M1063.7 97H1064.7M1083.3 97H1084.3M1086.8 97H1089.6M1095.1 97H1097.6M1102.1 97H1103.4M1060.9 118.3H1062.4M1080.8 118.3H1081.8M1095.1 118.3H1097.6M1102.1 118.3H1103.4M1107.7 118.3H1111.5M1011.7 139.6H1013.2M1014 139.6H1015M1027.6 139.6H1028.6M1029.4 139.6H1031.4M1033.2 139.6H1034M1035 139.6H1036.3M1047.1 139.6H1048.1M1055.9 139.6H1058.4M1062.4 139.6H1063.7M1100.1 139.6H1102.1M1009.7 160.9H1010.7M1011.7 160.9H1013.2M1025.8 160.9H1026.6M1029.4 160.9H1031.4M1035 160.9H1036.3M1038.3 160.9H1039.3M1048.1 160.9H1048.9M1055.9 160.9H1058.4M1060.9 160.9H1062.4M1064.7 160.9H1065.7M1008.9 182.2H1009.7M1010.7 182.2H1011.7M1020.8 182.2H1021.8M1025.8 182.2H1026.6M1029.4 182.2H1031.4M1035 182.2H1036.3M1048.9 182.2H1049.9M1052.4 182.2H1054.4M1065.7 182.2H1066.7M1067.7 182.2H1069M1078.8 182.2H1080.8M1090.6 182.2H1092.1M1095.1 182.2H1097.6M1102.1 182.2H1103.4M1006.9 203.5H1008.9M1016.8 203.5H1018.8M1029.4 203.5H1031.4M1032.2 203.5H1033.2M1035 203.5H1036.3M1042.6 203.5H1043.6M1047.1 203.5H1048.1M1052.4 203.5H1054.4M1055.9 203.5H1058.4M1060.9 203.5H1062.4M1065.7 203.5H1066.7M1090.6 203.5H1092.1M1105.9 203.5H1106.9M1112.8 203.5H1113.3M1008.9 224.8H1009.7M1011.7 224.8H1013.2M1016.8 224.8H1018.8M1031.4 224.8H1032.2M1039.3 224.8H1040.3M1041.6 224.8H1042.6M1048.9 224.8H1049.9M1064.7 224.8H1065.7M1075.5 224.8H1076.8M1090.6 224.8H1092.1M1093.6 224.8H1095.1M1106.9 224.8H1107.7M1008.9 246.1H1009.7M1011.7 246.1H1013.2M1016.8 246.1H1021.8M1032.2 246.1H1033.2M1042.6 246.1H1044.6M1076.8 246.1H1077.8M1078.8 246.1H1080.8M1088.8 246.1H1089.6M1106.9 246.1H1107.7M1008.9 267.4H1010.7M1039.3 267.4H1040.3M1047.1 267.4H1048.1M1081.8 267.4H1083.3M1109 267.4H1111.5M1005.9 288.7H1006.9M1010.7 288.7H1013.2M1022.8 288.7H1023.8M1026.6 288.7H1027.6M1036.3 288.7H1038.3M1047.1 288.7H1048.1M1054.4 288.7H1058.4M1060.9 288.7H1062.4M1069 288.7H1071.5M1073 288.7H1075.5M1088.8 288.7H1089.6M1092.1 288.7H1093.6M1107.7 288.7H1109M1044.6 352.6H1046.1M1058.4 352.6H1060.9M1038.3 373.9H1039.3M1058.4 373.9H1060.9M1198.1 97H1200.9M1215.9 97H1217.7M1221.2 97H1222.2M1225.7 97H1229M1188.3 118.3H1189.1M1192.1 118.3H1193.6M1204.4 118.3H1205.9M1214.4 118.3H1215.9M1216.9 118.3H1217.7M1221.2 118.3H1222.2M1224.7 118.3H1225.7M1229 118.3H1231M1131 182.2H1133M1142.8 182.2H1144.1M1146.4 182.2H1147.2M1148 182.2H1149.3M1157.9 182.2H1159.2M1168.2 182.2H1169.5M1178.5 182.2H1179.5M1188.3 182.2H1189.1M1190.1 182.2H1191.1M1204.4 182.2H1208.4M1215.9 182.2H1217.7M1218.7 182.2H1221.2M1129 203.5H1130M1142.8 203.5H1144.1M1157.9 203.5H1159.2M1178.5 203.5H1179.5M1183 203.5H1184M1188.3 203.5H1189.1M1190.1 203.5H1191.1M1207.4 203.5H1208.4M1218.7 203.5H1221.2M1231 203.5H1232M1121.2 224.8H1122.2M1127.5 224.8H1129M1142.8 224.8H1145.6M1147.2 224.8H1148M1151.8 224.8H1156.1M1159.2 224.8H1161.7M1172.5 224.8H1174M1201.9 224.8H1204.4M1208.4 224.8H1210.9M1217.7 224.8H1218.7M1221.2 224.8H1222.2M1126.2 246.1H1127.5M1133 246.1H1134M1137.5 246.1H1139M1142 246.1H1144.1M1147.2 246.1H1148M1153.6 246.1H1154.6M1156.1 246.1H1156.9M1169.5 246.1H1172.5M1174 246.1H1176.5M1183 246.1H1184.8M1189.1 246.1H1190.1M1201.9 246.1H1205.9M1232 246.1H1232.6M1121.2 267.4H1122.2M1142 267.4H1142.8M1157.9 267.4H1159.2M1221.2 267.4H1222.2M1133 288.7H1134M1136.5 288.7H1137.5M1148 288.7H1149.3M1151.8 288.7H1152.6M1154.6 288.7H1156.1M1221.2 288.7H1222.2M1166.7 310H1168.2M1201.9 310H1205.9M1214.4 310H1215.9M1122.2 331.3H1124.2M1162.7 331.3H1165.2M1179.5 331.3H1182M1213.4 331.3H1214.4M1227 331.3H1229M1166.7 352.6H1168.2M1172.5 352.6H1174M1179.5 352.6H1184M1200.9 352.6H1201.9M1217.7 352.6H1221.2M1165.2 373.9H1166.7M1183 373.9H1184M1218.7 373.9H1221.2M1240.3 97H1242.3M1247.1 97H1250.4M1251.9 97H1255.4M1265.6 97H1266.9M1267.7 97H1269.7M1272.7 97H1274.7M1280 97H1281.5M1282.5 97H1285M1285.8 97H1287.3M1242.3 118.3H1244.8M1246.1 118.3H1247.1M1251.9 118.3H1255.4M1257.5 118.3H1258.5M1263.3 118.3H1264.6M1269.7 118.3H1271.7M1277.2 118.3H1280M1285.8 118.3H1287.3M1289.3 118.3H1290.1M1262.3 139.6H1263.3M1264.6 139.6H1265.6M1280 139.6H1281.5M1250.4 160.9H1251.9M1277.2 160.9H1278.7M1280 160.9H1281.5M1259.5 182.2H1260.3M1263.3 182.2H1265.6M1278.7 182.2H1280M1291.1 182.2H1292.4M1294.7 182.2H1295.5M1259.5 203.5H1260.3M1291.1 203.5H1292.4M1294.7 203.5H1295.5M1267.7 224.8H1269.7M1294.7 224.8H1295.5M1274.7 246.1H1277.2M1285 246.1H1285.8M1260.3 310H1262.3M1244.8 331.3H1246.1M1287.3 331.3H1288.3M1244.8 352.6H1247.1M1249.6 352.6H1250.4M1254.4 352.6H1255.4M1269.7 352.6H1271.7M1282.5 352.6H1285.8M1239.3 373.9H1240.3M1244.8 373.9H1247.1M1249.6 373.9H1250.4M1251.9 373.9H1254.4M1263.3 373.9H1264.6M1266.9 373.9H1267.7M1282.5 373.9H1285M1308.9 139.6H1311.4M1320.2 139.6H1321.2M1328.2 139.6H1329M1332.8 139.6H1335.3M1337.8 139.6H1342.3M1343.1 139.6H1343.9M1349.3 139.6H1355.4M1356.9 139.6H1358.2M1363.2 139.6H1365.2M1377.7 139.6H1381.2M1391.3 139.6H1393.8M1476.1 139.6H1476.9M1312.4 160.9H1313.4M1314.7 160.9H1317.2M1325.7 160.9H1327.2M1337.8 160.9H1339.3M1340.3 160.9H1342.3M1343.9 160.9H1344.9M1347.2 160.9H1349.3M1350.1 160.9H1352.6M1358.2 160.9H1359.7M1361.2 160.9H1363.2M1367.5 160.9H1368.5M1384.5 160.9H1385.5M1386.5 160.9H1390.3M1391.3 160.9H1393.8M1476.1 160.9H1476.9M1482.4 160.9H1485.4M1356.9 182.2H1358.2M1361.2 182.2H1363.2M1371.3 182.2H1372.3M1393.8 182.2H1394.6M1356.9 203.5H1358.2M1361.2 203.5H1363.2M1371.3 203.5H1372.3M1445.4 203.5H1447.9M1459.2 203.5H1460.2M1492.7 203.5H1493.7M1497 203.5H1498M1312.4 224.8H1313.4M1317.2 224.8H1319.2M1343.9 224.8H1346.4M1386.5 224.8H1388M1398.6 224.8H1401.1M1440.6 224.8H1441.9M1444.4 224.8H1445.4M1465.5 224.8H1466.3M1472.6 224.8H1474.1M1488.4 224.8H1489.9M1311.4 246.1H1312.4M1314.7 246.1H1319.2M1324.7 246.1H1327.2M1332.8 246.1H1333.8M1343.1 246.1H1343.9M1348.5 246.1H1349.3M1352.6 246.1H1355.4M1437.6 246.1H1439.1M1469.3 246.1H1471.3M1475.1 246.1H1476.1M1314.7 267.4H1317.2M1376.4 267.4H1377.7M1485.4 267.4H1487.4M1489.9 267.4H1491.2M1498 267.4H1500M1324.7 288.7H1325.7M1330.3 288.7H1332.8M1383.2 288.7H1384.5M1392.8 288.7H1393.8M1445.4 288.7H1447.9M1497 288.7H1498M1319.2 310H1320.2M1328.2 310H1329M1335.3 310H1336.8M1343.9 310H1344.9M1365.2 310H1367.5M1381.2 310H1383.2M1443.4 310H1444.4M1460.2 310H1461M1470.3 310H1471.3M1479.4 310H1482.4M1319.2 331.3H1320.2M1342.3 331.3H1343.1M1350.1 331.3H1351.6M1363.2 331.3H1366.5M1367.5 331.3H1368.5M1373.1 331.3H1374.1M1381.2 331.3H1383.2M1388.8 331.3H1390.3M1391.3 331.3H1392.8M1444.4 331.3H1445.4M1447.9 331.3H1450.4M1472.6 331.3H1474.1M1492.7 331.3H1493.7M1346.4 352.6H1347.2M1348.5 352.6H1349.3M1352.6 352.6H1355.4M1359.7 352.6H1365.2M1373.1 352.6H1374.1M1376.4 352.6H1377.7M1381.2 352.6H1383.2M1444.4 352.6H1445.4M1456.2 352.6H1457.7M1469.3 352.6H1470.3M1327.2 373.9H1328.2M1359.7 373.9H1361.2M1365.2 373.9H1366.5M1373.1 373.9H1374.1M1376.4 373.9H1377.7M1398.6 373.9H1401.1M1444.4 373.9H1445.4M1447.9 373.9H1450.4M1456.2 373.9H1457.7M1492.7 373.9H1493.7M1514.4 97H1515.4M1528 97H1529.3M1533.1 97H1534.1M1537 97H1541M1544.6 97H1546.6M1553.6 97H1554.6M1564 97H1566M1589.8 97H1591.3M1600.6 97H1602.4M1513.1 118.3H1514.4M1517.2 118.3H1519.2M1528 118.3H1530.8M1531.8 118.3H1534.1M1535.7 118.3H1537M1543.6 118.3H1544.6M1553.6 118.3H1554.6M1556.9 118.3H1557.7M1605.2 118.3H1607.7M1514.4 139.6H1515.4M1548.1 139.6H1549.1M1569.3 139.6H1570.8M1581.5 139.6H1583M1527 160.9H1528M1549.1 160.9H1550.1M1586.5 160.9H1587.3M1510.8 182.2H1512.1M1561.5 182.2H1564M1531.8 203.5H1533.1M1534.9 203.5H1535.7M1543.6 203.5H1546.6M1550.1 203.5H1552.6M1601.6 224.8H1602.4M1515.4 246.1H1516.2M1568.5 246.1H1569.3M1572.1 246.1H1572.9M1580.7 246.1H1581.5M1584.5 246.1H1585.5M1592.3 246.1H1594.3M1601.6 246.1H1602.4M1607.7 246.1H1608.5M1557.7 267.4H1559M1564 267.4H1566M1592.3 267.4H1593.3M1515.4 288.7H1516.2M1521.7 288.7H1522.7M1552.6 288.7H1554.6M1556.9 288.7H1559M1564 288.7H1568.5M1570.8 288.7H1572.1M1581.5 288.7H1583M1598.6 288.7H1600.6M1602.4 288.7H1603.2M1542.3 310H1543.6M1557.7 310H1559M1572.9 310H1575.4M1591.3 310H1592.3M1602.4 310H1603.2M1530.8 331.3H1531.8M1572.9 331.3H1575.4M1578.7 331.3H1580.7M1586.5 331.3H1587.3M1602.4 331.3H1603.2M1568.5 352.6H1569.3M1580.7 352.6H1581.5M1568.5 373.9H1570.8M1581.5 373.9H1583M1605.2 373.9H1607.7M1616.7 97H1618.7M1633 97H1634M1634.8 97H1635.8M1636.8 97H1638.1M1664.9 97H1665.7M1680 97H1681M1681.8 97H1682.8M1684.8 97H1685.8M1692.9 97H1694.7M1698.3 97H1700.8M1704.6 97H1705.6M1713.4 97H1714.2M1723 97H1725.5M1727.8 97H1728.8M1621.2 118.3H1622.2M1631 118.3H1634M1645.9 118.3H1646.9M1649.4 118.3H1651.2M1655 118.3H1655.8M1666.7 118.3H1668.7M1675.5 118.3H1677M1681 118.3H1681.8M1693.9 118.3H1695.7M1699.8 118.3H1700.8M1711.1 118.3H1712.1M1713.4 118.3H1714.2M1726.8 118.3H1727.8M1631 139.6H1633M1634.8 139.6H1635.8M1639.1 139.6H1641.1M1661.9 139.6H1663.9M1665.7 139.6H1666.7M1680 139.6H1681M1681.8 139.6H1682.8M1691.6 139.6H1692.9M1709.6 139.6H1711.1M1712.1 139.6H1713.4M1724.5 139.6H1725.5M1727.8 139.6H1728.8M1733.8 139.6H1735.6M1644.6 160.9H1645.9M1661.9 160.9H1663.9M1665.7 160.9H1666.7M1671.5 160.9H1675.5M1677 160.9H1678M1682.8 160.9H1684.8M1697 160.9H1698.3M1705.6 160.9H1707.1M1713.4 160.9H1716.2M1718.7 160.9H1719.7M1720.7 160.9H1724.5M1725.5 160.9H1726.8M1737.1 160.9H1737.9M1616.7 203.5H1618.7M1634 203.5H1635.8M1655 203.5H1655.8M1631 267.4H1633M1634 267.4H1636.8M1643.6 267.4H1645.9M1663.9 267.4H1664.9M1689.3 267.4H1690.6M1713.4 267.4H1714.2M1644.6 288.7H1645.9M1658.1 288.7H1659.4M1668.7 288.7H1670.7M1713.4 288.7H1714.2M1737.9 288.7H1738.9M1616.7 310H1618.7M1636.8 310H1638.1M1661.9 310H1663.9M1681 310H1681.8M1697 310H1698.3M1711.1 310H1712.1M1616.7 331.3H1618.7M1630 331.3H1631M1685.8 331.3H1688.3M1697 331.3H1698.3M1737.1 331.3H1737.9M1650.4 352.6H1651.2M1668.7 352.6H1670.7M1685.8 352.6H1688.3M1708.1 352.6H1709.6M1623.7 373.9H1625.7M1656.6 373.9H1658.1M1661.9 373.9H1663.9M1668.7 373.9H1670.7M1675.5 373.9H1677M1681.8 373.9H1682.8M1685.8 373.9H1688.3M1690.6 373.9H1691.6"/>
<path stroke="#539dc8" d="M1089.6 97H1090.6M1103.4 97H1105.9M1106.9 97H1107.7M1103.4 118.3H1105.9M1106.9 118.3H1107.7M1111.5 118.3H1112.8M1013.2 182.2H1014M1021.8 182.2H1022.8M1040.3 182.2H1042.6M1044.6 182.2H1046.1M1015.8 203.5H1016.8M1031.4 203.5H1032.2M1040.3 203.5H1041.6M1049.9 203.5H1052.4M1023.8 224.8H1025.8M1033.2 224.8H1034M1042.6 224.8H1043.6M1101.1 224.8H1102.1M1014 246.1H1015M1015.8 246.1H1016.8M1023.8 246.1H1025.8M1033.2 246.1H1034M1008.9 288.7H1009.7M1016.8 288.7H1018.8M1031.4 288.7H1032.2M1210.9 97H1211.9M1218.7 97H1221.2M1176.5 373.9H1178.5M1250.4 97H1251.9M1288.3 97H1289.3M1292.4 97H1293.4M1295.5 97H1296.8M1239.3 118.3H1240.3M1250.4 118.3H1251.9M1259.5 118.3H1260.3M1287.3 118.3H1288.3M1292.4 118.3H1293.4M1295.5 118.3H1296.8M1327.2 139.6H1328.2M1347.2 139.6H1348.5M1355.4 139.6H1356.9M1385.5 139.6H1386.5M1317.2 160.9H1319.2M1335.3 160.9H1336.8M1355.4 160.9H1356.9M1374.1 160.9H1375.1M1379.2 160.9H1381.2M1385.5 160.9H1386.5M1510.8 97H1512.1M1519.2 97H1521.7M1524.2 97H1525.7M1596.3 97H1597.1M1522.7 118.3H1524.2M1525.7 118.3H1528M1594.3 118.3H1596.3M1598.6 118.3H1600.6M1530.8 203.5H1531.8M1627 97H1630M1631 97H1633M1665.7 97H1666.7M1690.6 97H1691.6M1707.1 97H1708.1M1712.1 97H1713.4M1714.2 97H1716.2M1729.8 97H1733.8M1630 118.3H1631M1643.6 118.3H1644.6M1692.9 118.3H1693.9M1704.6 118.3H1705.6M1707.1 118.3H1708.1M1719.7 118.3H1720.7M1723 118.3H1725.5M1728.8 118.3H1729.8M1731.8 118.3H1733.8M1681.8 160.9H1682.8M1688.3 160.9H1689.3M1691.6 160.9H1692.9M1695.7 160.9H1697M1622.2 203.5H1623.7M1638.1 203.5H1639.1"/>
<path stroke="#72b1d3" d="M1090.6 97H1092.1M1105.9 97H1106.9M1111.5 97H1112.8M1081.8 118.3H1084.3M1090.6 118.3H1092.1M1105.9 118.3H1106.9M1009.7 139.6H1010.7M1027.6 160.9H1028.6M1033.2 160.9H1035M1016.8 182.2H1018.8M1028.6 182.2H1029.4M1032.2 182.2H1033.2M1042.6 182.2H1044.6M1049.9 182.2H1052.4M1063.7 182.2H1064.7M1071.5 182.2H1073M1021.8 203.5H1022.8M1025.8 203.5H1026.6M1034 203.5H1035M1043.6 203.5H1047.1M1048.9 203.5H1049.9M1063.7 203.5H1064.7M1067.7 203.5H1069M1071.5 203.5H1073M1080.8 203.5H1081.8M1088.8 203.5H1089.6M1097.6 203.5H1100.1M1109 203.5H1111.5M1010.7 224.8H1011.7M1014 224.8H1015M1015.8 224.8H1016.8M1018.8 224.8H1020.8M1021.8 224.8H1022.8M1046.1 224.8H1047.1M1063.7 224.8H1064.7M1067.7 224.8H1069M1078.8 224.8H1081.8M1105.9 224.8H1106.9M1010.7 246.1H1011.7M1021.8 246.1H1022.8M1031.4 246.1H1032.2M1036.3 246.1H1038.3M1046.1 246.1H1047.1M1004.4 288.7H1005.9M1009.7 288.7H1010.7M1013.2 288.7H1014M1021.8 288.7H1022.8M1039.3 288.7H1040.3M1081.8 288.7H1083.3M1089.6 288.7H1090.6M1191.1 97H1193.6M1205.9 97H1207.4M1208.4 97H1210.9M1200.1 118.3H1200.9M1208.4 118.3H1211.9M1218.7 118.3H1221.2M1225.7 118.3H1227M1146.4 203.5H1147.2M1148 203.5H1149.3M1125.2 224.8H1126.2M1156.1 224.8H1156.9M1189.1 224.8H1190.1M1125.2 246.1H1126.2M1151.8 246.1H1153.6M1159.2 246.1H1161.7M1172.5 246.1H1174M1188.3 246.1H1189.1M1217.7 246.1H1218.7M1144.1 288.7H1145.6M1156.9 288.7H1157.9M1156.1 352.6H1156.9M1157.9 352.6H1159.2M1176.5 352.6H1179.5M1156.1 373.9H1156.9M1157.9 373.9H1159.2M1184 373.9H1184.8M1256.2 97H1257.5M1263.3 97H1265.6M1277.2 97H1278.7M1287.3 97H1288.3M1289.3 97H1291.1M1249.6 118.3H1250.4M1264.6 118.3H1266.9M1282.5 118.3H1285M1290.1 118.3H1291.1M1312.4 139.6H1313.4M1314.7 139.6H1319.2M1329 139.6H1330.3M1335.3 139.6H1336.8M1343.9 139.6H1344.9M1348.5 139.6H1349.3M1358.2 139.6H1359.7M1361.2 139.6H1363.2M1367.5 139.6H1368.5M1369.3 139.6H1371.3M1374.1 139.6H1375.1M1376.4 139.6H1377.7M1384.5 139.6H1385.5M1388 139.6H1388.8M1466.3 139.6H1467.3M1320.2 160.9H1321.2M1329 160.9H1330.3M1333.8 160.9H1335.3M1344.9 160.9H1346.4M1354.1 160.9H1355.4M1363.2 160.9H1365.2M1376.4 160.9H1377.7M1466.3 160.9H1467.3M1471.3 160.9H1472.6M1497 160.9H1498M1447.9 182.2H1450.4M1466.3 182.2H1467.3M1477.9 182.2H1479.4M1444.4 203.5H1445.4M1447.9 203.5H1450.4M1435.1 224.8H1437.6M1466.3 224.8H1467.3M1471.3 224.8H1472.6M1481.4 224.8H1482.4M1484.4 224.8H1485.4M1440.6 246.1H1441.9M1457.7 246.1H1459.2M1466.3 246.1H1467.3M1471.3 246.1H1474.1M1476.1 246.1H1476.9M1484.4 246.1H1485.4M1311.4 288.7H1312.4M1347.2 288.7H1348.5M1354.1 373.9H1355.4M1512.1 97H1513.1M1515.4 97H1516.2M1517.2 97H1519.2M1525.7 97H1527M1529.3 97H1530.8M1535.7 97H1537M1541 97H1542.3M1554.6 97H1555.6M1572.1 97H1576.2M1581.5 97H1583M1597.1 97H1600.6M1510.8 118.3H1513.1M1516.2 118.3H1517.2M1524.2 118.3H1525.7M1538.5 118.3H1542.3M1554.6 118.3H1555.6M1564 118.3H1566M1572.1 118.3H1572.9M1578.7 118.3H1580.7M1581.5 118.3H1583M1584.5 118.3H1585.5M1589.8 118.3H1591.3M1596.3 118.3H1598.6M1601.6 118.3H1602.4M1607.7 118.3H1608.5M1515.4 160.9H1516.2M1531.8 160.9H1533.1M1546.6 203.5H1548.1M1522.7 246.1H1524.2M1530.8 246.1H1531.8M1548.1 246.1H1549.1M1625.7 97H1627M1649.4 97H1650.4M1655.8 97H1656.6M1659.4 97H1661.9M1663.9 97H1664.9M1682.8 97H1684.8M1703.3 97H1704.6M1705.6 97H1707.1M1711.1 97H1712.1M1718.7 97H1720.7M1728.8 97H1729.8M1733.8 97H1734.6M1737.9 97H1738.9M1636.8 118.3H1638.1M1652.7 118.3H1654M1659.4 118.3H1660.9M1661.9 118.3H1664.9M1665.7 118.3H1666.7M1690.6 118.3H1691.6M1697 118.3H1698.3M1712.1 118.3H1713.4M1714.2 118.3H1716.2M1718.7 118.3H1719.7M1727.8 118.3H1728.8M1729.8 118.3H1731.8M1733.8 118.3H1734.6M1737.9 118.3H1738.9M1643.6 139.6H1644.6M1656.6 139.6H1658.1M1681 139.6H1681.8M1695.7 139.6H1697M1698.3 139.6H1699.8M1716.2 139.6H1718.7M1735.6 139.6H1737.1M1681 160.9H1681.8M1698.3 160.9H1699.8M1704.6 160.9H1705.6M1733.8 160.9H1734.6M1735.6 160.9H1737.1M1618.7 203.5H1621.2M1623.7 203.5H1625.7M1636.8 203.5H1638.1M1646.9 203.5H1649.4"/>
<path stroke="#3c8abe" d="M1092.1 97H1093.6M1092.1 118.3H1093.6M1028.6 203.5H1029.4M1285 97H1285.8M1293.4 97H1294.7M1281.5 118.3H1282.5M1288.3 118.3H1289.3M1293.4 118.3H1294.7M1522.7 97H1524.2M1527 97H1528M1515.4 118.3H1516.2M1519.2 118.3H1521.7M1603.2 118.3H1605.2M1622.2 97H1625.7M1737.1 97H1737.9M1623.7 118.3H1627M1628.5 118.3H1630M1737.1 118.3H1737.9M1628.5 203.5H1631M1643.6 203.5H1644.6M1649.4 203.5H1650.4M1668.7 203.5H1670.7"/>
<path stroke="#dc6e58" d="M1011.7 118.3H1013.2M1075.5 310H1078.8M1027.6 331.3H1028.6M1055.9 331.3H1058.4M1066.7 331.3H1067.7M1076.8 331.3H1077.8M1086.8 352.6H1088.8M1109 352.6H1111.5M1086.8 373.9H1089.6M1122.2 139.6H1124.2M1136.5 139.6H1137.5M1147.2 139.6H1149.3M1153.6 139.6H1154.6M1156.1 139.6H1156.9M1161.7 139.6H1162.7M1166.7 139.6H1168.2M1169.5 139.6H1171.5M1188.3 139.6H1189.1M1190.1 139.6H1191.1M1213.4 139.6H1214.4M1221.2 139.6H1227M1231 139.6H1232M1130 160.9H1131M1159.2 160.9H1161.7M1184 160.9H1187.3M1189.1 160.9H1190.1M1204.4 160.9H1205.9M1242.3 267.4H1244.8M1254.4 267.4H1257.5M1263.3 267.4H1265.6M1251.9 288.7H1254.4M1256.2 288.7H1258.5M1262.3 288.7H1264.6M1347.2 97H1348.5M1355.4 97H1356.9M1367.5 97H1368.5M1369.3 97H1371.3M1374.1 97H1376.4M1393.8 97H1394.6M1398.6 97H1401.1M1409.6 97H1410.6M1423.5 97H1426M1431.8 97H1433.8M1440.6 97H1441.9M1463.5 97H1465.5M1466.3 97H1467.3M1500 97H1500.7M1355.4 118.3H1356.9M1371.3 118.3H1372.3M1388 118.3H1388.8M1393.8 118.3H1397.1M1403.6 118.3H1406.1M1415.7 118.3H1417.2M1419.2 118.3H1421.7M1429.3 118.3H1431.8M1435.1 118.3H1437.6M1461 118.3H1463.5M1475.1 118.3H1476.1M1477.9 118.3H1481.4M1487.4 118.3H1488.4M1493.7 118.3H1496.2M1324.7 182.2H1325.7M1339.3 182.2H1340.3M1325.7 203.5H1327.2M1333.8 203.5H1335.3M1343.1 203.5H1343.9M1346.4 203.5H1347.2M1366.5 246.1H1367.5M1373.1 246.1H1374.1M1391.3 246.1H1392.8M1452.4 288.7H1453.2M1460.2 288.7H1461M1575.4 203.5H1576.2M1581.5 203.5H1586.5M1591.3 203.5H1592.3M1534.9 352.6H1535.7M1542.3 352.6H1543.6M1510.8 373.9H1512.1M1514.4 373.9H1515.4M1525.7 373.9H1527M1537 373.9H1538.5M1557.7 373.9H1559M1684.8 182.2H1685.8M1698.3 182.2H1699.8M1703.3 182.2H1704.6M1707.1 182.2H1708.1M1709.6 182.2H1711.1M1684.8 203.5H1685.8M1694.7 203.5H1695.7M1699.8 203.5H1703.3M1707.1 203.5H1708.1M1636.8 224.8H1639.1M1663.9 224.8H1664.9M1622.2 246.1H1623.7M1625.7 246.1H1628.5M1631 246.1H1633M1634.8 246.1H1635.8M1643.6 246.1H1649.4M1658.1 246.1H1659.4M1665.7 246.1H1666.7M1704.6 246.1H1705.6M1708.1 246.1H1709.6M1713.4 246.1H1714.2M1721.5 246.1H1723"/>
<path stroke="#c7413e" d="M1054.4 310H1055.9M1054.4 331.3H1055.9M1064.7 331.3H1065.7M1127.5 139.6H1129M1162.7 139.6H1165.2M1193.6 139.6H1194.6M1197.1 139.6H1198.1M1200.1 139.6H1201.9M1204.4 139.6H1205.9M1208.4 139.6H1210.9M1127.5 160.9H1129M1131 160.9H1133M1246.1 267.4H1247.1M1259.5 267.4H1260.3M1240.3 288.7H1244.8M1246.1 288.7H1247.1M1250.4 288.7H1251.9M1254.4 288.7H1256.2M1260.3 288.7H1262.3M1274.7 288.7H1277.2M1397.1 97H1398.6M1404.6 97H1406.1M1410.6 97H1411.6M1413.9 97H1414.7M1417.2 97H1418.2M1419.2 97H1421.7M1429.3 97H1431.8M1437.6 97H1439.1M1409.6 118.3H1410.6M1414.7 118.3H1415.7M1423.5 118.3H1426M1431.8 118.3H1435.1M1439.1 118.3H1440.6M1463.5 118.3H1465.5M1467.3 118.3H1470.3M1476.9 118.3H1477.9M1488.4 118.3H1489.9M1496.2 118.3H1497M1319.2 203.5H1320.2M1321.2 203.5H1322.2M1328.2 203.5H1330.3M1350.1 203.5H1351.6M1352.6 203.5H1354.1M1454.2 288.7H1456.2M1457.7 288.7H1460.2M1586.5 203.5H1587.3M1589.8 203.5H1591.3M1531.8 373.9H1533.1M1544.6 373.9H1548.1M1697 203.5H1698.3M1618.7 246.1H1621.2M1649.4 246.1H1650.4M1666.7 246.1H1668.7"/>
<path stroke="#bc2d35" d="M1064.7 310H1066.7M1067.7 310H1069M1073 310H1075.5M1060.9 331.3H1063.7M1067.7 331.3H1069M1073 331.3H1075.5M1078.8 331.3H1080.8M1111.5 352.6H1113.3M1159.2 139.6H1161.7M1165.2 139.6H1166.7M1168.2 139.6H1169.5M1207.4 139.6H1208.4M1136.5 160.9H1137.5M1240.3 267.4H1242.3M1262.3 267.4H1263.3M1239.3 288.7H1240.3M1249.6 288.7H1250.4M1269.7 288.7H1274.7M1433.8 97H1435.1M1408.6 118.3H1409.6M1413.9 118.3H1414.7M1421.7 118.3H1422.5M1437.6 118.3H1439.1M1481.4 118.3H1482.4M1485.4 118.3H1487.4M1489.9 118.3H1492.7M1497 118.3H1498M1327.2 203.5H1328.2M1332.8 203.5H1333.8M1344.9 203.5H1346.4M1348.5 203.5H1349.3M1351.6 203.5H1352.6M1576.2 203.5H1578.7M1691.6 203.5H1692.9M1698.3 203.5H1699.8M1709.6 203.5H1711.1M1634 246.1H1634.8M1655.8 246.1H1656.6M1663.9 246.1H1664.9"/>
<path stroke="#b2182b" d="M1198.1 139.6H1200.1M1205.9 139.6H1207.4M1133 160.9H1134M1417.2 118.3H1419.2M1470.3 118.3H1471.3M1500 118.3H1500.7M1337.8 203.5H1339.3M1342.3 203.5H1343.1M1347.2 203.5H1348.5M1580.7 203.5H1581.5"/>
<path stroke="#9f1228" d="M1201.9 139.6H1204.4M1277.2 288.7H1278.7M1466.3 118.3H1467.3M1471.3 118.3H1474.1M1476.1 118.3H1476.9M1322.2 203.5H1325.7M1330.3 203.5H1332.8M1339.3 203.5H1340.3"/>
<path stroke="#2f78b5" d="M1281.5 97H1282.5M1291.1 97H1292.4M1285 118.3H1285.8M1291.1 118.3H1292.4M1603.2 97H1605.2M1630 97H1631M1726.8 97H1727.8M1734.6 97H1737.1M1622.2 118.3H1623.7M1627 118.3H1628.5M1734.6 118.3H1737.1"/>
</g>
<rect x="1001.1" y="85.8" width="113.0" height="298.8" fill="none" stroke="#111" stroke-width="1.5"/>
<path d="M1005.1 86.3L1005.1 79.6L1006.0 81.6L1006.9 81.9L1008.7 81.5L1010.9 81.4L1012.8 79.1L1014.5 79.8L1015.5 78.7L1017.6 80.1L1018.6 82.4L1019.8 77.9L1021.1 81.4L1022.6 82.6L1024.5 78.9L1025.7 82.7L1027.8 78.8L1029.7 81.7L1031.8 79.6L1032.6 77.9L1034.4 81.9L1036.5 79.8L1038.1 82.7L1039.2 78.8L1040.1 81.8L1041.0 79.9L1042.0 78.9L1043.4 78.9L1045.5 77.9L1046.5 81.0L1048.4 81.1L1050.6 81.1L1052.2 81.5L1054.0 81.4L1055.4 79.2L1057.4 82.1L1058.4 81.7L1060.3 79.4L1062.1 78.8L1063.2 80.3L1064.1 81.0L1065.7 81.5L1067.6 81.7L1069.0 79.4L1070.1 79.5L1071.5 82.6L1072.4 79.5L1074.4 79.4L1076.4 79.5L1078.3 78.6L1079.9 80.1L1081.0 81.6L1081.9 82.2L1083.2 81.3L1084.8 78.7L1086.0 78.3L1088.0 81.8L1089.6 81.8L1090.5 81.7L1091.6 82.8L1092.4 78.8L1094.4 78.5L1095.3 82.7L1097.3 80.9L1098.6 79.3L1100.1 81.2L1101.1 82.2L1102.9 78.3L1103.8 81.7L1105.3 81.5L1106.8 80.3L1108.0 82.2L1109.4 78.7L1110.4 80.1L1112.3 79.9L1113.1 86.3Z" fill="#0a0a0a"/>
<path d="M1008.8 81.9V76.3Q1008.8 75.3 1010.3 75.3H1016.5V82.3M1013.1 82.4V77.4Q1013.1 76.4 1014.6 76.4H1021.1V82.3M1019.5 81.7V78.9Q1019.5 77.9 1021.0 77.9H1024.6V81.8M1022.0 82.9V77.6Q1022.0 76.6 1023.5 76.6H1030.9V82.2M1026.6 82.1V76.6Q1026.6 75.6 1028.1 75.6H1031.0V82.1M1032.3 82.3V76.3Q1032.3 75.3 1033.8 75.3H1040.5V82.1M1038.4 82.3V78.7Q1038.4 77.7 1039.9 77.7H1044.0V81.9M1041.7 82.6V78.3Q1041.7 77.3 1043.2 77.3H1049.4V81.9M1044.3 82.7V77.0Q1044.3 76.0 1045.8 76.0H1052.0V82.5M1047.2 82.9V76.8Q1047.2 75.8 1048.7 75.8H1053.2V82.5M1052.3 83.0V79.1Q1052.3 78.1 1053.8 78.1H1056.4V81.3M1055.6 82.7V77.2Q1055.6 76.2 1057.1 76.2H1061.0V83.0M1062.2 81.5V78.6Q1062.2 77.6 1063.7 77.6H1066.9V82.0M1064.8 82.3V77.6Q1064.8 76.6 1066.3 76.6H1073.5V81.4M1071.3 81.7V77.0Q1071.3 76.0 1072.8 76.0H1075.8V81.8M1074.0 82.4V78.4Q1074.0 77.4 1075.5 77.4H1080.2V82.7M1077.1 82.1V77.8Q1077.1 76.8 1078.6 76.8H1080.9V82.2M1081.0 82.8V78.9Q1081.0 77.9 1082.5 77.9H1085.0V82.6M1086.4 81.7V77.8Q1086.4 76.8 1087.9 76.8H1093.3V83.1M1091.1 82.1V78.5Q1091.1 77.5 1092.6 77.5H1096.8V83.3M1095.1 82.5V78.9Q1095.1 77.9 1096.6 77.9H1102.9V81.8M1098.3 82.6V78.1Q1098.3 77.1 1099.8 77.1H1103.1V82.1M1104.6 82.2V76.7Q1104.6 75.7 1106.1 75.7H1108.5V82.9M1108.6 82.6V76.6Q1108.6 75.6 1110.1 75.6H1113.1V82.7M1007.9 80.2V74.6Q1007.9 73.6 1009.4 73.6H1037.1V79.0M1018.1 80.1V74.3Q1018.1 73.3 1019.6 73.3H1045.8V79.2M1029.9 78.6V76.2Q1029.9 75.2 1031.4 75.2H1058.8V78.6M1040.1 79.2V75.7Q1040.1 74.7 1041.6 74.7H1058.5V78.4M1050.9 79.3V76.6Q1050.9 75.6 1052.4 75.6H1071.1V80.1M1066.1 79.3V74.2Q1066.1 73.2 1067.6 73.2H1095.0V78.3M1072.9 79.0V74.3Q1072.9 73.3 1074.4 73.3H1094.4V78.6M1089.5 78.6V75.4Q1089.5 74.4 1091.0 74.4H1110.3V79.4M1007.9 77.0V74.1Q1007.9 73.1 1009.4 73.1H1074.0V75.9M1047.5 76.2V72.3Q1047.5 71.3 1049.0 71.3H1091.2V75.4" fill="none" stroke="#111" stroke-width="0.75"/>
<path d="M1052.0 71.8V69.69999999999999" fill="none" stroke="#222" stroke-width="0.7"/>
<rect x="1120.4" y="85.8" width="113.0" height="298.8" fill="none" stroke="#111" stroke-width="1.5"/>
<path d="M1121.4 86.3L1121.4 82.1L1122.2 82.5L1123.6 80.5L1124.4 82.1L1126.4 80.1L1128.6 80.1L1130.7 79.3L1132.1 82.5L1133.1 78.8L1134.8 81.3L1135.8 79.6L1137.9 81.6L1140.1 80.1L1141.2 81.9L1143.0 78.2L1144.1 81.6L1145.1 81.8L1146.2 80.7L1147.3 79.5L1148.5 81.5L1149.9 82.0L1150.7 82.3L1151.6 79.4L1152.4 80.4L1154.5 79.7L1155.7 80.8L1157.1 81.2L1158.0 82.0L1159.0 81.8L1160.2 82.3L1161.9 81.8L1163.4 79.3L1164.9 79.1L1166.8 80.6L1167.9 82.6L1169.7 81.0L1170.9 82.4L1171.9 78.3L1173.4 78.6L1175.4 81.6L1176.5 78.4L1177.6 79.8L1179.7 80.5L1181.1 78.0L1183.1 78.2L1184.9 81.7L1185.8 82.7L1187.9 80.1L1189.9 78.0L1191.0 77.9L1192.2 81.9L1193.4 77.8L1195.5 81.0L1197.0 78.7L1198.9 78.3L1200.2 81.6L1201.7 78.1L1203.4 78.4L1204.5 80.3L1206.6 79.9L1208.5 78.8L1209.9 79.4L1211.7 80.6L1213.2 78.7L1215.2 77.9L1216.5 79.4L1218.1 78.5L1219.3 80.5L1220.4 78.8L1222.2 82.8L1223.2 82.1L1224.8 78.9L1226.1 82.4L1227.7 79.7L1229.1 81.4L1230.4 81.6L1232.3 80.9L1232.4 86.3Z" fill="#0a0a0a"/>
<path d="M1123.6 82.6V78.5Q1123.6 77.5 1125.1 77.5H1128.0V83.0M1130.2 81.5V78.5Q1130.2 77.5 1131.7 77.5H1134.1V81.7M1134.1 82.5V76.6Q1134.1 75.6 1135.6 75.6H1141.4V81.6M1138.0 82.4V78.5Q1138.0 77.5 1139.5 77.5H1141.9V82.3M1140.9 82.6V76.6Q1140.9 75.6 1142.4 75.6H1145.5V82.5M1144.5 81.3V77.0Q1144.5 76.0 1146.0 76.0H1149.3V82.6M1151.3 81.4V79.2Q1151.3 78.2 1152.8 78.2H1158.1V82.9M1154.2 82.7V77.3Q1154.2 76.3 1155.7 76.3H1159.7V81.9M1159.6 82.1V77.9Q1159.6 76.9 1161.1 76.9H1168.1V82.7M1166.0 82.9V76.5Q1166.0 75.5 1167.5 75.5H1173.1V83.2M1169.2 81.5V78.7Q1169.2 77.7 1170.7 77.7H1176.2V82.0M1175.9 83.2V78.4Q1175.9 77.4 1177.4 77.4H1180.7V83.3M1181.7 81.4V76.8Q1181.7 75.8 1183.2 75.8H1186.8V81.3M1184.0 83.0V78.6Q1184.0 77.6 1185.5 77.6H1189.0V82.2M1190.3 82.0V78.2Q1190.3 77.2 1191.8 77.2H1196.2V81.4M1194.6 83.2V76.4Q1194.6 75.4 1196.1 75.4H1203.3V81.5M1198.8 81.4V78.8Q1198.8 77.8 1200.3 77.8H1206.8V81.7M1201.2 83.3V77.2Q1201.2 76.2 1202.7 76.2H1208.6V81.4M1206.7 81.5V78.8Q1206.7 77.8 1208.2 77.8H1214.5V83.3M1212.7 82.6V78.7Q1212.7 77.7 1214.2 77.7H1216.1V81.6M1216.8 82.3V79.0Q1216.8 78.0 1218.3 78.0H1220.7V82.4M1223.1 81.4V78.2Q1223.1 77.2 1224.6 77.2H1226.1V82.4M1225.9 82.6V76.4Q1225.9 75.4 1227.4 75.4H1230.9V82.6M1122.2 78.5V73.9Q1122.2 72.9 1123.7 72.9H1145.9V80.0M1133.0 80.0V74.8Q1133.0 73.8 1134.5 73.8H1147.0V78.6M1141.8 79.3V76.2Q1141.8 75.2 1143.3 75.2H1161.8V80.3M1148.1 78.6V76.2Q1148.1 75.2 1149.6 75.2H1166.7V79.5M1167.4 79.7V75.1Q1167.4 74.1 1168.9 74.1H1186.8V80.0M1186.9 80.1V76.3Q1186.9 75.3 1188.4 75.3H1203.6V79.5M1205.3 78.5V74.4Q1205.3 73.4 1206.8 73.4H1218.2V78.6M1213.0 79.6V75.6Q1213.0 74.6 1214.5 74.6H1230.2V80.2M1123.7 75.8V73.3Q1123.7 72.3 1125.2 72.3H1170.1V75.3M1157.7 76.7V72.3Q1157.7 71.3 1159.2 71.3H1216.6V76.2M1197.0 77.3V73.7Q1197.0 72.7 1198.5 72.7H1232.4V76.5" fill="none" stroke="#111" stroke-width="0.75"/>
<path d="M1171.2 71.8V69.69999999999999" fill="none" stroke="#222" stroke-width="0.7"/>
<rect x="1238.5" y="85.8" width="61.1" height="298.8" fill="none" stroke="#111" stroke-width="1.5"/>
<path d="M1239.5 86.3L1239.5 80.1L1241.0 81.3L1242.4 80.6L1244.4 78.3L1245.6 80.5L1246.7 78.0L1247.7 80.4L1248.6 80.5L1250.0 82.7L1251.0 80.3L1252.5 81.3L1253.3 81.2L1254.6 82.3L1256.3 81.7L1257.8 79.3L1258.6 80.3L1260.3 78.3L1262.1 78.6L1263.8 81.7L1265.8 79.0L1267.2 78.2L1268.1 78.3L1269.4 80.1L1271.3 82.0L1272.8 82.7L1273.7 78.0L1274.8 80.7L1275.8 78.1L1277.3 78.5L1278.4 80.5L1279.6 79.9L1281.4 79.9L1283.0 81.2L1285.1 82.7L1286.2 79.5L1288.3 78.6L1289.5 78.1L1290.9 79.9L1292.6 79.7L1294.6 78.3L1295.9 78.3L1297.1 79.4L1298.2 79.6L1298.6 86.3Z" fill="#0a0a0a"/>
<path d="M1243.5 83.2V78.1Q1243.5 77.1 1245.0 77.1H1250.5V81.5M1249.2 82.2V79.2Q1249.2 78.2 1250.7 78.2H1256.1V81.5M1256.2 82.4V77.4Q1256.2 76.4 1257.7 76.4H1259.8V81.6M1262.9 81.8V77.4Q1262.9 76.4 1264.4 76.4H1269.3V81.6M1266.5 82.3V78.7Q1266.5 77.7 1268.0 77.7H1269.7V82.1M1272.3 82.3V78.7Q1272.3 77.7 1273.8 77.7H1276.2V82.7M1275.9 82.0V78.9Q1275.9 77.9 1277.4 77.9H1280.1V82.1M1281.9 82.8V78.3Q1281.9 77.3 1283.4 77.3H1286.3V81.7M1284.1 81.9V76.6Q1284.1 75.6 1285.6 75.6H1292.9V81.9M1288.4 83.1V76.9Q1288.4 75.9 1289.9 75.9H1292.6V82.7M1292.4 81.7V76.5Q1292.4 75.5 1293.9 75.5H1298.6V82.6M1295.2 82.1V76.9Q1295.2 75.9 1296.7 75.9H1298.6V82.8M1239.8 79.2V76.6Q1239.8 75.6 1241.3 75.6H1260.0V80.0M1253.8 79.4V76.2Q1253.8 75.2 1255.3 75.2H1269.2V79.3M1272.5 79.2V75.4Q1272.5 74.4 1274.0 74.4H1285.9V79.1M1281.1 78.7V75.2Q1281.1 74.2 1282.6 74.2H1298.6V78.9M1243.3 75.4V73.4Q1243.3 72.4 1244.8 72.4H1292.6V76.3" fill="none" stroke="#111" stroke-width="0.75"/>
<path d="M1266.0 71.8V69.69999999999999" fill="none" stroke="#222" stroke-width="0.7"/>
<rect x="1306.1" y="85.8" width="195.4" height="298.8" fill="none" stroke="#111" stroke-width="1.5"/>
<path d="M1307.1 86.3L1307.1 82.2L1308.6 79.7L1309.9 79.1L1311.5 82.5L1312.4 80.2L1314.1 80.0L1315.2 81.1L1317.0 80.8L1318.5 81.7L1320.2 80.4L1321.0 79.0L1322.9 77.9L1325.1 79.3L1326.5 81.5L1328.3 80.7L1329.5 82.2L1331.2 79.2L1333.1 82.0L1334.2 79.6L1335.1 78.4L1337.2 79.6L1338.4 80.0L1340.3 81.1L1342.0 79.8L1344.1 78.9L1345.8 80.1L1347.8 79.8L1349.6 81.2L1350.6 80.0L1351.7 78.0L1352.8 78.3L1354.0 81.8L1355.6 81.2L1357.8 79.7L1358.8 81.2L1359.7 80.3L1361.3 81.2L1363.0 80.6L1365.0 79.4L1366.1 78.7L1367.0 81.6L1367.8 78.0L1369.4 78.6L1371.5 82.3L1373.6 82.7L1375.4 78.8L1376.7 78.3L1378.6 80.3L1379.8 82.0L1380.7 80.1L1382.2 81.9L1383.8 82.4L1385.0 79.5L1386.0 80.2L1387.0 78.4L1388.1 78.1L1390.2 78.0L1391.4 79.4L1392.3 77.9L1394.0 82.6L1395.0 82.3L1396.3 78.1L1398.2 81.2L1400.2 82.7L1401.7 80.9L1402.6 78.2L1404.3 77.8L1406.0 79.7L1407.0 80.4L1409.1 80.0L1410.8 80.5L1412.1 82.7L1413.2 81.9L1414.1 82.5L1416.0 77.8L1417.7 78.6L1418.8 78.6L1420.2 78.5L1421.3 81.3L1422.8 81.7L1424.0 79.2L1425.9 77.9L1427.6 81.0L1429.1 79.9L1430.7 78.2L1432.3 78.0L1433.8 80.6L1434.6 81.2L1436.1 82.7L1437.5 82.2L1438.7 78.4L1440.8 82.2L1442.4 80.4L1443.3 81.3L1444.8 80.7L1446.4 82.5L1448.1 79.7L1449.1 80.0L1451.2 78.3L1452.9 80.2L1454.7 80.5L1456.5 80.9L1458.1 79.1L1459.7 79.8L1461.1 81.0L1462.8 80.6L1464.2 80.9L1465.4 79.7L1467.4 81.8L1469.2 80.1L1470.8 79.5L1472.2 82.7L1473.5 80.2L1475.2 78.2L1476.9 79.5L1478.2 78.8L1479.2 78.4L1480.7 80.5L1482.4 80.1L1484.6 82.2L1485.5 79.8L1486.6 81.7L1488.8 80.2L1490.0 81.0L1491.2 81.5L1492.2 77.9L1494.0 81.0L1494.9 77.9L1497.0 82.3L1499.0 80.0L1500.5 86.3Z" fill="#0a0a0a"/>
<path d="M1308.9 82.5V79.3Q1308.9 78.3 1310.4 78.3H1314.5V81.8M1315.3 82.0V76.7Q1315.3 75.7 1316.8 75.7H1319.6V82.9M1320.8 82.0V77.6Q1320.8 76.6 1322.3 76.6H1329.4V81.8M1324.0 81.9V78.4Q1324.0 77.4 1325.5 77.4H1327.6V82.9M1326.0 81.6V77.8Q1326.0 76.8 1327.5 76.8H1332.1V82.7M1329.1 83.1V78.8Q1329.1 77.8 1330.6 77.8H1336.5V81.9M1331.6 81.6V78.7Q1331.6 77.7 1333.1 77.7H1335.5V81.9M1338.4 82.8V78.1Q1338.4 77.1 1339.9 77.1H1343.7V81.4M1340.8 81.6V78.3Q1340.8 77.3 1342.3 77.3H1349.1V81.7M1346.6 82.7V78.1Q1346.6 77.1 1348.1 77.1H1355.4V82.2M1349.6 81.8V78.3Q1349.6 77.3 1351.1 77.3H1354.5V82.9M1352.0 81.4V77.1Q1352.0 76.1 1353.5 76.1H1357.4V83.2M1357.1 81.7V78.7Q1357.1 77.7 1358.6 77.7H1364.0V83.0M1364.0 81.7V76.8Q1364.0 75.8 1365.5 75.8H1367.1V81.5M1369.0 83.0V76.8Q1369.0 75.8 1370.5 75.8H1372.5V81.9M1371.7 81.4V77.1Q1371.7 76.1 1373.2 76.1H1377.8V82.7M1374.3 81.5V78.8Q1374.3 77.8 1375.8 77.8H1379.6V82.4M1377.8 82.8V76.6Q1377.8 75.6 1379.3 75.6H1386.3V82.3M1383.0 82.4V77.9Q1383.0 76.9 1384.5 76.9H1388.0V82.1M1387.3 82.8V76.3Q1387.3 75.3 1388.8 75.3H1395.4V83.0M1390.8 82.3V78.6Q1390.8 77.6 1392.3 77.6H1394.2V82.8M1396.5 81.9V77.0Q1396.5 76.0 1398.0 76.0H1405.0V81.4M1400.9 83.1V76.7Q1400.9 75.7 1402.4 75.7H1405.9V82.4M1406.7 82.2V77.7Q1406.7 76.7 1408.2 76.7H1414.1V83.2M1412.7 81.6V76.3Q1412.7 75.3 1414.2 75.3H1419.2V82.8M1417.5 82.5V78.9Q1417.5 77.9 1419.0 77.9H1422.4V83.0M1420.4 81.7V76.3Q1420.4 75.3 1421.9 75.3H1428.8V82.4M1424.8 81.8V78.9Q1424.8 77.9 1426.3 77.9H1429.8V83.2M1431.0 82.3V77.8Q1431.0 76.8 1432.5 76.8H1439.7V81.4M1435.1 81.4V76.3Q1435.1 75.3 1436.6 75.3H1441.6V82.6M1437.4 82.7V78.7Q1437.4 77.7 1438.9 77.7H1446.2V82.6M1440.4 81.7V78.0Q1440.4 77.0 1441.9 77.0H1446.2V82.1M1442.7 82.4V76.4Q1442.7 75.4 1444.2 75.4H1449.9V82.1M1447.3 82.7V77.1Q1447.3 76.1 1448.8 76.1H1451.1V81.5M1451.2 81.3V77.2Q1451.2 76.2 1452.7 76.2H1454.9V83.0M1453.5 82.4V78.7Q1453.5 77.7 1455.0 77.7H1461.5V82.7M1460.2 82.7V78.8Q1460.2 77.8 1461.7 77.8H1468.4V82.2M1463.0 81.3V76.5Q1463.0 75.5 1464.5 75.5H1468.8V82.7M1467.7 81.8V77.9Q1467.7 76.9 1469.2 76.9H1476.0V83.0M1470.3 81.4V78.4Q1470.3 77.4 1471.8 77.4H1477.4V81.6M1476.5 81.6V76.5Q1476.5 75.5 1478.0 75.5H1480.5V83.2M1478.8 82.5V77.7Q1478.8 76.7 1480.3 76.7H1485.7V83.2M1481.9 82.9V77.6Q1481.9 76.6 1483.4 76.6H1490.9V81.8M1488.9 81.7V77.9Q1488.9 76.9 1490.4 76.9H1496.2V83.1M1493.7 82.8V76.6Q1493.7 75.6 1495.2 75.6H1500.5V82.7M1496.5 81.5V77.2Q1496.5 76.2 1498.0 76.2H1500.5V81.4M1308.0 79.7V74.5Q1308.0 73.5 1309.5 73.5H1333.3V79.0M1327.1 79.2V76.1Q1327.1 75.1 1328.6 75.1H1340.1V78.8M1343.4 78.9V74.6Q1343.4 73.6 1344.9 73.6H1370.1V79.5M1353.8 78.6V75.2Q1353.8 74.2 1355.3 74.2H1374.8V80.0M1371.2 78.8V76.5Q1371.2 75.5 1372.7 75.5H1396.8V79.8M1388.5 79.2V74.0Q1388.5 73.0 1390.0 73.0H1410.9V78.8M1401.1 79.9V75.7Q1401.1 74.7 1402.6 74.7H1417.2V78.9M1417.1 79.3V76.7Q1417.1 75.7 1418.6 75.7H1439.0V80.0M1432.2 80.3V74.9Q1432.2 73.9 1433.7 73.9H1459.2V78.4M1444.1 78.9V74.5Q1444.1 73.5 1445.6 73.5H1458.1V79.6M1459.3 79.0V75.0Q1459.3 74.0 1460.8 74.0H1469.7V78.8M1474.4 79.7V76.2Q1474.4 75.2 1475.9 75.2H1497.0V78.5M1481.1 80.2V74.0Q1481.1 73.0 1482.6 73.0H1500.5V80.3M1309.4 77.2V73.0Q1309.4 72.0 1310.9 72.0H1360.6V77.2M1349.6 76.1V73.0Q1349.6 72.0 1351.1 72.0H1387.7V76.9M1406.9 76.4V74.1Q1406.9 73.1 1408.4 73.1H1461.7V75.6M1450.7 76.2V72.6Q1450.7 71.6 1452.2 71.6H1500.5V75.6" fill="none" stroke="#111" stroke-width="0.75"/>
<path d="M1394.0 71.8V69.69999999999999" fill="none" stroke="#222" stroke-width="0.7"/>
<rect x="1510.0" y="85.8" width="99.5" height="298.8" fill="none" stroke="#111" stroke-width="1.5"/>
<path d="M1511.0 86.3L1511.0 78.4L1512.5 82.5L1514.2 80.8L1515.6 80.9L1516.8 82.1L1518.5 80.2L1519.9 79.0L1521.4 82.0L1522.6 80.0L1524.3 79.6L1526.1 81.0L1528.0 79.9L1529.2 82.2L1530.8 78.6L1533.0 78.7L1534.9 79.9L1536.1 81.3L1538.1 81.4L1539.6 80.1L1540.4 82.2L1541.5 78.8L1543.4 82.4L1544.4 77.9L1545.4 78.8L1547.0 78.4L1548.9 82.3L1550.8 79.2L1551.6 78.1L1552.8 80.5L1554.4 80.0L1556.0 82.5L1557.9 80.2L1558.9 80.3L1560.0 80.6L1561.8 79.0L1562.8 81.4L1564.9 79.7L1566.0 79.8L1567.1 82.4L1568.9 82.2L1569.9 79.4L1572.0 82.5L1573.9 82.1L1574.7 82.7L1575.6 79.1L1577.6 82.7L1578.7 82.6L1580.0 81.2L1581.1 78.7L1582.0 79.6L1583.0 79.5L1584.0 81.8L1586.2 81.5L1587.6 79.5L1589.8 80.1L1590.8 79.5L1592.6 79.9L1593.9 78.7L1594.8 80.1L1596.3 78.2L1598.2 81.6L1599.6 79.8L1600.9 82.5L1603.1 80.5L1604.1 82.0L1604.9 78.2L1605.9 80.0L1608.0 79.0L1608.5 86.3Z" fill="#0a0a0a"/>
<path d="M1512.1 81.7V76.9Q1512.1 75.9 1513.6 75.9H1519.2V81.8M1516.2 82.5V76.6Q1516.2 75.6 1517.7 75.6H1522.8V81.8M1521.8 81.3V79.0Q1521.8 78.0 1523.3 78.0H1525.7V82.5M1526.7 81.7V77.6Q1526.7 76.6 1528.2 76.6H1532.5V81.7M1531.6 83.1V77.8Q1531.6 76.8 1533.1 76.8H1537.1V82.2M1537.4 81.4V77.8Q1537.4 76.8 1538.9 76.8H1540.7V81.7M1540.3 83.2V78.8Q1540.3 77.8 1541.8 77.8H1545.6V81.9M1543.8 82.9V78.2Q1543.8 77.2 1545.3 77.2H1547.2V82.4M1550.3 82.2V77.4Q1550.3 76.4 1551.8 76.4H1557.0V83.0M1554.5 82.9V78.6Q1554.5 77.6 1556.0 77.6H1558.4V81.4M1557.4 82.2V77.3Q1557.4 76.3 1558.9 76.3H1564.2V82.6M1561.5 82.1V79.2Q1561.5 78.2 1563.0 78.2H1568.1V83.2M1566.4 83.3V77.4Q1566.4 76.4 1567.9 76.4H1571.5V82.2M1570.5 81.8V76.7Q1570.5 75.7 1572.0 75.7H1578.4V82.6M1574.0 82.0V76.9Q1574.0 75.9 1575.5 75.9H1579.1V83.1M1578.4 82.1V78.9Q1578.4 77.9 1579.9 77.9H1586.6V81.4M1584.7 82.2V77.8Q1584.7 76.8 1586.2 76.8H1593.1V83.2M1588.6 83.1V78.9Q1588.6 77.9 1590.1 77.9H1593.5V82.9M1593.3 82.6V76.8Q1593.3 75.8 1594.8 75.8H1600.7V81.5M1598.5 82.2V77.9Q1598.5 76.9 1600.0 76.9H1606.8V82.6M1601.5 83.3V77.3Q1601.5 76.3 1603.0 76.3H1605.8V81.5M1513.0 78.9V76.3Q1513.0 75.3 1514.5 75.3H1523.8V79.7M1520.9 79.8V74.9Q1520.9 73.9 1522.4 73.9H1538.3V80.3M1538.6 79.5V75.1Q1538.6 74.1 1540.1 74.1H1552.4V79.4M1553.0 79.6V76.1Q1553.0 75.1 1554.5 75.1H1570.6V80.0M1568.5 78.8V73.9Q1568.5 72.9 1570.0 72.9H1591.7V79.4M1586.1 79.3V76.8Q1586.1 75.8 1587.6 75.8H1608.5V79.9M1594.9 79.2V73.9Q1594.9 72.9 1596.4 72.9H1608.5V79.4M1514.4 76.7V72.1Q1514.4 71.1 1515.9 71.1H1562.6V76.1M1560.9 76.3V74.2Q1560.9 73.2 1562.4 73.2H1602.9V75.4" fill="none" stroke="#111" stroke-width="0.75"/>
<path d="M1554.8 71.8V69.69999999999999" fill="none" stroke="#222" stroke-width="0.7"/>
<rect x="1615.9" y="85.8" width="123.8" height="298.8" fill="none" stroke="#111" stroke-width="1.5"/>
<path d="M1616.9 86.3L1616.9 78.6L1619.1 81.8L1620.1 81.0L1621.5 82.1L1623.5 82.0L1625.0 81.4L1626.7 82.2L1628.2 78.6L1629.0 81.8L1629.9 78.6L1631.7 81.6L1633.7 81.9L1635.2 79.2L1636.9 82.5L1637.7 81.9L1639.8 78.3L1641.1 82.6L1642.8 81.8L1644.8 78.2L1646.7 78.9L1648.6 78.6L1649.9 79.2L1650.7 79.3L1652.2 77.9L1654.1 80.5L1655.8 79.9L1657.5 82.8L1658.6 81.5L1660.4 78.2L1662.1 79.0L1663.8 82.1L1664.9 79.9L1666.8 80.7L1668.6 81.1L1669.8 82.0L1671.2 79.9L1672.1 78.1L1673.0 79.1L1674.2 78.1L1675.4 82.7L1677.2 80.9L1679.2 79.5L1680.6 79.5L1682.3 81.2L1683.4 79.5L1685.0 82.6L1686.0 80.6L1686.9 80.2L1688.3 81.3L1690.1 79.1L1691.0 79.8L1693.2 79.8L1695.4 81.6L1696.5 81.2L1697.6 82.0L1698.8 80.3L1700.7 78.9L1701.6 79.0L1703.3 81.5L1704.1 78.5L1705.1 81.5L1706.3 78.8L1708.4 78.2L1710.4 78.6L1711.9 82.5L1713.0 82.1L1714.0 82.1L1715.2 82.5L1716.4 78.5L1717.6 80.3L1719.6 82.7L1721.4 80.1L1722.2 78.3L1724.1 82.3L1726.3 79.9L1728.0 81.7L1728.8 79.3L1730.6 81.9L1731.5 79.9L1732.7 81.1L1734.7 80.0L1735.7 79.3L1737.5 80.0L1738.7 86.3Z" fill="#0a0a0a"/>
<path d="M1618.8 81.9V79.1Q1618.8 78.1 1620.3 78.1H1625.7V81.9M1623.0 82.7V79.0Q1623.0 78.0 1624.5 78.0H1629.0V81.4M1626.2 82.0V79.2Q1626.2 78.2 1627.7 78.2H1632.7V82.9M1631.9 82.8V78.8Q1631.9 77.8 1633.4 77.8H1637.1V83.0M1634.3 82.7V77.7Q1634.3 76.7 1635.8 76.7H1639.8V81.7M1640.4 83.2V76.9Q1640.4 75.9 1641.9 75.9H1647.0V82.7M1645.7 82.0V78.5Q1645.7 77.5 1647.2 77.5H1650.5V82.9M1650.7 82.3V76.6Q1650.7 75.6 1652.2 75.6H1655.4V83.3M1656.0 83.3V78.3Q1656.0 77.3 1657.5 77.3H1663.4V82.3M1661.4 81.7V77.7Q1661.4 76.7 1662.9 76.7H1666.8V82.0M1665.4 81.7V78.8Q1665.4 77.8 1666.9 77.8H1672.9V82.6M1669.8 82.2V79.2Q1669.8 78.2 1671.3 78.2H1678.1V83.0M1675.6 82.1V77.8Q1675.6 76.8 1677.1 76.8H1680.7V81.3M1678.0 81.7V76.7Q1678.0 75.7 1679.5 75.7H1682.3V81.9M1682.8 81.9V77.4Q1682.8 76.4 1684.3 76.4H1689.9V82.0M1684.8 81.9V78.2Q1684.8 77.2 1686.3 77.2H1692.6V81.7M1689.3 81.5V78.3Q1689.3 77.3 1690.8 77.3H1693.2V81.7M1693.9 83.0V79.0Q1693.9 78.0 1695.4 78.0H1698.9V81.4M1698.0 81.9V79.1Q1698.0 78.1 1699.5 78.1H1702.8V82.2M1703.4 83.1V78.2Q1703.4 77.2 1704.9 77.2H1708.0V82.6M1707.7 83.2V76.9Q1707.7 75.9 1709.2 75.9H1711.9V81.8M1713.9 81.4V77.9Q1713.9 76.9 1715.4 76.9H1719.2V81.8M1717.1 83.2V76.8Q1717.1 75.8 1718.6 75.8H1721.3V81.9M1723.1 81.7V77.6Q1723.1 76.6 1724.6 76.6H1727.9V83.1M1727.7 82.3V76.9Q1727.7 75.9 1729.2 75.9H1734.3V82.3M1733.3 81.9V77.6Q1733.3 76.6 1734.8 76.6H1738.7V81.6M1620.8 78.7V76.7Q1620.8 75.7 1622.3 75.7H1642.6V79.5M1633.9 78.4V74.1Q1633.9 73.1 1635.4 73.1H1663.7V79.9M1653.7 79.1V73.9Q1653.7 72.9 1655.2 72.9H1678.6V79.6M1669.3 79.9V74.7Q1669.3 73.7 1670.8 73.7H1695.2V79.0M1686.4 78.9V73.9Q1686.4 72.9 1687.9 72.9H1708.4V79.5M1704.5 78.6V74.7Q1704.5 73.7 1706.0 73.7H1729.7V78.6M1714.9 79.6V76.7Q1714.9 75.7 1716.4 75.7H1738.0V78.5M1723.6 79.7V75.2Q1723.6 74.2 1725.1 74.2H1738.7V80.2M1617.2 77.1V72.8Q1617.2 71.8 1618.7 71.8H1681.5V76.7M1646.8 76.2V73.8Q1646.8 72.8 1648.3 72.8H1691.3V75.9M1701.9 77.3V73.8Q1701.9 72.8 1703.4 72.8H1738.7V77.2" fill="none" stroke="#111" stroke-width="0.75"/>
<path d="M1671.6 71.8V69.69999999999999" fill="none" stroke="#222" stroke-width="0.7"/>
<path d="M1030 70.5C1060 69.8 1090 69.7 1150 69.7H1690C1710 70 1725 71 1732 72" fill="none" stroke="#222" stroke-width="0.8"/>
<text x="1068.7" y="406.7" font-size="24" fill="#111" stroke="#111" text-anchor="middle">1</text>
<text x="1163.0" y="406.7" font-size="24" fill="#111" stroke="#111" text-anchor="middle">2</text>
<text x="1271.2" y="406.7" font-size="24" fill="#111" stroke="#111" text-anchor="middle">3</text>
<text x="1375.4" y="406.7" font-size="24" fill="#111" stroke="#111" text-anchor="middle">4</text>
<text x="1559.2" y="406.7" font-size="24" fill="#111" stroke="#111" text-anchor="middle">5</text>
<text x="1674.8" y="406.7" font-size="24" fill="#111" stroke="#111" text-anchor="middle">6</text>
<path d="M1740.5 97.0H1748V118.3H1740.5M1740.5 139.6H1748V160.9H1740.5M1740.5 182.2H1748V203.5H1740.5M1740.5 224.8H1748V246.1H1740.5M1740.5 267.4H1748V288.7H1740.5M1740.5 310.0H1748V331.3H1740.5M1740.5 352.6H1748V373.9H1740.5M1748 107.6H1762V210.2M1748 150.2H1757V180.2H1762M1748 192.8H1751V235.4H1748M1751 214.1H1757V180.2M1748 278.1H1755V328.7M1748 320.7H1752V363.3H1748M1752 328.7H1755M1755 303.1H1760V212.8H1757" fill="none" stroke="#444" stroke-width="0.8"/>
</g>
<g id="pd">
<text x="19.0" y="475.7" font-size="42" fill="#1a1a1a" stroke="#1a1a1a" style="stroke-width:.7px">d</text>
<text x="25.6" y="841.5" font-size="25" fill="#111" stroke="#111" textLength="312.0" lengthAdjust="spacingAndGlyphs" transform="rotate(-90 25.6 841.5)">Number of features identified</text>
<text x="48.6" y="872.0" font-size="25" fill="#111" stroke="#111" textLength="350.0" lengthAdjust="spacingAndGlyphs" transform="rotate(-90 48.6 872.0)">(Only unique IonMzs considered)</text>
<rect x="130.0" y="567.5" width="23.7" height="260.8" fill="#e4e4e3"/>
<rect x="130.0" y="747.5" width="23.7" height="80.8" fill="#000"/>
<rect x="165.8" y="567.5" width="23.7" height="260.8" fill="#e4e4e3"/>
<rect x="165.8" y="766.3" width="23.7" height="62.0" fill="#000"/>
<rect x="201.3" y="567.5" width="23.7" height="260.8" fill="#e4e4e3"/>
<rect x="201.3" y="768.8" width="23.7" height="59.5" fill="#000"/>
<rect x="237.0" y="567.5" width="23.7" height="260.8" fill="#e4e4e3"/>
<rect x="237.0" y="783.8" width="23.7" height="44.5" fill="#000"/>
<rect x="272.0" y="567.5" width="23.7" height="260.8" fill="#e4e4e3"/>
<rect x="272.0" y="821.0" width="23.7" height="7.3" fill="#000"/>
<rect x="305.5" y="567.5" width="23.7" height="260.8" fill="#e4e4e3"/>
<rect x="305.5" y="823.8" width="23.7" height="4.5" fill="#000"/>
<rect x="340.5" y="567.5" width="23.7" height="260.8" fill="#e4e4e3"/>
<path d="M125 828.3V567.5H369.5V828.3" fill="none" stroke="#8a8a8a" stroke-width="1"/>
<line x1="124.5" y1="828.3" x2="370.0" y2="828.3" stroke="#111" stroke-width="1.2"/>
<line x1="119.5" y1="576.8" x2="125.0" y2="576.8" stroke="#333" stroke-width="1"/>
<text x="116.8" y="584.7" font-size="24" fill="#111" stroke="#111" text-anchor="end" textLength="52.3" lengthAdjust="spacingAndGlyphs">1200</text>
<line x1="119.5" y1="617.0" x2="125.0" y2="617.0" stroke="#333" stroke-width="1"/>
<text x="116.8" y="624.9" font-size="24" fill="#111" stroke="#111" text-anchor="end" textLength="52.3" lengthAdjust="spacingAndGlyphs">1000</text>
<line x1="119.5" y1="722.5" x2="125.0" y2="722.5" stroke="#333" stroke-width="1"/>
<text x="116.8" y="730.4" font-size="24" fill="#111" stroke="#111" text-anchor="end" textLength="39.5" lengthAdjust="spacingAndGlyphs">500</text>
<line x1="142.0" y1="828.3" x2="142.0" y2="836.3" stroke="#333" stroke-width="1"/>
<text x="168.0" y="848.3" font-size="26" text-anchor="end" textLength="79.5" lengthAdjust="spacingAndGlyphs" fill="#111" stroke="#111" font-weight="bold" transform="rotate(-45 168.0 848.3)">Spleen</text>
<line x1="177.5" y1="828.3" x2="177.5" y2="836.3" stroke="#333" stroke-width="1"/>
<text x="194.0" y="853.3" font-size="26" text-anchor="end" textLength="62.0" lengthAdjust="spacingAndGlyphs" fill="#111" stroke="#111" font-weight="bold" transform="rotate(-45 194.0 853.3)">Brain</text>
<line x1="212.5" y1="828.3" x2="212.5" y2="836.3" stroke="#333" stroke-width="1"/>
<text x="234.8" y="848.3" font-size="26" text-anchor="end" textLength="74.1" lengthAdjust="spacingAndGlyphs" fill="#111" stroke="#111" font-weight="bold" transform="rotate(-45 234.8 848.3)">Serum</text>
<line x1="247.5" y1="828.3" x2="247.5" y2="836.3" stroke="#333" stroke-width="1"/>
<text x="262.3" y="857.3" font-size="26" text-anchor="end" textLength="63.3" lengthAdjust="spacingAndGlyphs" fill="#111" stroke="#111" font-weight="bold" transform="rotate(-45 262.3 857.3)">Heart</text>
<line x1="282.5" y1="828.3" x2="282.5" y2="836.3" stroke="#333" stroke-width="1"/>
<text x="291.5" y="857.3" font-size="26" text-anchor="end" textLength="52.5" lengthAdjust="spacingAndGlyphs" fill="#6d6e71" stroke="#6d6e71" transform="rotate(-45 291.5 857.3)">SKM</text>
<line x1="317.5" y1="828.3" x2="317.5" y2="836.3" stroke="#333" stroke-width="1"/>
<text x="327.3" y="857.3" font-size="26" text-anchor="end" textLength="48.5" lengthAdjust="spacingAndGlyphs" fill="#6d6e71" stroke="#6d6e71" transform="rotate(-45 327.3 857.3)">Liver</text>
<line x1="352.5" y1="828.3" x2="352.5" y2="836.3" stroke="#333" stroke-width="1"/>
<text x="370.5" y="854.3" font-size="26" text-anchor="end" textLength="70.1" lengthAdjust="spacingAndGlyphs" fill="#6d6e71" stroke="#6d6e71" transform="rotate(-45 370.5 854.3)">Kidney</text>
<rect x="139.3" y="942.5" width="16.5" height="16.3" fill="#e4e4e3"/>
<rect x="139.3" y="976.3" width="16.5" height="16.7" fill="#14181b"/>
<text x="163.8" y="958.8" font-size="24" fill="#111" stroke="#111" textLength="113.8" lengthAdjust="spacingAndGlyphs">Unchanged</text>
<text x="163.8" y="992.5" font-size="24" fill="#111" stroke="#111" textLength="120.0" lengthAdjust="spacingAndGlyphs">Deregulated</text>
</g>
<g id="pe">
<text x="361.5" y="475.7" font-size="42" fill="#1a1a1a" stroke="#1a1a1a" style="stroke-width:.7px">e</text>
<text x="424.4" y="979" font-size="24" fill="#111" stroke="#111" transform="rotate(-90 424.4 979)" textLength="505" lengthAdjust="spacingAndGlyphs">Relative levels of metabolites altered in <tspan font-style="italic">Mof</tspan><tspan font-size="14" font-style="italic" dy="-8">+/-</tspan><tspan dy="8"> mice</tspan></text>
<text x="597.8" y="478.0" font-size="24" fill="#111" stroke="#111" text-anchor="middle">Spleen</text>
<path d="M592.4 523.2A81 81 0 0 1 664.3 566.9L627.9 585.8A40 40 0 0 0 592.4 564.2Z" fill="#66b0dc" stroke="#1a1a1a" stroke-width="0.8" stroke-linejoin="round"/>
<path d="M664.3 566.9A81 81 0 0 1 673.4 605.5L632.4 604.9A40 40 0 0 0 627.9 585.8Z" fill="#f47b59" stroke="#1a1a1a" stroke-width="0.8" stroke-linejoin="round"/>
<path d="M673.4 605.5A81 81 0 0 1 671.9 620.1L631.7 612.1A40 40 0 0 0 632.4 604.9Z" fill="#c986bf" stroke="#1a1a1a" stroke-width="0.8" stroke-linejoin="round"/>
<path d="M671.9 620.1A81 81 0 0 1 576.5 683.6L584.6 643.4A40 40 0 0 0 631.7 612.1Z" fill="#f8b47e" stroke="#1a1a1a" stroke-width="0.8" stroke-linejoin="round"/>
<path d="M576.5 683.6A81 81 0 0 1 575.2 683.4L583.9 643.3A40 40 0 0 0 584.6 643.4Z" fill="#e8e337" stroke="#1a1a1a" stroke-width="0.8" stroke-linejoin="round"/>
<path d="M575.2 683.4A81 81 0 0 1 564.9 680.4L578.8 641.8A40 40 0 0 0 583.9 643.3Z" fill="#000000" stroke="#1a1a1a" stroke-width="0.8" stroke-linejoin="round"/>
<path d="M564.9 680.4A81 81 0 0 1 533.8 660.1L563.5 631.8A40 40 0 0 0 578.8 641.8Z" fill="#7d50a3" stroke="#1a1a1a" stroke-width="0.8" stroke-linejoin="round"/>
<path d="M533.8 660.1A81 81 0 0 1 549.3 535.7L571.1 570.4A40 40 0 0 0 563.5 631.8Z" fill="#2a5caa" stroke="#1a1a1a" stroke-width="0.8" stroke-linejoin="round"/>
<path d="M549.3 535.7A81 81 0 0 1 559.9 530.0L576.4 567.6A40 40 0 0 0 571.1 570.4Z" fill="#4bb876" stroke="#1a1a1a" stroke-width="0.8" stroke-linejoin="round"/>
<path d="M559.9 530.0A81 81 0 0 1 592.4 523.2L592.4 564.2A40 40 0 0 0 576.4 567.6Z" fill="#a6d785" stroke="#1a1a1a" stroke-width="0.8" stroke-linejoin="round"/>
<text x="597.8" y="614.4" font-size="24" fill="#111" stroke="#111" text-anchor="middle">380</text>
<text x="556.9" y="512.2" font-size="21" fill="#8a8c8e" stroke="#8a8c8e" textLength="60.0" lengthAdjust="spacingAndGlyphs">6.58%</text>
<text x="492.0" y="525.6" font-size="21" fill="#8a8c8e" stroke="#8a8c8e" textLength="59.1" lengthAdjust="spacingAndGlyphs">2.37%</text>
<text x="643.1" y="532.2" font-size="21" fill="#111" stroke="#111" font-weight="bold" textLength="70.2" lengthAdjust="spacingAndGlyphs">17.37%</text>
<text x="676.9" y="590.0" font-size="21" fill="#111" stroke="#111" font-weight="bold" textLength="58.7" lengthAdjust="spacingAndGlyphs">7.89%</text>
<text x="675.6" y="622.0" font-size="21" fill="#111" stroke="#111" font-weight="bold" textLength="60.0" lengthAdjust="spacingAndGlyphs">2.89%</text>
<text x="655.6" y="677.6" font-size="21" fill="#111" stroke="#111" font-weight="bold" textLength="60.0" lengthAdjust="spacingAndGlyphs">25.0%</text>
<text x="436.9" y="598.9" font-size="21" fill="#8a8c8e" stroke="#8a8c8e" textLength="71.1" lengthAdjust="spacingAndGlyphs">28.16%</text>
<text x="480.0" y="680.2" font-size="21" fill="#8a8c8e" stroke="#8a8c8e" textLength="59.1" lengthAdjust="spacingAndGlyphs">7.37%</text>
<text x="551.1" y="704.2" font-size="21" fill="#8a8c8e" stroke="#8a8c8e" textLength="60.0" lengthAdjust="spacingAndGlyphs">2.11%</text>
<text x="923.6" y="478.0" font-size="24" fill="#111" stroke="#111" text-anchor="middle">Brain</text>
<path d="M930.2 523.5A81 81 0 0 1 1001.9 585.4L962.0 594.9A40 40 0 0 0 926.6 564.4Z" fill="#66b0dc" stroke="#1a1a1a" stroke-width="0.8" stroke-linejoin="round"/>
<path d="M1001.9 585.4A81 81 0 0 1 1000.7 627.5L961.4 615.7A40 40 0 0 0 962.0 594.9Z" fill="#f47b59" stroke="#1a1a1a" stroke-width="0.8" stroke-linejoin="round"/>
<path d="M1000.7 627.5A81 81 0 0 1 998.3 634.2L960.3 619.0A40 40 0 0 0 961.4 615.7Z" fill="#c986bf" stroke="#1a1a1a" stroke-width="0.8" stroke-linejoin="round"/>
<path d="M998.3 634.2A81 81 0 0 1 937.8 683.9L930.4 643.6A40 40 0 0 0 960.3 619.0Z" fill="#f8b47e" stroke="#1a1a1a" stroke-width="0.8" stroke-linejoin="round"/>
<path d="M937.8 683.9A81 81 0 0 1 934.3 684.4L928.7 643.8A40 40 0 0 0 930.4 643.6Z" fill="#e8e337" stroke="#1a1a1a" stroke-width="0.8" stroke-linejoin="round"/>
<path d="M934.3 684.4A81 81 0 0 1 913.1 684.6L918.2 643.9A40 40 0 0 0 928.7 643.8Z" fill="#000000" stroke="#1a1a1a" stroke-width="0.8" stroke-linejoin="round"/>
<path d="M913.1 684.6A81 81 0 0 1 857.9 652.3L890.9 628.0A40 40 0 0 0 918.2 643.9Z" fill="#7d50a3" stroke="#1a1a1a" stroke-width="0.8" stroke-linejoin="round"/>
<path d="M857.9 652.3A81 81 0 0 1 878.4 536.7L901.0 570.9A40 40 0 0 0 890.9 628.0Z" fill="#2a5caa" stroke="#1a1a1a" stroke-width="0.8" stroke-linejoin="round"/>
<path d="M878.4 536.7A81 81 0 0 1 892.5 529.2L908.0 567.2A40 40 0 0 0 901.0 570.9Z" fill="#4bb876" stroke="#1a1a1a" stroke-width="0.8" stroke-linejoin="round"/>
<path d="M892.5 529.2A81 81 0 0 1 930.2 523.5L926.6 564.4A40 40 0 0 0 908.0 567.2Z" fill="#a6d785" stroke="#1a1a1a" stroke-width="0.8" stroke-linejoin="round"/>
<text x="921.3" y="614.4" font-size="24" fill="#111" stroke="#111" text-anchor="middle">281</text>
<text x="899.1" y="515.3" font-size="21" fill="#8a8c8e" stroke="#8a8c8e" textLength="48.4" lengthAdjust="spacingAndGlyphs">7.7%</text>
<text x="832.4" y="524.7" font-size="21" fill="#8a8c8e" stroke="#8a8c8e" textLength="59.6" lengthAdjust="spacingAndGlyphs">3.20%</text>
<text x="988.9" y="538.9" font-size="21" fill="#111" stroke="#111" font-weight="bold" textLength="71.1" lengthAdjust="spacingAndGlyphs">20.28%</text>
<text x="1011.1" y="607.8" font-size="21" fill="#111" stroke="#111" font-weight="bold" textLength="60.0" lengthAdjust="spacingAndGlyphs">8.54%</text>
<text x="1008.9" y="642.0" font-size="21" fill="#111" stroke="#111" font-weight="bold" textLength="59.1" lengthAdjust="spacingAndGlyphs">1.42%</text>
<text x="988.0" y="673.6" font-size="21" fill="#111" stroke="#111" font-weight="bold" textLength="71.1" lengthAdjust="spacingAndGlyphs">16.37%</text>
<text x="768.0" y="604.7" font-size="21" fill="#8a8c8e" stroke="#8a8c8e" textLength="71.1" lengthAdjust="spacingAndGlyphs">26.33%</text>
<text x="801.3" y="686.0" font-size="21" fill="#8a8c8e" stroke="#8a8c8e" textLength="70.7" lengthAdjust="spacingAndGlyphs">13.17%</text>
<text x="865.3" y="713.6" font-size="21" fill="#8a8c8e" stroke="#8a8c8e" textLength="59.6" lengthAdjust="spacingAndGlyphs">4.27%</text>
<text x="933.3" y="713.6" font-size="21" fill="#8a8c8e" stroke="#8a8c8e" textLength="59.1" lengthAdjust="spacingAndGlyphs">0.71%</text>
<text x="594.2" y="749.1" font-size="24" fill="#111" stroke="#111" text-anchor="middle">Serum</text>
<path d="M595.6 788.1A81 81 0 0 1 663.1 824.4L628.9 847.0A40 40 0 0 0 595.6 829.1Z" fill="#66b0dc" stroke="#1a1a1a" stroke-width="0.8" stroke-linejoin="round"/>
<path d="M663.1 824.4A81 81 0 0 1 676.5 872.2L635.5 870.6A40 40 0 0 0 628.9 847.0Z" fill="#f47b59" stroke="#1a1a1a" stroke-width="0.8" stroke-linejoin="round"/>
<path d="M676.5 872.2A81 81 0 0 1 675.7 880.8L635.1 874.9A40 40 0 0 0 635.5 870.6Z" fill="#c986bf" stroke="#1a1a1a" stroke-width="0.8" stroke-linejoin="round"/>
<path d="M675.7 880.8A81 81 0 0 1 589.5 949.9L592.6 909.0A40 40 0 0 0 635.1 874.9Z" fill="#f8b47e" stroke="#1a1a1a" stroke-width="0.8" stroke-linejoin="round"/>
<path d="M589.5 949.9A81 81 0 0 1 582.6 949.1L589.1 908.6A40 40 0 0 0 592.6 909.0Z" fill="#e8e337" stroke="#1a1a1a" stroke-width="0.8" stroke-linejoin="round"/>
<path d="M582.6 949.1A81 81 0 0 1 569.1 945.7L582.5 906.9A40 40 0 0 0 589.1 908.6Z" fill="#000000" stroke="#1a1a1a" stroke-width="0.8" stroke-linejoin="round"/>
<path d="M569.1 945.7A81 81 0 0 1 532.6 920.1L564.5 894.3A40 40 0 0 0 582.5 906.9Z" fill="#7d50a3" stroke="#1a1a1a" stroke-width="0.8" stroke-linejoin="round"/>
<path d="M532.6 920.1A81 81 0 0 1 560.3 796.2L578.1 833.1A40 40 0 0 0 564.5 894.3Z" fill="#2a5caa" stroke="#1a1a1a" stroke-width="0.8" stroke-linejoin="round"/>
<path d="M560.3 796.2A81 81 0 0 1 573.3 791.2L584.5 830.7A40 40 0 0 0 578.1 833.1Z" fill="#4bb876" stroke="#1a1a1a" stroke-width="0.8" stroke-linejoin="round"/>
<path d="M573.3 791.2A81 81 0 0 1 595.6 788.1L595.6 829.1A40 40 0 0 0 584.5 830.7Z" fill="#a6d785" stroke="#1a1a1a" stroke-width="0.8" stroke-linejoin="round"/>
<text x="594.2" y="877.6" font-size="24" fill="#111" stroke="#111" text-anchor="middle">293</text>
<text x="565.8" y="776.7" font-size="21" fill="#111" stroke="#111" font-weight="bold" textLength="60.0" lengthAdjust="spacingAndGlyphs">4.44%</text>
<text x="503.1" y="787.8" font-size="21" fill="#111" stroke="#111" font-weight="bold" textLength="59.1" lengthAdjust="spacingAndGlyphs">2.73%</text>
<text x="640.9" y="796.7" font-size="21" fill="#111" stroke="#111" font-weight="bold" textLength="58.2" lengthAdjust="spacingAndGlyphs">15.7%</text>
<text x="678.7" y="846.9" font-size="21" fill="#111" stroke="#111" font-weight="bold" textLength="48.0" lengthAdjust="spacingAndGlyphs">9.9%</text>
<text x="682.2" y="882.0" font-size="21" fill="#111" stroke="#111" font-weight="bold" textLength="58.7" lengthAdjust="spacingAndGlyphs">1.71%</text>
<text x="656.4" y="942.0" font-size="21" fill="#111" stroke="#111" font-weight="bold" textLength="71.1" lengthAdjust="spacingAndGlyphs">23.89%</text>
<text x="437.8" y="866.9" font-size="21" fill="#111" stroke="#111" font-weight="bold" textLength="72.0" lengthAdjust="spacingAndGlyphs">28.67%</text>
<text x="478.7" y="950.0" font-size="21" fill="#111" stroke="#111" font-weight="bold" textLength="59.1" lengthAdjust="spacingAndGlyphs">8.87%</text>
<text x="520.0" y="969.1" font-size="21" fill="#111" stroke="#111" font-weight="bold" textLength="59.1" lengthAdjust="spacingAndGlyphs">2.73%</text>
<text x="583.6" y="977.6" font-size="21" fill="#111" stroke="#111" font-weight="bold" textLength="59.6" lengthAdjust="spacingAndGlyphs">1.37%</text>
<text x="921.3" y="749.1" font-size="24" fill="#111" stroke="#111" text-anchor="middle">Heart</text>
<path d="M922.2 786.8A81 81 0 0 1 997.8 838.6L959.5 853.4A40 40 0 0 0 922.2 827.8Z" fill="#66b0dc" stroke="#1a1a1a" stroke-width="0.8" stroke-linejoin="round"/>
<path d="M997.8 838.6A81 81 0 0 1 1003.2 869.6L962.2 868.7A40 40 0 0 0 959.5 853.4Z" fill="#f47b59" stroke="#1a1a1a" stroke-width="0.8" stroke-linejoin="round"/>
<path d="M1003.2 869.6A81 81 0 0 1 1000.4 888.9L960.8 878.2A40 40 0 0 0 962.2 868.7Z" fill="#c986bf" stroke="#1a1a1a" stroke-width="0.8" stroke-linejoin="round"/>
<path d="M1000.4 888.9A81 81 0 0 1 921.0 948.8L921.6 907.8A40 40 0 0 0 960.8 878.2Z" fill="#f8b47e" stroke="#1a1a1a" stroke-width="0.8" stroke-linejoin="round"/>
<path d="M921.0 948.8A81 81 0 0 1 911.3 948.0L916.8 907.4A40 40 0 0 0 921.6 907.8Z" fill="#000000" stroke="#1a1a1a" stroke-width="0.8" stroke-linejoin="round"/>
<path d="M911.3 948.0A81 81 0 0 1 879.5 936.6L901.1 901.8A40 40 0 0 0 916.8 907.4Z" fill="#7d50a3" stroke="#1a1a1a" stroke-width="0.8" stroke-linejoin="round"/>
<path d="M879.5 936.6A81 81 0 0 1 865.2 810.3L894.0 839.4A40 40 0 0 0 901.1 901.8Z" fill="#2a5caa" stroke="#1a1a1a" stroke-width="0.8" stroke-linejoin="round"/>
<path d="M865.2 810.3A81 81 0 0 1 882.6 797.1L902.7 832.9A40 40 0 0 0 894.0 839.4Z" fill="#4bb876" stroke="#1a1a1a" stroke-width="0.8" stroke-linejoin="round"/>
<path d="M882.6 797.1A81 81 0 0 1 922.2 786.8L922.2 827.8A40 40 0 0 0 902.7 832.9Z" fill="#a6d785" stroke="#1a1a1a" stroke-width="0.8" stroke-linejoin="round"/>
<text x="920.0" y="876.7" font-size="24" fill="#111" stroke="#111" text-anchor="middle">209</text>
<text x="859.1" y="779.8" font-size="21" fill="#111" stroke="#111" font-weight="bold" textLength="60.0" lengthAdjust="spacingAndGlyphs">8.13%</text>
<text x="803.1" y="803.3" font-size="21" fill="#111" stroke="#111" font-weight="bold" textLength="60.0" lengthAdjust="spacingAndGlyphs">4.31%</text>
<text x="974.7" y="800.2" font-size="21" fill="#111" stroke="#111" font-weight="bold" textLength="70.7" lengthAdjust="spacingAndGlyphs">19.14%</text>
<text x="1010.2" y="855.3" font-size="21" fill="#111" stroke="#111" font-weight="bold" textLength="59.6" lengthAdjust="spacingAndGlyphs">6.22%</text>
<text x="1009.3" y="885.6" font-size="21" fill="#111" stroke="#111" font-weight="bold" textLength="59.6" lengthAdjust="spacingAndGlyphs">3.83%</text>
<text x="980.0" y="942.4" font-size="21" fill="#111" stroke="#111" font-weight="bold" textLength="71.1" lengthAdjust="spacingAndGlyphs">21.05%</text>
<text x="762.2" y="872.2" font-size="21" fill="#111" stroke="#111" font-weight="bold" textLength="71.1" lengthAdjust="spacingAndGlyphs">28.71%</text>
<text x="829.8" y="962.0" font-size="21" fill="#111" stroke="#111" font-weight="bold" textLength="59.1" lengthAdjust="spacingAndGlyphs">6.70%</text>
<text x="897.8" y="975.3" font-size="21" fill="#111" stroke="#111" font-weight="bold" textLength="58.7" lengthAdjust="spacingAndGlyphs">1.91%</text>
<text x="617.8" y="1012.0" font-size="24" fill="#111" stroke="#111" textLength="180.0" lengthAdjust="spacingAndGlyphs">Metabolite Class</text>
<rect x="446.7" y="1023.1" width="19.1" height="19.3" fill="#66b0dc"/>
<text x="472.0" y="1037.3" font-size="18.3" fill="#111" stroke="#111">Amino Acids</text>
<rect x="446.7" y="1044.4" width="19.1" height="19.3" fill="#f47b59"/>
<text x="472.0" y="1060.9" font-size="18.3" fill="#111" stroke="#111">Carbohydrate</text>
<rect x="446.7" y="1065.8" width="19.1" height="19.3" fill="#c986bf"/>
<text x="472.0" y="1081.8" font-size="18.3" fill="#111" stroke="#111">Ketones/Keto acids</text>
<rect x="446.7" y="1088.0" width="19.1" height="19.3" fill="#e8e337"/>
<text x="472.0" y="1103.1" font-size="18.3" fill="#111" stroke="#111">Not Found</text>
<rect x="446.7" y="1112.0" width="19.1" height="19.3" fill="#f8b47e"/>
<text x="472.0" y="1126.2" font-size="18.3" fill="#111" stroke="#111">Lipids and lipid−like molecules</text>
<rect x="783.6" y="1020.9" width="19.4" height="19.3" fill="#a6d785"/>
<text x="807.1" y="1036.5" font-size="18.3" fill="#111" stroke="#111">Phenylpropanoids and polyketides</text>
<rect x="783.6" y="1044.4" width="19.4" height="19.3" fill="#000000"/>
<text x="809.5" y="1060.9" font-size="18.3" fill="#111" stroke="#111">Nucleic Acid</text>
<rect x="783.6" y="1065.3" width="19.4" height="19.3" fill="#7d50a3"/>
<text x="807.1" y="1081.8" font-size="18.3" fill="#111" stroke="#111">Organic Acids</text>
<rect x="783.6" y="1087.6" width="19.4" height="19.3" fill="#2a5caa"/>
<text x="807.1" y="1103.1" font-size="18.3" fill="#111" stroke="#111">Organic Compound</text>
<rect x="783.6" y="1109.8" width="19.4" height="19.3" fill="#4bb876"/>
<text x="807.1" y="1126.2" font-size="18.3" fill="#111" stroke="#111">Organic oxygen compounds</text>
<path d="M425.8 1048.9V1154.2H708" fill="none" stroke="#8a8a8a" stroke-width="1"/>
<circle cx="425.8" cy="1048.9" r="2.8" fill="#fff" stroke="#8a8a8a" stroke-width="0.9"/>
<circle cx="425.8" cy="1154.2" r="2.8" fill="#fff" stroke="#8a8a8a" stroke-width="0.9"/>
<circle cx="708" cy="1154.2" r="2.8" fill="#fff" stroke="#8a8a8a" stroke-width="0.9"/>
</g>
<g id="pf">
<text x="1115.5" y="475.9" font-size="42" fill="#1a1a1a" stroke="#1a1a1a" style="stroke-width:.7px">f</text>
<text x="1321.3" y="506.3" font-size="24" fill="#111" stroke="#111" textLength="300.0" lengthAdjust="spacingAndGlyphs">KEGG Metabolic Pathways</text>
<path d="M1176.3 522.5V502.5H1265.5V508.3M1235.8 522.5V508.3H1295.5V522.5" fill="none" stroke="#333" stroke-width="0.9"/>
<rect x="1109.5" y="522.5" width="7.4" height="87.5" fill="#eeab1c"/>
<rect x="1119.3" y="522.5" width="7.4" height="87.5" fill="#8e9093"/>
<rect x="1128.8" y="522.5" width="7.4" height="87.5" fill="#0b8bc5"/>
<rect x="1142.5" y="522.5" width="59.5" height="21.9" fill="#f4896d"/>
<rect x="1202.0" y="522.5" width="59.5" height="21.9" fill="#f8b199"/>
<rect x="1261.5" y="522.5" width="59.8" height="21.9" fill="#f7a48b"/>
<text x="1328.0" y="537.0" font-size="19.2" fill="#111" stroke="#111">Glycine, serine and threonine met</text>
<rect x="1202.0" y="544.4" width="59.5" height="21.9" fill="#f7a48b"/>
<rect x="1261.5" y="544.4" width="59.8" height="21.9" fill="#fabba5"/>
<text x="1328.0" y="558.5" font-size="19.2" fill="#111" stroke="#111">Vitamin B6 met</text>
<rect x="1142.5" y="566.2" width="59.5" height="21.9" fill="#fabea9"/>
<rect x="1202.0" y="566.2" width="59.5" height="21.9" fill="#fabea9"/>
<rect x="1261.5" y="566.2" width="59.8" height="21.9" fill="#f69a80"/>
<text x="1328.0" y="580.5" font-size="19.2" fill="#111" stroke="#111">Valine, leucine and isoleucine biosy</text>
<rect x="1142.5" y="588.1" width="59.5" height="21.9" fill="#f9b39b"/>
<rect x="1202.0" y="588.1" width="59.5" height="21.9" fill="#fabea9"/>
<rect x="1261.5" y="588.1" width="59.8" height="21.9" fill="#f9b39b"/>
<text x="1328.0" y="602.5" font-size="19.2" fill="#111" stroke="#111">Pantothenate and CoA biosy</text>
<path d="M1142.5 544.4H1321.3M1142.5 566.2H1321.3M1142.5 588.1H1321.3M1202.0 522.5V610.0M1261.5 522.5V610.0" fill="none" stroke="#9a9a9a" stroke-width="0.8"/>
<rect x="1142.5" y="522.5" width="178.8" height="87.5" fill="none" stroke="#3a3a3a" stroke-width="1.1"/>
<rect x="1109.5" y="614.5" width="7.4" height="152.5" fill="#eeab1c"/>
<rect x="1128.8" y="614.5" width="7.4" height="152.5" fill="#0b8bc5"/>
<rect x="1142.5" y="614.5" width="59.5" height="21.8" fill="#f69a80"/>
<rect x="1261.5" y="614.5" width="59.8" height="21.8" fill="#f69a80"/>
<text x="1328.0" y="630.8" font-size="19.2" fill="#111" stroke="#111">Starch and.sucrose met</text>
<rect x="1142.5" y="636.3" width="59.5" height="21.8" fill="#f7a48b"/>
<text x="1328.0" y="650.8" font-size="19.2" fill="#111" stroke="#111">Transcription/Translation</text>
<rect x="1142.5" y="658.1" width="59.5" height="21.8" fill="#fabea9"/>
<rect x="1261.5" y="658.1" width="59.8" height="21.8" fill="#fabea9"/>
<text x="1328.0" y="673.8" font-size="19.2" fill="#111" stroke="#111">Taurine and hypotaurine met</text>
<rect x="1142.5" y="679.9" width="59.5" height="21.8" fill="#f9b39b"/>
<rect x="1261.5" y="679.9" width="59.8" height="21.8" fill="#f9b39b"/>
<text x="1328.0" y="695.0" font-size="19.2" fill="#111" stroke="#111">Propanoate met</text>
<rect x="1142.5" y="701.6" width="59.5" height="21.8" fill="#a81c24"/>
<rect x="1261.5" y="701.6" width="59.8" height="21.8" fill="#f69a80"/>
<text x="1328.0" y="717.5" font-size="19.2" fill="#111" stroke="#111">Galactose met</text>
<rect x="1142.5" y="723.4" width="59.5" height="21.8" fill="#99181f"/>
<rect x="1261.5" y="723.4" width="59.8" height="21.8" fill="#f27a5e"/>
<text x="1328.0" y="737.0" font-size="19.2" fill="#111" stroke="#111">Tyrosine met</text>
<rect x="1142.5" y="745.2" width="59.5" height="21.8" fill="#e0372f"/>
<rect x="1261.5" y="745.2" width="59.8" height="21.8" fill="#fabea9"/>
<text x="1328.0" y="758.3" font-size="19.2" fill="#111" stroke="#111">ABC transporters</text>
<path d="M1142.5 636.3H1321.3M1142.5 658.1H1321.3M1142.5 679.9H1321.3M1142.5 701.6H1321.3M1142.5 723.4H1321.3M1142.5 745.2H1321.3M1202.0 614.5V767.0M1261.5 614.5V767.0" fill="none" stroke="#9a9a9a" stroke-width="0.8"/>
<rect x="1142.5" y="614.5" width="178.8" height="152.5" fill="none" stroke="#3a3a3a" stroke-width="1.1"/>
<rect x="1109.5" y="771.3" width="7.4" height="218.5" fill="#eeab1c"/>
<rect x="1142.5" y="771.3" width="59.5" height="21.9" fill="#f4896d"/>
<text x="1328.0" y="787.1" font-size="19.2" fill="#111" stroke="#111">Ammonia Recycling</text>
<rect x="1142.5" y="793.1" width="59.5" height="21.9" fill="#f9b39b"/>
<text x="1328.0" y="809.5" font-size="19.2" fill="#111" stroke="#111">Glycolysis</text>
<rect x="1142.5" y="815.0" width="59.5" height="21.9" fill="#f9b39b"/>
<text x="1328.0" y="831.9" font-size="19.2" fill="#111" stroke="#111">Amino Sugar met</text>
<rect x="1142.5" y="836.8" width="59.5" height="21.9" fill="#f9b39b"/>
<text x="1328.0" y="853.9" font-size="19.2" fill="#111" stroke="#111">Ascorbate and aldarate met</text>
<rect x="1142.5" y="858.7" width="59.5" height="21.9" fill="#fdd3c1"/>
<text x="1328.0" y="875.8" font-size="19.2" fill="#111" stroke="#111">Glycerol Phosphate Shuttle</text>
<rect x="1142.5" y="880.5" width="59.5" height="21.9" fill="#fdd3c1"/>
<text x="1328.0" y="897.3" font-size="19.2" fill="#111" stroke="#111">Ethanol Degradation</text>
<rect x="1142.5" y="902.4" width="59.5" height="21.9" fill="#fdd3c1"/>
<text x="1328.0" y="919.3" font-size="19.2" fill="#111" stroke="#111">Alanine met</text>
<rect x="1142.5" y="924.2" width="59.5" height="21.9" fill="#fdd3c1"/>
<text x="1328.0" y="941.3" font-size="19.2" fill="#111" stroke="#111">Beta Alanine met</text>
<rect x="1142.5" y="946.1" width="59.5" height="21.9" fill="#fbc4af"/>
<text x="1328.0" y="962.8" font-size="19.2" fill="#111" stroke="#111">Glycolysis/Gluconeogenesis</text>
<rect x="1142.5" y="967.9" width="59.5" height="21.9" fill="#fbc4af"/>
<text x="1328.0" y="985.6" font-size="19.2" fill="#111" stroke="#111">Mitochondrial Electron Transport Chain</text>
<path d="M1142.5 793.1H1321.3M1142.5 815.0H1321.3M1142.5 836.8H1321.3M1142.5 858.7H1321.3M1142.5 880.5H1321.3M1142.5 902.4H1321.3M1142.5 924.2H1321.3M1142.5 946.1H1321.3M1142.5 967.9H1321.3M1202.0 771.3V989.8M1261.5 771.3V989.8" fill="none" stroke="#9a9a9a" stroke-width="0.8"/>
<rect x="1142.5" y="771.3" width="178.8" height="218.5" fill="none" stroke="#3a3a3a" stroke-width="1.1"/>
<rect x="1119.3" y="996.7" width="7.4" height="195.1" fill="#8e9093"/>
<rect x="1202.9" y="996.7" width="59.5" height="21.7" fill="#fbcdba"/>
<text x="1328.0" y="1009.8" font-size="19.2" fill="#9a9c9e" stroke="#9a9c9e">Renal cell carcinoma</text>
<rect x="1202.9" y="1018.4" width="59.5" height="21.7" fill="#fbcdba"/>
<text x="1328.0" y="1032.6" font-size="19.2" fill="#9a9c9e" stroke="#9a9c9e">D.Glutamine and D glutamate met</text>
<rect x="1202.9" y="1040.1" width="59.5" height="21.7" fill="#fbcdba"/>
<text x="1328.0" y="1054.2" font-size="19.2" fill="#9a9c9e" stroke="#9a9c9e">Citrate cycle (TCA cycle)</text>
<rect x="1202.9" y="1061.7" width="59.5" height="21.7" fill="#fbcdba"/>
<text x="1328.0" y="1076.1" font-size="19.2" fill="#9a9c9e" stroke="#9a9c9e">Pyruvate met</text>
<rect x="1202.9" y="1083.4" width="59.5" height="21.7" fill="#fbcdba"/>
<text x="1328.0" y="1098.1" font-size="19.2" fill="#9a9c9e" stroke="#9a9c9e">Malate Aspartate Shuttle</text>
<rect x="1202.9" y="1105.1" width="59.5" height="21.7" fill="#fbcdba"/>
<text x="1328.0" y="1120.5" font-size="19.2" fill="#111" stroke="#111">Pentose phosphate pathway</text>
<rect x="1202.9" y="1126.8" width="59.5" height="21.7" fill="#fabea9"/>
<text x="1328.0" y="1141.6" font-size="19.2" fill="#9a9c9e" stroke="#9a9c9e">Lysine biosy</text>
<rect x="1202.9" y="1148.4" width="59.5" height="21.7" fill="#f9b39b"/>
<text x="1328.0" y="1164.0" font-size="19.2" fill="#9a9c9e" stroke="#9a9c9e">Glutamate met</text>
<rect x="1202.9" y="1170.1" width="59.5" height="21.7" fill="#f9b39b"/>
<text x="1328.0" y="1185.9" font-size="19.2" fill="#9a9c9e" stroke="#9a9c9e">Pyrimidine met</text>
<path d="M1143.4 1018.4H1322.2M1143.4 1040.1H1322.2M1143.4 1061.7H1322.2M1143.4 1083.4H1322.2M1143.4 1105.1H1322.2M1143.4 1126.8H1322.2M1143.4 1148.4H1322.2M1143.4 1170.1H1322.2M1202.9 996.7V1191.8M1262.4 996.7V1191.8" fill="none" stroke="#9a9a9a" stroke-width="0.8"/>
<rect x="1143.4" y="996.7" width="178.8" height="195.1" fill="none" stroke="#3a3a3a" stroke-width="1.1"/>
<rect x="1128.8" y="1197.8" width="7.4" height="21.1" fill="#0b8bc5"/>
<rect x="1260.7" y="1197.8" width="59.8" height="21.1" fill="#f27a5e"/>
<text x="1328.0" y="1213.4" font-size="19.2" fill="#9a9c9e" stroke="#9a9c9e">Aminoacyl tRNA biosy</text>
<path d="M1201.2 1197.8V1218.9M1260.7 1197.8V1218.9" fill="none" stroke="#9a9a9a" stroke-width="0.8"/>
<rect x="1141.7" y="1197.8" width="178.8" height="21.1" fill="none" stroke="#3a3a3a" stroke-width="1.1"/>
<rect x="1119.3" y="1226.0" width="7.4" height="42.7" fill="#8e9093"/>
<rect x="1128.8" y="1226.0" width="7.4" height="42.7" fill="#0b8bc5"/>
<rect x="1201.2" y="1226.0" width="59.5" height="21.4" fill="#fabea9"/>
<rect x="1260.7" y="1226.0" width="59.8" height="21.4" fill="#fabea9"/>
<text x="1328.0" y="1241.7" font-size="19.2" fill="#9a9c9e" stroke="#9a9c9e">Glyoxylate and dicarboxylate met</text>
<rect x="1201.2" y="1247.3" width="59.5" height="21.4" fill="#f4896d"/>
<rect x="1260.7" y="1247.3" width="59.8" height="21.4" fill="#f7a48b"/>
<text x="1328.0" y="1263.2" font-size="19.2" fill="#9a9c9e" stroke="#9a9c9e">Lysine degradation</text>
<path d="M1141.7 1247.3H1320.5M1201.2 1226.0V1268.7M1260.7 1226.0V1268.7" fill="none" stroke="#9a9a9a" stroke-width="0.8"/>
<rect x="1141.7" y="1226.0" width="178.8" height="42.7" fill="none" stroke="#3a3a3a" stroke-width="1.1"/>
<rect x="1109.5" y="1277.6" width="7.4" height="153.3" fill="#eeab1c"/>
<rect x="1119.3" y="1277.6" width="7.4" height="153.3" fill="#8e9093"/>
<rect x="1141.7" y="1277.6" width="59.5" height="21.9" fill="#d9282a"/>
<text x="1328.0" y="1293.6" font-size="19.2" fill="#9a9c9e" stroke="#9a9c9e">Glycine and Serine met</text>
<rect x="1141.7" y="1299.5" width="59.5" height="21.9" fill="#f69a80"/>
<rect x="1201.2" y="1299.5" width="59.5" height="21.9" fill="#f9b39b"/>
<text x="1328.0" y="1315.6" font-size="19.2" fill="#9a9c9e" stroke="#9a9c9e">Cysteine and methionine met</text>
<rect x="1141.7" y="1321.4" width="59.5" height="21.9" fill="#f69a80"/>
<rect x="1201.2" y="1321.4" width="59.5" height="21.9" fill="#f7a48b"/>
<text x="1328.0" y="1336.7" font-size="19.2" fill="#9a9c9e" stroke="#9a9c9e">Linoleic acid met</text>
<rect x="1141.7" y="1343.3" width="59.5" height="21.9" fill="#fcc9b6"/>
<rect x="1201.2" y="1343.3" width="59.5" height="21.9" fill="#fabea9"/>
<text x="1328.0" y="1358.2" font-size="19.2" fill="#9a9c9e" stroke="#9a9c9e">Alanine aspartate and glutamate met</text>
<rect x="1141.7" y="1365.2" width="59.5" height="21.9" fill="#f9b39b"/>
<rect x="1201.2" y="1365.2" width="59.5" height="21.9" fill="#f9b39b"/>
<text x="1328.0" y="1380.2" font-size="19.2" fill="#9a9c9e" stroke="#9a9c9e">Phenylalanine met</text>
<rect x="1141.7" y="1387.1" width="59.5" height="21.9" fill="#fcc9b6"/>
<rect x="1201.2" y="1387.1" width="59.5" height="21.9" fill="#f69a80"/>
<text x="1328.0" y="1402.1" font-size="19.2" fill="#9a9c9e" stroke="#9a9c9e">Butanoate met</text>
<rect x="1141.7" y="1409.0" width="59.5" height="21.9" fill="#e64a3a"/>
<rect x="1201.2" y="1409.0" width="59.5" height="21.9" fill="#f4896d"/>
<text x="1328.0" y="1424.5" font-size="19.2" fill="#111" stroke="#111">Pentose and glucuronate interconversions</text>
<path d="M1141.7 1299.5H1320.5M1141.7 1321.4H1320.5M1141.7 1343.3H1320.5M1141.7 1365.2H1320.5M1141.7 1387.1H1320.5M1141.7 1409.0H1320.5M1201.2 1277.6V1430.9M1260.7 1277.6V1430.9" fill="none" stroke="#9a9a9a" stroke-width="0.8"/>
<rect x="1141.7" y="1277.6" width="178.8" height="153.3" fill="none" stroke="#3a3a3a" stroke-width="1.1"/>
<text x="1180.3" y="1451" font-size="24.7" text-anchor="end" fill="#111" stroke="#111" transform="rotate(-45 1180.3 1451)">Brain</text>
<text x="1236" y="1451" font-size="24.7" text-anchor="end" fill="#111" stroke="#111" transform="rotate(-45 1236 1451)">Spleen</text>
<text x="1285.5" y="1448.5" font-size="24.7" text-anchor="end" fill="#111" stroke="#111" transform="rotate(-45 1285.5 1448.5)">Heart</text>
<rect x="1683.2" y="741.6" width="16.3" height="11.9" fill="#ffffff" stroke="#9a9a9a" stroke-width="0.6"/>
<rect x="1683.2" y="729.6" width="16.3" height="11.9" fill="#ffffff" stroke="#9a9a9a" stroke-width="0.6"/>
<rect x="1683.2" y="717.7" width="16.3" height="11.9" fill="#ffffff" stroke="#9a9a9a" stroke-width="0.6"/>
<rect x="1683.2" y="705.8" width="16.3" height="11.9" fill="#ffffff" stroke="#9a9a9a" stroke-width="0.6"/>
<rect x="1683.2" y="693.8" width="16.3" height="11.9" fill="#fdd3c1" stroke="#9c3a30" stroke-width="0.6"/>
<rect x="1683.2" y="681.9" width="16.3" height="11.9" fill="#fcc5b0" stroke="#9c3a30" stroke-width="0.6"/>
<rect x="1683.2" y="670.0" width="16.3" height="11.9" fill="#fab9a1" stroke="#9c3a30" stroke-width="0.6"/>
<rect x="1683.2" y="658.0" width="16.3" height="11.9" fill="#f8a88f" stroke="#9c3a30" stroke-width="0.6"/>
<rect x="1683.2" y="646.1" width="16.3" height="11.9" fill="#f69a80" stroke="#9c3a30" stroke-width="0.6"/>
<rect x="1683.2" y="634.1" width="16.3" height="11.9" fill="#f4896d" stroke="#9c3a30" stroke-width="0.6"/>
<rect x="1683.2" y="622.2" width="16.3" height="11.9" fill="#f27a5e" stroke="#9c3a30" stroke-width="0.6"/>
<rect x="1683.2" y="610.3" width="16.3" height="11.9" fill="#ef6c52" stroke="#9c3a30" stroke-width="0.6"/>
<rect x="1683.2" y="598.3" width="16.3" height="11.9" fill="#ec5f48" stroke="#9c3a30" stroke-width="0.6"/>
<rect x="1683.2" y="586.4" width="16.3" height="11.9" fill="#e84f3e" stroke="#9c3a30" stroke-width="0.6"/>
<rect x="1683.2" y="574.5" width="16.3" height="11.9" fill="#e44236" stroke="#9c3a30" stroke-width="0.6"/>
<rect x="1683.2" y="562.5" width="16.3" height="11.9" fill="#dc2f2d" stroke="#9c3a30" stroke-width="0.6"/>
<rect x="1683.2" y="550.6" width="16.3" height="11.9" fill="#cf2629" stroke="#9c3a30" stroke-width="0.6"/>
<rect x="1683.2" y="538.7" width="16.3" height="11.9" fill="#bd2027" stroke="#9c3a30" stroke-width="0.6"/>
<rect x="1683.2" y="526.7" width="16.3" height="11.9" fill="#aa1c24" stroke="#9c3a30" stroke-width="0.6"/>
<rect x="1683.2" y="514.8" width="16.3" height="11.9" fill="#99181f" stroke="#9c3a30" stroke-width="0.6"/>
<text x="1707.1" y="525.7" font-size="24.5" fill="#111" stroke="#111">20</text>
<text x="1707.1" y="582.7" font-size="24.5" fill="#111" stroke="#111">15</text>
<text x="1707.1" y="639.7" font-size="24.5" fill="#111" stroke="#111">10</text>
<text x="1716.4" y="696.8" font-size="24.5" fill="#111" stroke="#111">5</text>
<text x="1716.4" y="753.3" font-size="24.5" fill="#111" stroke="#111">0</text>
<text x="1674.2" y="765.2" font-size="25" fill="#111" stroke="#111" textLength="266.0" lengthAdjust="spacingAndGlyphs" transform="rotate(-90 1674.2 765.2)">Number of Molecules</text>
<text x="1662.8" y="793.9" font-size="22.3" fill="#111" stroke="#111" font-weight="bold">Tissue</text>
<rect x="1662.8" y="810.4" width="18.2" height="17.5" fill="#eeab1c"/>
<text x="1688.1" y="827.2" font-size="24.8" fill="#111" stroke="#111">Brain</text>
<rect x="1662.8" y="835.7" width="18.2" height="17.5" fill="#8e9093"/>
<text x="1688.1" y="852.6" font-size="24.8" fill="#111" stroke="#111">Spleen</text>
<rect x="1662.8" y="859.3" width="18.2" height="17.5" fill="#0b8bc5"/>
<text x="1688.1" y="877.1" font-size="24.8" fill="#111" stroke="#111">Heart</text>
</g>
<g id="pg">
<text x="18.5" y="1183.0" font-size="42" fill="#1a1a1a" stroke="#1a1a1a" style="stroke-width:.7px">g</text>
<g fill="none">
<g stroke="#d3d1ee" stroke-width="7.0" stroke-opacity="0.49"><path d="M336 2387.5C448 2387.5 448 2231.6 559 2231.6"/></g>
<g stroke="#93d393" stroke-width="5.5" stroke-opacity="0.41"><path d="M336 1680.1C448 1680.1 448 1750.6 559 1750.6"/></g>
<g stroke="#a9cbe8" stroke-width="4.5" stroke-opacity="0.57"><path d="M336 2431.3C448 2431.3 448 2346.8 559 2346.8"/></g>
<g stroke="#93d393" stroke-width="4" stroke-opacity="0.37"><path d="M336 2359.0C448 2359.0 448 2341.9 559 2341.9"/></g>
<g stroke="#93d393" stroke-width="3.5" stroke-opacity="0.37"><path d="M336 2353.8C448 2353.8 448 2337.6 559 2337.6"/></g>
<g stroke="#69b07a" stroke-width="3.4" stroke-opacity="0.49"><path d="M336 1511.6C448 1511.6 448 1517.1 559 1517.1"/></g>
<g stroke="#b5b5b5" stroke-width="3.2" stroke-opacity="0.74"><path d="M336 1321.2C448 1321.2 448 1399.5 559 1399.5"/></g>
<g stroke="#b5b5b5" stroke-width="3.2" stroke-opacity="0.49"><path d="M336 1478.6C448 1478.6 448 1374.4 559 1374.4"/></g>
<g stroke="#93d393" stroke-width="3.0" stroke-opacity="0.45"><path d="M336 1349.0C448 1349.0 448 1427.8 559 1427.8"/></g>
<g stroke="#b5b5b5" stroke-width="3.0" stroke-opacity="0.49"><path d="M336 1487.8C448 1487.8 448 2107.8 559 2107.8"/></g>
<g stroke="#fbb380" stroke-width="2.5" stroke-opacity="0.41"><path d="M336 2051.7C448 2051.7 448 1755.9 559 1755.9"/></g>
<g stroke="#7ea6e0" stroke-width="1.6" stroke-opacity="0.66"><path d="M336 1289.2C448 1289.2 448 1367.9 559 1367.9"/><path d="M336 1290.8C448 1290.8 448 1369.9 559 1369.9"/></g>
<g stroke="#b5b5b5" stroke-width="1.6" stroke-opacity="0.49"><path d="M336 1481.2C448 1481.2 448 1404.9 559 1404.9"/></g>
<g stroke="#d3d1ee" stroke-width="1.5" stroke-opacity="0.66"><path d="M336 1165.0C448 1165.0 448 1271.1 559 1271.1"/></g>
<g stroke="#a9cbe8" stroke-width="1.5" stroke-opacity="0.74"><path d="M336 1189.0C448 1189.0 448 1273.4 559 1273.4"/></g>
<g stroke="#93d393" stroke-width="1.5" stroke-opacity="0.66"><path d="M336 1211.7C448 1211.7 448 1275.7 559 1275.7"/></g>
<g stroke="#a49fdc" stroke-width="1.5" stroke-opacity="0.57"><path d="M336 1235.0C448 1235.0 448 1277.9 559 1277.9"/></g>
<g stroke="#fbb380" stroke-width="1.5" stroke-opacity="0.70"><path d="M336 1257.1C448 1257.1 448 1280.2 559 1280.2"/><path d="M336 1259.4C448 1259.4 448 1282.5 559 1282.5"/><path d="M336 1261.6C448 1261.6 448 1284.7 559 1284.7"/><path d="M336 1263.9C448 1263.9 448 1366.0 559 1366.0"/><path d="M336 1415.7C448 1415.7 448 1296.0 559 1296.0"/><path d="M336 1416.9C448 1416.9 448 1371.9 559 1371.9"/><path d="M336 1418.2C448 1418.2 448 1401.6 559 1401.6"/><path d="M336 1419.5C448 1419.5 448 1432.7 559 1432.7"/><path d="M336 1420.8C448 1420.8 448 1513.3 559 1513.3"/><path d="M336 1422.1C448 1422.1 448 1542.6 559 1542.6"/><path d="M336 1423.4C448 1423.4 448 1661.5 559 1661.5"/><path d="M336 1424.7C448 1424.7 448 1745.7 559 1745.7"/><path d="M336 1426.0C448 1426.0 448 2047.9 559 2047.9"/></g>
<g stroke="#7ea6e0" stroke-width="1.5" stroke-opacity="0.66"><path d="M336 1284.8C448 1284.8 448 1287.0 559 1287.0"/><path d="M336 1286.2C448 1286.2 448 1289.2 559 1289.2"/><path d="M336 1287.8C448 1287.8 448 1291.5 559 1291.5"/><path d="M336 1292.2C448 1292.2 448 1395.8 559 1395.8"/><path d="M336 1293.8C448 1293.8 448 1397.4 559 1397.4"/><path d="M336 1295.2C448 1295.2 448 1425.1 559 1425.1"/><path d="M336 1296.8C448 1296.8 448 1660.0 559 1660.0"/><path d="M336 1298.2C448 1298.2 448 1881.1 559 1881.1"/><path d="M336 1538.0C448 1538.0 448 1546.3 559 1546.3"/><path d="M336 1540.5C448 1540.5 448 1883.4 559 1883.4"/><path d="M336 2305.0C448 2305.0 448 2123.7 559 2123.7"/></g>
<g stroke="#b5b5b5" stroke-width="1.5" stroke-opacity="0.74"><path d="M336 1318.7C448 1318.7 448 1293.8 559 1293.8"/><path d="M336 1323.8C448 1323.8 448 1510.1 559 1510.1"/><path d="M336 1885.5C448 1885.5 448 1670.5 559 1670.5"/><path d="M336 1888.0C448 1888.0 448 2060.1 559 2060.1"/><path d="M336 1890.5C448 1890.5 448 2062.6 559 2062.6"/></g>
<g stroke="#b5b5b5" stroke-width="1.5" stroke-opacity="0.57"><path d="M336 1325.7C448 1325.7 448 2104.6 559 2104.6"/><path d="M336 1476.0C448 1476.0 448 1300.6 559 1300.6"/></g>
<g stroke="#b5b5b5" stroke-width="1.5" stroke-opacity="0.49"><path d="M336 1371.7C448 1371.7 448 1430.6 559 1430.6"/><path d="M336 1485.2C448 1485.2 448 1544.4 559 1544.4"/></g>
<g stroke="#a9cbe8" stroke-width="1.5" stroke-opacity="0.57"><path d="M336 1394.0C448 1394.0 448 1511.7 559 1511.7"/><path d="M336 1800.3C448 1800.3 448 1669.0 559 1669.0"/><path d="M336 1802.3C448 1802.3 448 1899.3 559 1899.3"/><path d="M336 1804.3C448 1804.3 448 2111.0 559 2111.0"/><path d="M336 2154.7C448 2154.7 448 2082.1 559 2082.1"/><path d="M336 2213.7C448 2213.7 448 2113.5 559 2113.5"/></g>
<g stroke="#93d393" stroke-width="1.5" stroke-opacity="0.33"><path d="M336 1447.5C448 1447.5 448 1298.3 559 1298.3"/><path d="M336 1449.2C448 1449.2 448 1403.3 559 1403.3"/><path d="M336 1450.9C448 1450.9 448 1434.9 559 1434.9"/><path d="M336 1452.5C448 1452.5 448 1663.0 559 1663.0"/><path d="M336 1454.2C448 1454.2 448 1777.7 559 1777.7"/></g>
<g stroke="#b5b5b5" stroke-width="1.5" stroke-opacity="0.41"><path d="M336 1483.2C448 1483.2 448 1514.9 559 1514.9"/></g>
<g stroke="#69b07a" stroke-width="1.5" stroke-opacity="0.57"><path d="M336 1515.3C448 1515.3 448 2369.7 559 2369.7"/><path d="M336 1650.4C448 1650.4 448 1783.4 559 1783.4"/><path d="M336 1653.3C448 1653.3 448 1885.7 559 1885.7"/><path d="M336 1656.2C448 1656.2 448 1888.0 559 1888.0"/></g>
<g stroke="#93d393" stroke-width="1.5" stroke-opacity="0.41"><path d="M336 1563.7C448 1563.7 448 1824.7 559 1824.7"/><path d="M336 1647.5C448 1647.5 448 1666.0 559 1666.0"/><path d="M336 1855.4C448 1855.4 448 1791.0 559 1791.0"/><path d="M336 2498.5C448 2498.5 448 2375.3 559 2375.3"/></g>
<g stroke="#93d393" stroke-width="1.5" stroke-opacity="0.37"><path d="M336 1586.2C448 1586.2 448 1548.1 559 1548.1"/><path d="M336 1588.6C448 1588.6 448 1664.5 559 1664.5"/></g>
<g stroke="#b5b5b5" stroke-width="1.5" stroke-opacity="0.29"><path d="M336 1775.5C448 1775.5 448 1667.5 559 1667.5"/><path d="M336 1778.0C448 1778.0 448 2371.1 559 2371.1"/></g>
<g stroke="#a9cbe8" stroke-width="1.5" stroke-opacity="0.49"><path d="M336 1806.3C448 1806.3 448 2372.5 559 2372.5"/></g>
<g stroke="#69b07a" stroke-width="1.5" stroke-opacity="0.49"><path d="M336 1858.1C448 1858.1 448 1901.6 559 1901.6"/><path d="M336 1860.9C448 1860.9 448 1903.9 559 1903.9"/><path d="M336 1863.6C448 1863.6 448 1906.1 559 1906.1"/><path d="M336 2097.0C448 2097.0 448 1522.5 559 1522.5"/><path d="M336 2099.0C448 2099.0 448 2065.0 559 2065.0"/><path d="M336 2101.0C448 2101.0 448 2067.4 559 2067.4"/><path d="M336 2103.0C448 2103.0 448 2069.9 559 2069.9"/><path d="M336 2105.0C448 2105.0 448 2072.3 559 2072.3"/></g>
<g stroke="#fbb380" stroke-width="1.5" stroke-opacity="0.57"><path d="M336 2025.7C448 2025.7 448 1672.0 559 1672.0"/></g>
<g stroke="#fbb380" stroke-width="1.5" stroke-opacity="0.41"><path d="M336 2029.0C448 2029.0 448 2020.7 559 2020.7"/><path d="M336 2476.3C448 2476.3 448 2373.9 559 2373.9"/></g>
<g stroke="#a49fdc" stroke-width="1.5" stroke-opacity="0.74"><path d="M336 2126.9C448 2126.9 448 2074.8 559 2074.8"/><path d="M336 2129.2C448 2129.2 448 2077.2 559 2077.2"/><path d="M336 2131.5C448 2131.5 448 2079.6 559 2079.6"/><path d="M336 2259.3C448 2259.3 448 2118.6 559 2118.6"/></g>
<g stroke="#a9cbe8" stroke-width="1.5" stroke-opacity="0.41"><path d="M336 2178.9C448 2178.9 448 1922.0 559 1922.0"/><path d="M336 2180.9C448 2180.9 448 1924.3 559 1924.3"/><path d="M336 2184.8C448 2184.8 448 2165.7 559 2165.7"/><path d="M336 2186.8C448 2186.8 448 2168.6 559 2168.6"/><path d="M336 2188.8C448 2188.8 448 2273.3 559 2273.3"/><path d="M336 2190.7C448 2190.7 448 2276.6 559 2276.6"/><path d="M336 2177.0C448 2177.0 448 1798.6 559 1798.6"/><path d="M336 2182.9C448 2182.9 448 1974.7 559 1974.7"/><path d="M336 2455.0C448 2455.0 448 2306.6 559 2306.6"/></g>
<g stroke="#fbb380" stroke-width="1.5" stroke-opacity="0.66"><path d="M336 2236.7C448 2236.7 448 2116.1 559 2116.1"/></g>
<g stroke="#d3d1ee" stroke-width="1.5" stroke-opacity="0.74"><path d="M336 2282.3C448 2282.3 448 2121.2 559 2121.2"/></g>
<g stroke="#a9cbe8" stroke-width="1.5" stroke-opacity="0.66"><path d="M336 2415.7C448 2415.7 448 2290.0 559 2290.0"/><path d="M336 2418.5C448 2418.5 448 2293.3 559 2293.3"/><path d="M336 2421.3C448 2421.3 448 2296.6 559 2296.6"/><path d="M336 2424.1C448 2424.1 448 2300.0 559 2300.0"/><path d="M336 2426.9C448 2426.9 448 2303.3 559 2303.3"/></g>
<g stroke="#93d393" stroke-width="1.4" stroke-opacity="0.41"><path d="M336 1591.0C448 1591.0 448 1779.6 559 1779.6"/><path d="M336 1593.4C448 1593.4 448 1781.5 559 1781.5"/><path d="M336 1598.1C448 1598.1 448 2197.0 559 2197.0"/><path d="M336 1600.5C448 1600.5 448 2199.7 559 2199.7"/><path d="M336 1595.7C448 1595.7 448 1827.5 559 1827.5"/></g>
<g stroke="#7d7d7d" stroke-width="1.4" stroke-opacity="0.66"><path d="M336 1622.4C448 1622.4 448 1519.3 559 1519.3"/><path d="M336 1625.3C448 1625.3 448 2050.4 559 2050.4"/><path d="M336 1827.8C448 1827.8 448 1520.9 559 1520.9"/><path d="M336 1830.1C448 1830.1 448 2052.8 559 2052.8"/><path d="M336 1832.3C448 1832.3 448 2055.2 559 2055.2"/><path d="M336 1834.6C448 1834.6 448 2057.7 559 2057.7"/></g>
<g stroke="#93d393" stroke-width="1.4" stroke-opacity="0.49"><path d="M336 1684.9C448 1684.9 448 1785.3 559 1785.3"/><path d="M336 1687.6C448 1687.6 448 1787.2 559 1787.2"/><path d="M336 1690.3C448 1690.3 448 1789.1 559 1789.1"/><path d="M336 1693.0C448 1693.0 448 1830.4 559 1830.4"/><path d="M336 1695.7C448 1695.7 448 1833.2 559 1833.2"/><path d="M336 1698.4C448 1698.4 448 1836.0 559 1836.0"/><path d="M336 1701.1C448 1701.1 448 1838.8 559 1838.8"/><path d="M336 1703.9C448 1703.9 448 1890.2 559 1890.2"/><path d="M336 1706.6C448 1706.6 448 1892.5 559 1892.5"/><path d="M336 1709.3C448 1709.3 448 1894.8 559 1894.8"/><path d="M336 1712.0C448 1712.0 448 1897.0 559 1897.0"/><path d="M336 1714.7C448 1714.7 448 1951.3 559 1951.3"/><path d="M336 1717.4C448 1717.4 448 1953.9 559 1953.9"/><path d="M336 1720.1C448 1720.1 448 1956.5 559 1956.5"/><path d="M336 1722.8C448 1722.8 448 1959.1 559 1959.1"/><path d="M336 1725.5C448 1725.5 448 1996.9 559 1996.9"/><path d="M336 1728.3C448 1728.3 448 1999.3 559 1999.3"/><path d="M336 1731.0C448 1731.0 448 2001.7 559 2001.7"/><path d="M336 1733.7C448 1733.7 448 2004.0 559 2004.0"/><path d="M336 1736.4C448 1736.4 448 2145.7 559 2145.7"/><path d="M336 1739.1C448 1739.1 448 2148.6 559 2148.6"/><path d="M336 1741.8C448 1741.8 448 2151.4 559 2151.4"/><path d="M336 1744.5C448 1744.5 448 2202.4 559 2202.4"/><path d="M336 1747.2C448 1747.2 448 2205.0 559 2205.0"/><path d="M336 1749.9C448 1749.9 448 2260.0 559 2260.0"/><path d="M336 1752.6C448 1752.6 448 2329.5 559 2329.5"/><path d="M336 1912.0C448 1912.0 448 1792.9 559 1792.9"/><path d="M336 1914.7C448 1914.7 448 1794.8 559 1794.8"/><path d="M336 1917.3C448 1917.3 448 1796.7 559 1796.7"/><path d="M336 1919.9C448 1919.9 448 1841.7 559 1841.7"/><path d="M336 1922.6C448 1922.6 448 1844.5 559 1844.5"/><path d="M336 1925.2C448 1925.2 448 1847.3 559 1847.3"/><path d="M336 1927.9C448 1927.9 448 1850.1 559 1850.1"/><path d="M336 1930.5C448 1930.5 448 1852.9 559 1852.9"/><path d="M336 1933.1C448 1933.1 448 1908.4 559 1908.4"/><path d="M336 1935.8C448 1935.8 448 1910.7 559 1910.7"/><path d="M336 1938.4C448 1938.4 448 1913.0 559 1913.0"/><path d="M336 1941.0C448 1941.0 448 1915.2 559 1915.2"/><path d="M336 1943.7C448 1943.7 448 1917.5 559 1917.5"/><path d="M336 1946.3C448 1946.3 448 1919.8 559 1919.8"/><path d="M336 1949.0C448 1949.0 448 1961.7 559 1961.7"/><path d="M336 1951.6C448 1951.6 448 1964.3 559 1964.3"/><path d="M336 1954.2C448 1954.2 448 1966.9 559 1966.9"/><path d="M336 1956.9C448 1956.9 448 1969.5 559 1969.5"/><path d="M336 1959.5C448 1959.5 448 1972.1 559 1972.1"/><path d="M336 1962.2C448 1962.2 448 2006.4 559 2006.4"/><path d="M336 1964.8C448 1964.8 448 2008.8 559 2008.8"/><path d="M336 1967.4C448 1967.4 448 2011.2 559 2011.2"/><path d="M336 1970.1C448 1970.1 448 2013.6 559 2013.6"/><path d="M336 1972.7C448 1972.7 448 2016.0 559 2016.0"/><path d="M336 1975.4C448 1975.4 448 2018.4 559 2018.4"/><path d="M336 1978.0C448 1978.0 448 2154.3 559 2154.3"/><path d="M336 1980.6C448 1980.6 448 2157.1 559 2157.1"/><path d="M336 1983.3C448 1983.3 448 2160.0 559 2160.0"/><path d="M336 1985.9C448 1985.9 448 2162.9 559 2162.9"/><path d="M336 1988.5C448 1988.5 448 2207.7 559 2207.7"/><path d="M336 1991.2C448 1991.2 448 2210.3 559 2210.3"/><path d="M336 1993.8C448 1993.8 448 2213.0 559 2213.0"/><path d="M336 1996.5C448 1996.5 448 2263.3 559 2263.3"/><path d="M336 1999.1C448 1999.1 448 2266.6 559 2266.6"/><path d="M336 2001.7C448 2001.7 448 2331.9 559 2331.9"/><path d="M336 2004.4C448 2004.4 448 2334.3 559 2334.3"/><path d="M336 2327.4C448 2327.4 448 1800.5 559 1800.5"/><path d="M336 2330.2C448 2330.2 448 1802.4 559 1802.4"/><path d="M336 2333.1C448 2333.1 448 1926.6 559 1926.6"/><path d="M336 2335.9C448 2335.9 448 1928.9 559 1928.9"/><path d="M336 2338.7C448 2338.7 448 2171.4 559 2171.4"/><path d="M336 2341.5C448 2341.5 448 2174.3 559 2174.3"/><path d="M336 2344.4C448 2344.4 448 2280.0 559 2280.0"/><path d="M336 2347.2C448 2347.2 448 2283.3 559 2283.3"/><path d="M336 2350.0C448 2350.0 448 2286.6 559 2286.6"/></g>
<g stroke="#fbb380" stroke-width="1.4" stroke-opacity="0.41"><path d="M336 2054.7C448 2054.7 448 1855.8 559 1855.8"/><path d="M336 2057.3C448 2057.3 448 1858.6 559 1858.6"/><path d="M336 2059.9C448 2059.9 448 2023.1 559 2023.1"/><path d="M336 2062.5C448 2062.5 448 2025.5 559 2025.5"/><path d="M336 2075.4C448 2075.4 448 2270.0 559 2270.0"/></g>
<g stroke="#fbb380" stroke-width="1.4" stroke-opacity="0.45"><path d="M336 2065.1C448 2065.1 448 2215.7 559 2215.7"/><path d="M336 2067.6C448 2067.6 448 2218.3 559 2218.3"/><path d="M336 2070.2C448 2070.2 448 2221.0 559 2221.0"/><path d="M336 2072.8C448 2072.8 448 2223.7 559 2223.7"/></g>
<g stroke="#a49fdc" stroke-width="1.2" stroke-opacity="0.61"><path d="M336 2381.5C448 2381.5 448 2226.3 559 2226.3"/><path d="M336 2384.5C448 2384.5 448 2229.0 559 2229.0"/><path d="M336 2387.5C448 2387.5 448 2231.6 559 2231.6"/><path d="M336 2390.5C448 2390.5 448 2234.3 559 2234.3"/><path d="M336 2393.5C448 2393.5 448 2237.0 559 2237.0"/></g>
</g>
<rect x="332.6" y="1163.3" width="3.6" height="3.4" fill="#6a6a7a"/>
<text x="325.0" y="1169.3" font-size="18.3" fill="#e0272a" stroke="#e0272a" text-anchor="end">Acetylornithine</text>
<rect x="332.6" y="1187.3" width="3.6" height="3.4" fill="#2f5f7a"/>
<text x="325.0" y="1192.7" font-size="18.3" fill="#2e3192" stroke="#2e3192" text-anchor="end">Acetyl-Glu-semialdehyde</text>
<rect x="332.6" y="1210.0" width="3.6" height="3.4" fill="#2f6b3f"/>
<text x="325.0" y="1216.0" font-size="18.3" fill="#2e3192" stroke="#2e3192" text-anchor="end">L-Glutamic acid 5-phosphate</text>
<rect x="332.6" y="1233.3" width="3.6" height="3.4" fill="#5a5a7a"/>
<text x="325.0" y="1239.0" font-size="18.3" fill="#2e3192" stroke="#2e3192" text-anchor="end">Pyrrole-2-carboxylic acid</text>
<rect x="332.6" y="1256.0" width="3.6" height="9.0" fill="#8a4a20"/>
<text x="325.0" y="1264.0" font-size="18.3" fill="#2e3192" stroke="#2e3192" text-anchor="end">Oxoproline</text>
<rect x="332.6" y="1284.0" width="3.6" height="15.0" fill="#1f4a7a"/>
<text x="325.0" y="1295.0" font-size="18.3" fill="#2e3192" stroke="#2e3192" text-anchor="end">Glutamate</text>
<rect x="332.6" y="1317.7" width="3.6" height="9.0" fill="#4a4a4a"/>
<text x="325.0" y="1326.0" font-size="18.3" fill="#2e3192" stroke="#2e3192" text-anchor="end">Aspartate</text>
<rect x="332.6" y="1346.0" width="3.6" height="6.0" fill="#4a7a4a"/>
<text x="325.0" y="1352.0" font-size="18.3" fill="#2e3192" stroke="#2e3192" text-anchor="end">Pyridoxal</text>
<rect x="332.6" y="1370.0" width="3.6" height="3.4" fill="#6a6a6a"/>
<text x="325.0" y="1375.0" font-size="18.3" fill="#2e3192" stroke="#2e3192" text-anchor="end">Pyridoxine 5'-phosphate</text>
<rect x="332.6" y="1392.3" width="3.6" height="3.4" fill="#4a6a7a"/>
<text x="325.0" y="1397.3" font-size="18.3" fill="#2e3192" stroke="#2e3192" text-anchor="end">2-Methylcitric acid</text>
<rect x="332.6" y="1415.0" width="3.6" height="11.7" fill="#8a4a20"/>
<text x="325.0" y="1424.3" font-size="18.3" fill="#2e3192" stroke="#2e3192" text-anchor="end">Oxoglutarate</text>
<rect x="332.6" y="1446.7" width="3.6" height="8.3" fill="#5a7a5a"/>
<text x="325.0" y="1454.3" font-size="18.3" fill="#2e3192" stroke="#2e3192" text-anchor="end">Aminobutanoic acid (ABA)</text>
<rect x="332.6" y="1475.0" width="3.6" height="14.3" fill="#5a5a5a"/>
<text x="330.7" y="1486.0" font-size="18.3" fill="#e0272a" stroke="#e0272a" text-anchor="end" font-weight="bold">Glutamine</text>
<rect x="332.6" y="1509.3" width="3.6" height="7.4" fill="#1f5a35"/>
<text x="325.0" y="1516.0" font-size="18.3" fill="#e0272a" stroke="#e0272a" text-anchor="end">Gly-Leu</text>
<rect x="332.6" y="1536.7" width="3.6" height="5.0" fill="#1f4a7a"/>
<text x="325.0" y="1542.3" font-size="18.3" fill="#2e3192" stroke="#2e3192" text-anchor="end">Phosphoenolpyruvate</text>
<rect x="332.6" y="1561.7" width="3.6" height="4.0" fill="#4a7a4a"/>
<text x="325.0" y="1566.7" font-size="18.3" fill="#2e3192" stroke="#2e3192" text-anchor="end">N-Glycolylneuraminic acid</text>
<rect x="332.6" y="1585.0" width="3.6" height="16.7" fill="#5a7a5a"/>
<text x="325.0" y="1596.0" font-size="18.3" fill="#2e3192" stroke="#2e3192" text-anchor="end">Pentose P</text>
<rect x="332.6" y="1621.0" width="3.6" height="5.7" fill="#3a3a3a"/>
<text x="325.0" y="1627.7" font-size="18.3" fill="#e0272a" stroke="#e0272a" text-anchor="end">Saccharopine</text>
<rect x="332.6" y="1646.0" width="3.6" height="11.7" fill="#1f5a35"/>
<text x="325.0" y="1655.0" font-size="18.3" fill="#2e3192" stroke="#2e3192" text-anchor="end">Phosphoglycerate</text>
<rect x="332.6" y="1676.7" width="3.6" height="77.3" fill="#3f6b4a"/>
<text x="315.7" y="1719.0" font-size="24.2" fill="#e0272a" stroke="#e0272a" text-anchor="end" font-weight="bold">Hexose</text>
<rect x="332.6" y="1774.3" width="3.6" height="5.0" fill="#7a7a7a"/>
<text x="325.0" y="1767.7" font-size="18.3" fill="#2e3192" stroke="#2e3192" text-anchor="end">Methacrylyl-CoA</text>
<rect x="332.6" y="1799.3" width="3.6" height="8.0" fill="#4a6a7a"/>
<text x="325.0" y="1790.0" font-size="18.3" fill="#2e3192" stroke="#2e3192" text-anchor="end">2-(a-Hydroxyethyl)</text>
<text x="325.0" y="1812.3" font-size="18.3" fill="#2e3192" stroke="#2e3192" text-anchor="end">thiamine diphosphate</text>
<rect x="332.6" y="1826.7" width="3.6" height="9.0" fill="#3a3a3a"/>
<text x="325.0" y="1834.3" font-size="18.3" fill="#2e3192" stroke="#2e3192" text-anchor="end">Glycine</text>
<rect x="332.6" y="1854.0" width="3.6" height="11.0" fill="#2f6b3f"/>
<text x="325.0" y="1863.3" font-size="18.3" fill="#2e3192" stroke="#2e3192" text-anchor="end">Glyceric acid 1,3-biphosphate</text>
<rect x="332.6" y="1884.3" width="3.6" height="7.4" fill="#4a4a4a"/>
<text x="325.0" y="1891.0" font-size="18.3" fill="#2e3192" stroke="#2e3192" text-anchor="end">Glutarate</text>
<rect x="332.6" y="1910.7" width="3.6" height="95.0" fill="#3f6b4a"/>
<text x="325.0" y="1961.7" font-size="18.3" fill="#2e3192" stroke="#2e3192" text-anchor="end">Hexose P</text>
<rect x="332.6" y="2024.0" width="3.6" height="6.7" fill="#8a5a3a"/>
<text x="325.0" y="2031.7" font-size="18.3" fill="#2e3192" stroke="#2e3192" text-anchor="end">Hydroxyglutarate</text>
<rect x="332.6" y="2050.0" width="3.6" height="26.7" fill="#8a6a4a"/>
<text x="325.0" y="2067.3" font-size="18.3" fill="#2e3192" stroke="#2e3192" text-anchor="end">Hexuronate</text>
<rect x="332.6" y="2096.0" width="3.6" height="10.0" fill="#2f6b3f"/>
<text x="325.0" y="2105.0" font-size="18.3" fill="#e0272a" stroke="#e0272a" text-anchor="end">Lysine</text>
<rect x="332.6" y="2125.7" width="3.6" height="7.0" fill="#3a3a6a"/>
<text x="325.0" y="2133.3" font-size="18.3" fill="#2e3192" stroke="#2e3192" text-anchor="end">Ne,Ne dimethyllysine</text>
<rect x="332.6" y="2152.7" width="3.6" height="4.0" fill="#4a6a7a"/>
<text x="325.0" y="2158.3" font-size="18.3" fill="#2e3192" stroke="#2e3192" text-anchor="end">2-Keto-6-acetamidocaproate</text>
<rect x="332.6" y="2176.0" width="3.6" height="15.7" fill="#5a6a7a"/>
<text x="325.0" y="2187.7" font-size="18.3" fill="#2e3192" stroke="#2e3192" text-anchor="end">Glycerone phosphate</text>
<rect x="332.6" y="2211.7" width="3.6" height="4.0" fill="#4a6a7a"/>
<text x="325.0" y="2217.7" font-size="18.3" fill="#2e3192" stroke="#2e3192" text-anchor="end">Uracil</text>
<rect x="332.6" y="2235.0" width="3.6" height="3.3" fill="#8a4a20"/>
<text x="325.0" y="2240.0" font-size="18.3" fill="#2e3192" stroke="#2e3192" text-anchor="end">CDP</text>
<rect x="332.6" y="2257.7" width="3.6" height="3.3" fill="#3a3a6a"/>
<text x="325.0" y="2255.0" font-size="18.3" fill="#e0272a" stroke="#e0272a" text-anchor="end">Thymidine 3',5'-</text>
<text x="325.0" y="2276.7" font-size="18.3" fill="#e0272a" stroke="#e0272a" text-anchor="end">cyclic monophosphate</text>
<rect x="332.6" y="2280.7" width="3.6" height="3.3" fill="#6a6a7a"/>
<rect x="332.6" y="2303.3" width="3.6" height="3.4" fill="#1f4a6a"/>
<text x="325.0" y="2301.0" font-size="18.3" fill="#2e3192" stroke="#2e3192" text-anchor="end">Cytosine</text>
<rect x="332.6" y="2326.0" width="3.6" height="35.7" fill="#3f6b4a"/>
<text x="325.0" y="2323.3" font-size="18.3" fill="#2e3192" stroke="#2e3192" text-anchor="end">Orotidine</text>
<text x="325.0" y="2347.3" font-size="18.3" fill="#2e3192" stroke="#2e3192" text-anchor="end">Hexose bisP</text>
<rect x="332.6" y="2380.0" width="3.6" height="15.0" fill="#4a4a6a"/>
<text x="325.0" y="2391.0" font-size="18.3" fill="#2e3192" stroke="#2e3192" text-anchor="end">Ribitol</text>
<rect x="332.6" y="2414.3" width="3.6" height="20.0" fill="#2f5f7a"/>
<text x="325.0" y="2427.7" font-size="18.3" fill="#2e3192" stroke="#2e3192" text-anchor="end">Inositol 1,3,4,5-tetraphosphate</text>
<rect x="332.6" y="2453.3" width="3.6" height="3.4" fill="#5a7a7a"/>
<text x="325.0" y="2458.3" font-size="18.3" fill="#2e3192" stroke="#2e3192" text-anchor="end">Itaconate</text>
<rect x="332.6" y="2475.0" width="3.6" height="2.7" fill="#8a6a4a"/>
<text x="327.3" y="2484.3" font-size="18.3" fill="#2e3192" stroke="#2e3192" text-anchor="end">Isopropylmaleate</text>
<rect x="332.6" y="2497.0" width="3.6" height="3.0" fill="#4a7a4a"/>
<rect x="559.3" y="1270.0" width="3.1" height="31.7" fill="#7a3010"/>
<text x="578.3" y="1290.4" font-size="21.3" fill="#111" stroke="#111">Arginine and proline metabolism</text>
<rect x="559.3" y="1365.0" width="3.1" height="11.0" fill="#4a6a85"/>
<text x="578.3" y="1374.9" font-size="21.3" fill="#111" stroke="#111">D-Glutamine and D-glutamate metabolism</text>
<rect x="559.3" y="1395.0" width="3.1" height="10.7" fill="#3a5a75"/>
<text x="578.3" y="1404.8" font-size="21.3" fill="#111" stroke="#111">Alanine, aspartate and glutamate metabolism</text>
<rect x="559.3" y="1424.0" width="3.1" height="12.0" fill="#7a6a58"/>
<text x="578.3" y="1435.4" font-size="21.3" fill="#111" stroke="#111">Vitamin B6 metabolism</text>
<rect x="559.3" y="1509.3" width="3.1" height="14.0" fill="#2f6b3f"/>
<text x="578.3" y="1520.8" font-size="21.3" fill="#111" stroke="#111">Lysine biosynthesis/Deg</text>
<rect x="559.3" y="1541.7" width="3.1" height="7.3" fill="#8a5a3a"/>
<text x="578.3" y="1550.4" font-size="21.3" fill="#111" stroke="#111">Proximal tubule bicarbonate reclamation</text>
<rect x="559.3" y="1659.3" width="3.1" height="13.4" fill="#5a6a7a"/>
<text x="578.3" y="1670.3" font-size="21.3" fill="#111" stroke="#111">Butanoate metabolism</text>
<rect x="559.3" y="1744.3" width="3.1" height="13.4" fill="#1f5a35"/>
<text x="578.3" y="1755.3" font-size="21.3" fill="#111" stroke="#111">Ascorbate and aldarate metabolism</text>
<rect x="559.3" y="1776.7" width="3.1" height="26.6" fill="#5a7a5a"/>
<text x="578.3" y="1795.2" font-size="21.3" fill="#111" stroke="#111">Pentose phosphate pathway</text>
<rect x="559.3" y="1823.3" width="3.1" height="36.7" fill="#5a6272"/>
<text x="578.3" y="1846.3" font-size="21.3" fill="#111" stroke="#111">Amino sugar and nucleotide sugar metabolism</text>
<rect x="559.3" y="1880.0" width="3.1" height="50.0" fill="#606a78"/>
<text x="578.3" y="1909.3" font-size="21.3" fill="#111" stroke="#111">Glycolysis / Gluconeogenesis</text>
<rect x="559.3" y="1950.0" width="3.1" height="26.0" fill="#34407a"/>
<text x="578.3" y="1966.4" font-size="21.3" fill="#111" stroke="#111">Galactose metabolism</text>
<rect x="559.3" y="1995.7" width="3.1" height="31.0" fill="#5a6272"/>
<text x="578.3" y="2015.3" font-size="21.3" fill="#111" stroke="#111">Starch and sucrose metabolism</text>
<rect x="559.3" y="2046.7" width="3.1" height="36.6" fill="#2f6b45"/>
<text x="578.3" y="2069.7" font-size="21.3" fill="#111" stroke="#111">Lysine degradation</text>
<rect x="559.3" y="2103.3" width="3.1" height="21.7" fill="#6a6a6a"/>
<text x="578.3" y="2118.6" font-size="21.3" fill="#111" stroke="#111">Pyrimidine metabolism</text>
<rect x="559.3" y="2144.3" width="3.1" height="31.4" fill="#7a3010"/>
<text x="578.3" y="2164.6" font-size="21.3" fill="#111" stroke="#111">Fructose and mannose metabolism</text>
<rect x="559.3" y="2195.7" width="3.1" height="42.6" fill="#6a7a62"/>
<text x="578.3" y="2221.4" font-size="21.3" fill="#111" stroke="#111">Pentose and glucuronate interconversions</text>
<rect x="559.3" y="2258.3" width="3.1" height="50.0" fill="#2f5f7a"/>
<text x="578.3" y="2278.6" font-size="21.3" fill="#111" stroke="#111">Inositol phosphate metabolism</text>
<rect x="559.3" y="2328.3" width="3.1" height="21.0" fill="#7a5a42"/>
<text x="578.3" y="2343.0" font-size="21.3" fill="#111" stroke="#111">Phosphatidylinositol signaling system</text>
<rect x="559.3" y="2369.0" width="3.1" height="7.0" fill="#7a3a1a"/>
<text x="578.3" y="2377.0" font-size="21.3" fill="#111" stroke="#111">Valine, leucine and isoleucine biosynthesis</text>
<text x="578.3" y="2304.6" font-size="21.3" fill="#111" stroke="#111">Inositol phosphate metabolism</text>
<text x="741.5" y="1220.1" font-size="24.4" fill="#111" stroke="#111" text-anchor="middle">KEGG Metabolic Pathways</text>
<text x="742.5" y="1248.6" font-size="24.5" fill="#111" stroke="#111" text-anchor="middle">altered in the Serum (FDR&lt;0.05)</text>
<text x="37.7" y="1927.3" font-size="24.3" fill="#111" stroke="#111" font-weight="bold" textLength="389.0" lengthAdjust="spacingAndGlyphs" transform="rotate(-90 37.7 1927.3)">Pathway contributing metabolites</text>
<line x1="30.7" y1="1262.0" x2="30.7" y2="1517.7" stroke="#6d6e71" stroke-width="1.2"/>
<path d="M30.7 1254.5L23.5 1268L30.7 1264.5L37.9 1268Z" fill="#6d6e71"/>
<line x1="30.7" y1="1955.0" x2="30.7" y2="2384.0" stroke="#6d6e71" stroke-width="1.2"/>
<path d="M30.7 2392L23.5 2378.5L30.7 2382L37.9 2378.5Z" fill="#6d6e71"/>
<rect x="40.7" y="2352.3" width="14.3" height="13.4" fill="#e5293b"/>
<text x="55.0" y="2346.0" font-size="24" fill="#111" stroke="#111" textLength="92.7" lengthAdjust="spacingAndGlyphs" transform="rotate(-90 55.0 2346.0)">Elevated</text>
<rect x="40.7" y="2218.3" width="14.3" height="12.7" fill="#3b3a9e"/>
<text x="55.0" y="2211.7" font-size="24" fill="#111" stroke="#111" textLength="116.7" lengthAdjust="spacingAndGlyphs" transform="rotate(-90 55.0 2211.7)">Decreased</text>
</g>
<g id="ph">
<text x="1109.3" y="1690.2" font-size="42" fill="#1a1a1a" stroke="#1a1a1a" style="stroke-width:.7px">h</text>
<text x="1332.1" y="1669.7" font-size="25.5" fill="#111" stroke="#111" textLength="75.2" lengthAdjust="spacingAndGlyphs">Serum</text>
<text x="1213.9" y="1991.9" font-size="27.5" fill="#111" stroke="#111" textLength="214.5" lengthAdjust="spacingAndGlyphs" transform="rotate(-90 1213.9 1991.9)">Log2 fold change</text>
<rect x="1311.4" y="1742.7" width="51.9" height="50.3" fill="#3f3d3c"/>
<rect x="1388.7" y="1793.0" width="52.4" height="183.7" fill="#3f3d3c"/>
<line x1="1299.6" y1="1701.7" x2="1299.6" y2="2065.4" stroke="#333" stroke-width="1"/>
<line x1="1299.6" y1="2065.4" x2="1453.7" y2="2065.4" stroke="#333" stroke-width="1"/>
<line x1="1299.6" y1="1793.0" x2="1453.7" y2="1793.0" stroke="#333" stroke-width="0.9"/>
<line x1="1289.9" y1="1702.2" x2="1299.6" y2="1702.2" stroke="#333" stroke-width="1"/>
<text x="1283.5" y="1705.1" font-size="24" fill="#111" stroke="#111" text-anchor="end">0.5</text>
<line x1="1289.9" y1="1793.0" x2="1299.6" y2="1793.0" stroke="#333" stroke-width="1"/>
<text x="1283.5" y="1800.1" font-size="24" fill="#111" stroke="#111" text-anchor="end">0.0</text>
<line x1="1289.9" y1="1883.8" x2="1299.6" y2="1883.8" stroke="#333" stroke-width="1"/>
<text x="1283.5" y="1891.3" font-size="24" fill="#111" stroke="#111" text-anchor="end">-0.5</text>
<line x1="1289.9" y1="1974.6" x2="1299.6" y2="1974.6" stroke="#333" stroke-width="1"/>
<text x="1283.5" y="1982.1" font-size="24" fill="#111" stroke="#111" text-anchor="end">-1.0</text>
<line x1="1289.9" y1="2065.4" x2="1299.6" y2="2065.4" stroke="#333" stroke-width="1"/>
<text x="1283.5" y="2067.4" font-size="24" fill="#111" stroke="#111" text-anchor="end">-1.5</text>
<line x1="1337.6" y1="2065.4" x2="1337.6" y2="2073.8" stroke="#333" stroke-width="1"/>
<line x1="1414.9" y1="2065.4" x2="1414.9" y2="2073.8" stroke="#333" stroke-width="1"/>
<text x="1316.5" y="2103.4" font-size="24" fill="#111" stroke="#111" textLength="36.7" lengthAdjust="spacingAndGlyphs">Gln</text>
<text x="1393.3" y="2103.4" font-size="24" fill="#111" stroke="#111" textLength="36.3" lengthAdjust="spacingAndGlyphs">Glu</text>
<text x="1309.3" y="1730.1" font-size="24" fill="#111" stroke="#111" textLength="87.4" lengthAdjust="spacingAndGlyphs"><tspan font-style="italic">q</tspan> = 0.04</text>
<text x="1372.7" y="2004.6" font-size="24" fill="#111" stroke="#111" textLength="100.9" lengthAdjust="spacingAndGlyphs"><tspan font-style="italic">q</tspan> = 0.028</text>
</g>
</svg>
</body></html>
